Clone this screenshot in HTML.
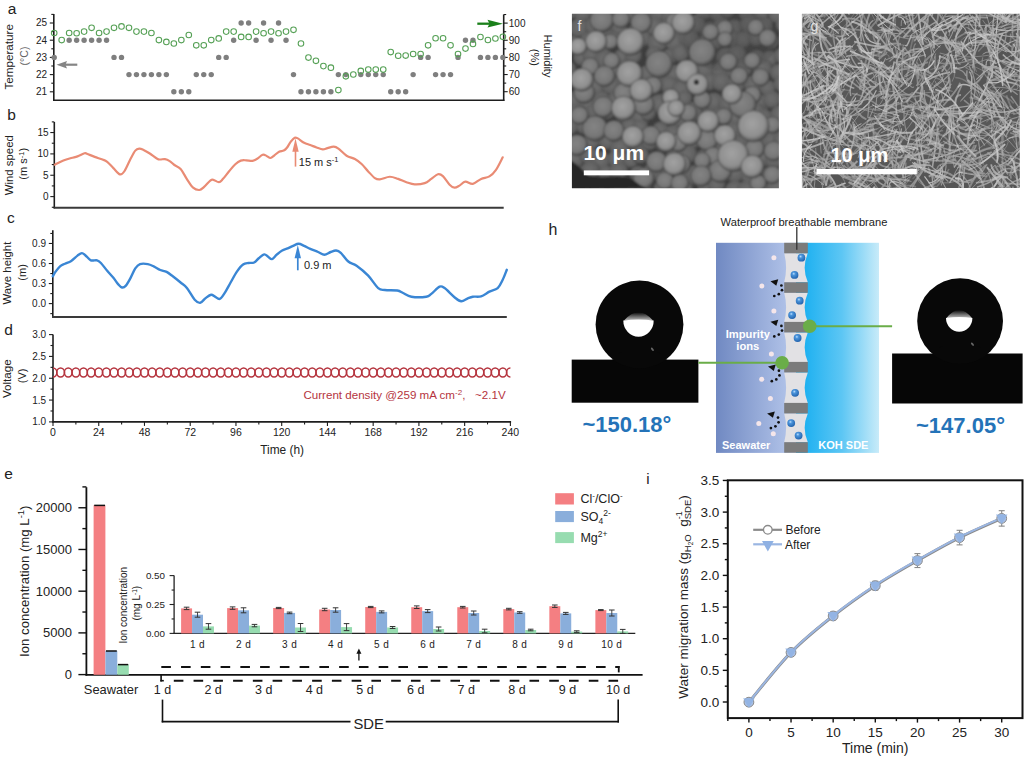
<!DOCTYPE html>
<html><head><meta charset="utf-8"><style>
html,body{margin:0;padding:0;background:#fff;}
svg{display:block;}
text{font-family:"Liberation Sans",sans-serif;}
</style></head><body>
<svg width="1024" height="757" viewBox="0 0 1024 757">
<rect width="1024" height="757" fill="#fff"/>
<text x="7.8" y="14" font-size="15.5" fill="#222" text-anchor="start" font-weight="normal" >a</text>
<line x1="53.8" y1="14" x2="53.8" y2="101" stroke="#1e1e1e" stroke-width="1.6" />
<line x1="53.1" y1="100.3" x2="504.4" y2="100.3" stroke="#1e1e1e" stroke-width="1.6" />
<line x1="503.7" y1="14.5" x2="503.7" y2="101" stroke="#1e1e1e" stroke-width="1.6" />
<line x1="51.3" y1="14.4" x2="53.8" y2="14.4" stroke="#1e1e1e" stroke-width="1.1" />
<line x1="49.8" y1="23" x2="53.8" y2="23" stroke="#1e1e1e" stroke-width="1.1" />
<text x="47.2" y="26.3" font-size="10" fill="#222" text-anchor="end" font-weight="normal" >25</text>
<line x1="51.3" y1="31.6" x2="53.8" y2="31.6" stroke="#1e1e1e" stroke-width="1.1" />
<line x1="49.8" y1="40.2" x2="53.8" y2="40.2" stroke="#1e1e1e" stroke-width="1.1" />
<text x="47.2" y="43.5" font-size="10" fill="#222" text-anchor="end" font-weight="normal" >24</text>
<line x1="51.3" y1="48.8" x2="53.8" y2="48.8" stroke="#1e1e1e" stroke-width="1.1" />
<line x1="49.8" y1="57.4" x2="53.8" y2="57.4" stroke="#1e1e1e" stroke-width="1.1" />
<text x="47.2" y="60.7" font-size="10" fill="#222" text-anchor="end" font-weight="normal" >23</text>
<line x1="51.3" y1="66" x2="53.8" y2="66" stroke="#1e1e1e" stroke-width="1.1" />
<line x1="49.8" y1="74.6" x2="53.8" y2="74.6" stroke="#1e1e1e" stroke-width="1.1" />
<text x="47.2" y="77.9" font-size="10" fill="#222" text-anchor="end" font-weight="normal" >22</text>
<line x1="51.3" y1="83.2" x2="53.8" y2="83.2" stroke="#1e1e1e" stroke-width="1.1" />
<line x1="49.8" y1="91.8" x2="53.8" y2="91.8" stroke="#1e1e1e" stroke-width="1.1" />
<text x="47.2" y="95.1" font-size="10" fill="#222" text-anchor="end" font-weight="normal" >21</text>
<line x1="503.7" y1="14.53" x2="506.2" y2="14.53" stroke="#1e1e1e" stroke-width="1.1" />
<line x1="503.7" y1="23.1" x2="507.7" y2="23.1" stroke="#1e1e1e" stroke-width="1.1" />
<text x="508.8" y="26.5" font-size="10" fill="#222" text-anchor="start" font-weight="normal" >100</text>
<line x1="503.7" y1="31.68" x2="506.2" y2="31.68" stroke="#1e1e1e" stroke-width="1.1" />
<line x1="503.7" y1="40.25" x2="507.7" y2="40.25" stroke="#1e1e1e" stroke-width="1.1" />
<text x="508.8" y="43.65" font-size="10" fill="#222" text-anchor="start" font-weight="normal" >90</text>
<line x1="503.7" y1="48.83" x2="506.2" y2="48.83" stroke="#1e1e1e" stroke-width="1.1" />
<line x1="503.7" y1="57.4" x2="507.7" y2="57.4" stroke="#1e1e1e" stroke-width="1.1" />
<text x="508.8" y="60.8" font-size="10" fill="#222" text-anchor="start" font-weight="normal" >80</text>
<line x1="503.7" y1="65.97" x2="506.2" y2="65.97" stroke="#1e1e1e" stroke-width="1.1" />
<line x1="503.7" y1="74.55" x2="507.7" y2="74.55" stroke="#1e1e1e" stroke-width="1.1" />
<text x="508.8" y="77.95" font-size="10" fill="#222" text-anchor="start" font-weight="normal" >70</text>
<line x1="503.7" y1="83.12" x2="506.2" y2="83.12" stroke="#1e1e1e" stroke-width="1.1" />
<line x1="503.7" y1="91.7" x2="507.7" y2="91.7" stroke="#1e1e1e" stroke-width="1.1" />
<text x="508.8" y="95.1" font-size="10" fill="#222" text-anchor="start" font-weight="normal" >60</text>
<text x="13.1" y="56.8" font-size="11.7" fill="#222" text-anchor="middle" font-weight="normal" transform="rotate(-90 13.1 56.8)" >Temperature</text>
<text x="28.3" y="56" font-size="10.5" fill="#606060" text-anchor="middle" font-weight="normal" transform="rotate(-90 28.3 56)" >(°C)</text>
<text x="544" y="56" font-size="11" fill="#222" text-anchor="middle" font-weight="normal" transform="rotate(90 544 56)" >Humidity</text>
<text x="531" y="57.3" font-size="11" fill="#222" text-anchor="middle" font-weight="normal" transform="rotate(90 531 57.3)" >(%)</text>
<circle cx="54.2" cy="57.4" r="2.7" fill="#7f7f7f"/>
<circle cx="69.16" cy="40.2" r="2.7" fill="#7f7f7f"/>
<circle cx="76.63" cy="40.2" r="2.7" fill="#7f7f7f"/>
<circle cx="84.11" cy="40.2" r="2.7" fill="#7f7f7f"/>
<circle cx="91.59" cy="40.2" r="2.7" fill="#7f7f7f"/>
<circle cx="99.07" cy="40.2" r="2.7" fill="#7f7f7f"/>
<circle cx="106.55" cy="40.2" r="2.7" fill="#7f7f7f"/>
<circle cx="114.02" cy="57.4" r="2.7" fill="#7f7f7f"/>
<circle cx="121.5" cy="57.4" r="2.7" fill="#7f7f7f"/>
<circle cx="128.98" cy="74.6" r="2.7" fill="#7f7f7f"/>
<circle cx="136.46" cy="74.6" r="2.7" fill="#7f7f7f"/>
<circle cx="143.94" cy="74.6" r="2.7" fill="#7f7f7f"/>
<circle cx="151.41" cy="74.6" r="2.7" fill="#7f7f7f"/>
<circle cx="158.89" cy="74.6" r="2.7" fill="#7f7f7f"/>
<circle cx="166.37" cy="74.6" r="2.7" fill="#7f7f7f"/>
<circle cx="173.85" cy="91.8" r="2.7" fill="#7f7f7f"/>
<circle cx="181.33" cy="91.8" r="2.7" fill="#7f7f7f"/>
<circle cx="188.8" cy="91.8" r="2.7" fill="#7f7f7f"/>
<circle cx="196.28" cy="74.6" r="2.7" fill="#7f7f7f"/>
<circle cx="203.76" cy="74.6" r="2.7" fill="#7f7f7f"/>
<circle cx="211.24" cy="74.6" r="2.7" fill="#7f7f7f"/>
<circle cx="218.72" cy="57.4" r="2.7" fill="#7f7f7f"/>
<circle cx="226.19" cy="57.4" r="2.7" fill="#7f7f7f"/>
<circle cx="233.67" cy="40.2" r="2.7" fill="#7f7f7f"/>
<circle cx="241.15" cy="23" r="2.7" fill="#7f7f7f"/>
<circle cx="248.63" cy="23" r="2.7" fill="#7f7f7f"/>
<circle cx="256.11" cy="40.2" r="2.7" fill="#7f7f7f"/>
<circle cx="263.58" cy="23" r="2.7" fill="#7f7f7f"/>
<circle cx="271.06" cy="40.2" r="2.7" fill="#7f7f7f"/>
<circle cx="278.54" cy="23" r="2.7" fill="#7f7f7f"/>
<circle cx="286.02" cy="40.2" r="2.7" fill="#7f7f7f"/>
<circle cx="293.5" cy="74.6" r="2.7" fill="#7f7f7f"/>
<circle cx="300.97" cy="91.8" r="2.7" fill="#7f7f7f"/>
<circle cx="308.45" cy="91.8" r="2.7" fill="#7f7f7f"/>
<circle cx="315.93" cy="91.8" r="2.7" fill="#7f7f7f"/>
<circle cx="323.41" cy="91.8" r="2.7" fill="#7f7f7f"/>
<circle cx="330.89" cy="91.8" r="2.7" fill="#7f7f7f"/>
<circle cx="338.36" cy="74.6" r="2.7" fill="#7f7f7f"/>
<circle cx="345.84" cy="74.6" r="2.7" fill="#7f7f7f"/>
<circle cx="360.8" cy="74.6" r="2.7" fill="#7f7f7f"/>
<circle cx="368.28" cy="74.6" r="2.7" fill="#7f7f7f"/>
<circle cx="375.75" cy="74.6" r="2.7" fill="#7f7f7f"/>
<circle cx="383.23" cy="74.6" r="2.7" fill="#7f7f7f"/>
<circle cx="390.71" cy="91.8" r="2.7" fill="#7f7f7f"/>
<circle cx="398.19" cy="91.8" r="2.7" fill="#7f7f7f"/>
<circle cx="405.67" cy="91.8" r="2.7" fill="#7f7f7f"/>
<circle cx="413.14" cy="74.6" r="2.7" fill="#7f7f7f"/>
<circle cx="420.62" cy="57.4" r="2.7" fill="#7f7f7f"/>
<circle cx="428.1" cy="57.4" r="2.7" fill="#7f7f7f"/>
<circle cx="435.58" cy="74.6" r="2.7" fill="#7f7f7f"/>
<circle cx="443.06" cy="74.6" r="2.7" fill="#7f7f7f"/>
<circle cx="450.53" cy="74.6" r="2.7" fill="#7f7f7f"/>
<circle cx="458.01" cy="57.4" r="2.7" fill="#7f7f7f"/>
<circle cx="465.49" cy="40.2" r="2.7" fill="#7f7f7f"/>
<circle cx="472.97" cy="40.2" r="2.7" fill="#7f7f7f"/>
<circle cx="480.45" cy="57.4" r="2.7" fill="#7f7f7f"/>
<circle cx="487.92" cy="57.4" r="2.7" fill="#7f7f7f"/>
<circle cx="495.4" cy="57.4" r="2.7" fill="#7f7f7f"/>
<circle cx="502.88" cy="57.4" r="2.7" fill="#7f7f7f"/>
<circle cx="54.2" cy="33" r="2.8" fill="none" stroke="#55a055" stroke-width="1.05"/>
<circle cx="61.68" cy="40.1" r="2.8" fill="none" stroke="#55a055" stroke-width="1.05"/>
<circle cx="69.16" cy="33" r="2.8" fill="none" stroke="#55a055" stroke-width="1.05"/>
<circle cx="76.63" cy="33.2" r="2.8" fill="none" stroke="#55a055" stroke-width="1.05"/>
<circle cx="84.11" cy="31.6" r="2.8" fill="none" stroke="#55a055" stroke-width="1.05"/>
<circle cx="91.59" cy="27.8" r="2.8" fill="none" stroke="#55a055" stroke-width="1.05"/>
<circle cx="99.07" cy="33" r="2.8" fill="none" stroke="#55a055" stroke-width="1.05"/>
<circle cx="106.55" cy="31.6" r="2.8" fill="none" stroke="#55a055" stroke-width="1.05"/>
<circle cx="114.02" cy="27.8" r="2.8" fill="none" stroke="#55a055" stroke-width="1.05"/>
<circle cx="121.5" cy="26.4" r="2.8" fill="none" stroke="#55a055" stroke-width="1.05"/>
<circle cx="128.98" cy="27.8" r="2.8" fill="none" stroke="#55a055" stroke-width="1.05"/>
<circle cx="136.46" cy="31.6" r="2.8" fill="none" stroke="#55a055" stroke-width="1.05"/>
<circle cx="143.94" cy="31.6" r="2.8" fill="none" stroke="#55a055" stroke-width="1.05"/>
<circle cx="151.41" cy="33" r="2.8" fill="none" stroke="#55a055" stroke-width="1.05"/>
<circle cx="158.89" cy="40.1" r="2.8" fill="none" stroke="#55a055" stroke-width="1.05"/>
<circle cx="166.37" cy="41.9" r="2.8" fill="none" stroke="#55a055" stroke-width="1.05"/>
<circle cx="173.85" cy="43.5" r="2.8" fill="none" stroke="#55a055" stroke-width="1.05"/>
<circle cx="181.33" cy="40.1" r="2.8" fill="none" stroke="#55a055" stroke-width="1.05"/>
<circle cx="188.8" cy="35" r="2.8" fill="none" stroke="#55a055" stroke-width="1.05"/>
<circle cx="196.28" cy="45.3" r="2.8" fill="none" stroke="#55a055" stroke-width="1.05"/>
<circle cx="203.76" cy="45.3" r="2.8" fill="none" stroke="#55a055" stroke-width="1.05"/>
<circle cx="211.24" cy="40.1" r="2.8" fill="none" stroke="#55a055" stroke-width="1.05"/>
<circle cx="218.72" cy="38.4" r="2.8" fill="none" stroke="#55a055" stroke-width="1.05"/>
<circle cx="226.19" cy="31.6" r="2.8" fill="none" stroke="#55a055" stroke-width="1.05"/>
<circle cx="233.67" cy="31.6" r="2.8" fill="none" stroke="#55a055" stroke-width="1.05"/>
<circle cx="241.15" cy="36.9" r="2.8" fill="none" stroke="#55a055" stroke-width="1.05"/>
<circle cx="248.63" cy="36.9" r="2.8" fill="none" stroke="#55a055" stroke-width="1.05"/>
<circle cx="256.11" cy="31.6" r="2.8" fill="none" stroke="#55a055" stroke-width="1.05"/>
<circle cx="263.58" cy="33.2" r="2.8" fill="none" stroke="#55a055" stroke-width="1.05"/>
<circle cx="271.06" cy="31.6" r="2.8" fill="none" stroke="#55a055" stroke-width="1.05"/>
<circle cx="278.54" cy="33.2" r="2.8" fill="none" stroke="#55a055" stroke-width="1.05"/>
<circle cx="286.02" cy="31.6" r="2.8" fill="none" stroke="#55a055" stroke-width="1.05"/>
<circle cx="293.5" cy="29.8" r="2.8" fill="none" stroke="#55a055" stroke-width="1.05"/>
<circle cx="300.97" cy="43.5" r="2.8" fill="none" stroke="#55a055" stroke-width="1.05"/>
<circle cx="308.45" cy="57.6" r="2.8" fill="none" stroke="#55a055" stroke-width="1.05"/>
<circle cx="315.93" cy="60.8" r="2.8" fill="none" stroke="#55a055" stroke-width="1.05"/>
<circle cx="323.41" cy="66.1" r="2.8" fill="none" stroke="#55a055" stroke-width="1.05"/>
<circle cx="330.89" cy="67.7" r="2.8" fill="none" stroke="#55a055" stroke-width="1.05"/>
<circle cx="338.36" cy="90.1" r="2.8" fill="none" stroke="#55a055" stroke-width="1.05"/>
<circle cx="345.84" cy="76.3" r="2.8" fill="none" stroke="#55a055" stroke-width="1.05"/>
<circle cx="353.32" cy="74.5" r="2.8" fill="none" stroke="#55a055" stroke-width="1.05"/>
<circle cx="360.8" cy="70.9" r="2.8" fill="none" stroke="#55a055" stroke-width="1.05"/>
<circle cx="368.28" cy="69.6" r="2.8" fill="none" stroke="#55a055" stroke-width="1.05"/>
<circle cx="375.75" cy="69.6" r="2.8" fill="none" stroke="#55a055" stroke-width="1.05"/>
<circle cx="383.23" cy="69.6" r="2.8" fill="none" stroke="#55a055" stroke-width="1.05"/>
<circle cx="390.71" cy="52.1" r="2.8" fill="none" stroke="#55a055" stroke-width="1.05"/>
<circle cx="398.19" cy="55.7" r="2.8" fill="none" stroke="#55a055" stroke-width="1.05"/>
<circle cx="405.67" cy="55.6" r="2.8" fill="none" stroke="#55a055" stroke-width="1.05"/>
<circle cx="413.14" cy="54" r="2.8" fill="none" stroke="#55a055" stroke-width="1.05"/>
<circle cx="420.62" cy="54.1" r="2.8" fill="none" stroke="#55a055" stroke-width="1.05"/>
<circle cx="428.1" cy="45.3" r="2.8" fill="none" stroke="#55a055" stroke-width="1.05"/>
<circle cx="435.58" cy="38.2" r="2.8" fill="none" stroke="#55a055" stroke-width="1.05"/>
<circle cx="443.06" cy="38.2" r="2.8" fill="none" stroke="#55a055" stroke-width="1.05"/>
<circle cx="450.53" cy="45.3" r="2.8" fill="none" stroke="#55a055" stroke-width="1.05"/>
<circle cx="458.01" cy="54" r="2.8" fill="none" stroke="#55a055" stroke-width="1.05"/>
<circle cx="465.49" cy="48.6" r="2.8" fill="none" stroke="#55a055" stroke-width="1.05"/>
<circle cx="472.97" cy="43.9" r="2.8" fill="none" stroke="#55a055" stroke-width="1.05"/>
<circle cx="480.45" cy="37" r="2.8" fill="none" stroke="#55a055" stroke-width="1.05"/>
<circle cx="487.92" cy="40" r="2.8" fill="none" stroke="#55a055" stroke-width="1.05"/>
<circle cx="495.4" cy="38.5" r="2.8" fill="none" stroke="#55a055" stroke-width="1.05"/>
<circle cx="502.88" cy="36.8" r="2.8" fill="none" stroke="#55a055" stroke-width="1.05"/>
<path d="M56.5,64.7 L67,61 L65.5,64.7 L67,68.4 Z" fill="#858585"/>
<line x1="64" y1="64.7" x2="77.3" y2="64.7" stroke="#858585" stroke-width="2.2" />
<path d="M503,23.7 L487.5,19.8 L489.5,23.7 L487.5,27.6 Z" fill="#1a801a"/>
<line x1="477.3" y1="23.7" x2="490" y2="23.7" stroke="#1a801a" stroke-width="2.3" />
<text x="7.2" y="119.9" font-size="15.5" fill="#222" text-anchor="start" font-weight="normal" >b</text>
<line x1="54.3" y1="122" x2="54.3" y2="208.4" stroke="#1e1e1e" stroke-width="1.6" />
<line x1="53.6" y1="207.7" x2="503.7" y2="207.7" stroke="#3a3a3a" stroke-width="1.9" />
<line x1="51.8" y1="121.88" x2="54.3" y2="121.88" stroke="#1e1e1e" stroke-width="1.1" />
<line x1="50.3" y1="132.55" x2="54.3" y2="132.55" stroke="#1e1e1e" stroke-width="1.1" />
<text x="48.6" y="136.05" font-size="10" fill="#222" text-anchor="end" font-weight="normal" >15</text>
<line x1="51.8" y1="143.22" x2="54.3" y2="143.22" stroke="#1e1e1e" stroke-width="1.1" />
<line x1="50.3" y1="153.9" x2="54.3" y2="153.9" stroke="#1e1e1e" stroke-width="1.1" />
<text x="48.6" y="157.4" font-size="10" fill="#222" text-anchor="end" font-weight="normal" >10</text>
<line x1="51.8" y1="164.57" x2="54.3" y2="164.57" stroke="#1e1e1e" stroke-width="1.1" />
<line x1="50.3" y1="175.25" x2="54.3" y2="175.25" stroke="#1e1e1e" stroke-width="1.1" />
<text x="48.6" y="178.75" font-size="10" fill="#222" text-anchor="end" font-weight="normal" >5</text>
<line x1="51.8" y1="185.92" x2="54.3" y2="185.92" stroke="#1e1e1e" stroke-width="1.1" />
<line x1="50.3" y1="196.6" x2="54.3" y2="196.6" stroke="#1e1e1e" stroke-width="1.1" />
<text x="48.6" y="200.1" font-size="10" fill="#222" text-anchor="end" font-weight="normal" >0</text>
<line x1="51.8" y1="207.28" x2="54.3" y2="207.28" stroke="#1e1e1e" stroke-width="1.1" />
<text x="12.7" y="165.2" font-size="11.4" fill="#222" text-anchor="middle" font-weight="normal" transform="rotate(-90 12.7 165.2)" >Wind speed</text>
<text x="27.3" y="163.8" font-size="11" fill="#222" text-anchor="middle" font-weight="normal" transform="rotate(-90 27.3 163.8)" >(m s<tspan dy="-3.5" font-size="7.5">-1</tspan><tspan dy="3.5">)</tspan></text>
<path d="M54.8,164.7 C56.23,164.02 60.65,161.72 63.4,160.6 C66.15,159.48 68.95,158.7 71.3,158 C73.65,157.3 75.3,157.18 77.5,156.4 C79.7,155.62 82.93,153.74 84.5,153.3 C86.07,152.86 85.2,153.15 86.9,153.75 C88.6,154.35 92.1,155.94 94.7,156.9 C97.3,157.86 100.42,158.67 102.5,159.5 C104.58,160.33 105.38,160.47 107.2,161.9 C109.02,163.33 111.27,166.02 113.4,168.1 C115.53,170.18 118.17,173.88 120,174.4 C121.83,174.93 122.63,173.86 124.4,171.25 C126.17,168.64 128.78,162.19 130.6,158.75 C132.42,155.31 133.87,152.29 135.3,150.6 C136.73,148.91 137.9,148.75 139.2,148.6 C140.5,148.45 141.4,148.92 143.1,149.7 C144.8,150.48 147.05,151.79 149.4,153.3 C151.75,154.81 155.38,157.72 157.2,158.75 C159.02,159.78 159,159.44 160.3,159.5 C161.6,159.56 163.43,158.83 165,159.1 C166.57,159.37 168.13,160.12 169.7,161.1 C171.27,162.08 172.58,163.7 174.4,165 C176.22,166.3 178.52,166.55 180.6,168.9 C182.68,171.25 184.82,175.97 186.9,179.1 C188.98,182.23 191.02,185.88 193.1,187.7 C195.18,189.52 197.57,190.13 199.4,190 C201.23,189.87 202.28,188.47 204.1,186.9 C205.92,185.33 208.75,181.78 210.3,180.6 C211.85,179.42 211.97,179.53 213.4,179.8 C214.83,180.07 217.33,182.32 218.9,182.2 C220.47,182.08 221.1,180.92 222.8,179.1 C224.5,177.28 227.02,173.73 229.1,171.25 C231.18,168.77 233.35,165.97 235.3,164.2 C237.25,162.42 238.98,161.25 240.8,160.6 C242.62,159.95 244.3,160.27 246.25,160.3 C248.2,160.33 250.68,161.06 252.5,160.8 C254.32,160.54 255.5,159.75 257.2,158.75 C258.9,157.75 261.13,155.28 262.7,154.8 C264.27,154.33 265.3,155.37 266.6,155.9 C267.9,156.43 269.2,158.1 270.5,158 C271.8,157.9 272.97,156.35 274.4,155.3 C275.83,154.25 277.54,152.48 279.1,151.7 C280.66,150.92 282.45,151.25 283.75,150.6 C285.05,149.95 285.72,149.3 286.9,147.8 C288.07,146.3 289.5,143.28 290.8,141.6 C292.1,139.92 293.53,138.23 294.7,137.7 C295.87,137.17 296.23,137.55 297.8,138.4 C299.37,139.25 302.02,141.7 304.1,142.8 C306.18,143.9 308.22,144.22 310.3,145 C312.38,145.78 314.52,146.77 316.6,147.5 C318.68,148.23 320.98,149.3 322.8,149.4 C324.62,149.5 325.68,148.55 327.5,148.1 C329.32,147.65 331.93,146.62 333.75,146.7 C335.57,146.78 336.26,147.1 338.4,148.6 C340.54,150.1 343.85,153.97 346.6,155.7 C349.35,157.43 352.4,157.62 354.9,159 C357.4,160.38 359.38,161.93 361.6,164 C363.82,166.07 365.98,169.05 368.2,171.4 C370.42,173.75 372.97,176.77 374.9,178.1 C376.83,179.43 377.32,179.62 379.8,179.4 C382.28,179.18 386.75,176.83 389.8,176.75 C392.85,176.67 395.33,177.99 398.1,178.9 C400.87,179.81 403.63,181.28 406.4,182.2 C409.17,183.12 411.65,184.25 414.7,184.4 C417.75,184.55 421.93,184.02 424.7,183.1 C427.47,182.18 429.1,180.37 431.3,178.9 C433.5,177.43 435.97,174.77 437.9,174.3 C439.83,173.83 440.95,174.37 442.9,176.1 C444.85,177.83 447.67,182.77 449.6,184.7 C451.53,186.63 452.85,187.55 454.5,187.7 C456.15,187.85 457.7,186.6 459.5,185.6 C461.3,184.6 463.08,181.98 465.3,181.7 C467.52,181.42 470.17,184.37 472.8,183.9 C475.43,183.43 478.33,180.15 481.1,178.9 C483.87,177.65 486.92,177.92 489.4,176.4 C491.88,174.88 493.78,172.98 496,169.8 C498.22,166.62 501.58,159.38 502.7,157.3" fill="none" stroke="#e98b74" stroke-width="2.2" stroke-linejoin="round" stroke-linecap="round"/>
<line x1="295.5" y1="166.6" x2="295.5" y2="148" stroke="#e98b74" stroke-width="1.6" />
<path d="M295.5,138.4 L292.3,151.7 L298.7,151.7 Z" fill="#e98b74"/>
<text x="298.8" y="166.3" font-size="11" fill="#222" text-anchor="start" font-weight="normal" >15 m s<tspan dy="-4" font-size="7.5">-1</tspan></text>
<text x="7.1" y="223.3" font-size="15.5" fill="#222" text-anchor="start" font-weight="normal" >c</text>
<line x1="52.8" y1="230.2" x2="52.8" y2="317.7" stroke="#1e1e1e" stroke-width="1.6" />
<line x1="52.1" y1="317" x2="506.8" y2="317" stroke="#3a3a3a" stroke-width="1.9" />
<line x1="50.3" y1="233.46" x2="52.8" y2="233.46" stroke="#1e1e1e" stroke-width="1.1" />
<line x1="48.8" y1="243.48" x2="52.8" y2="243.48" stroke="#1e1e1e" stroke-width="1.1" />
<text x="46" y="246.98" font-size="10" fill="#222" text-anchor="end" font-weight="normal" >0.9</text>
<line x1="50.3" y1="253.5" x2="52.8" y2="253.5" stroke="#1e1e1e" stroke-width="1.1" />
<line x1="48.8" y1="263.52" x2="52.8" y2="263.52" stroke="#1e1e1e" stroke-width="1.1" />
<text x="46" y="267.02" font-size="10" fill="#222" text-anchor="end" font-weight="normal" >0.6</text>
<line x1="50.3" y1="273.54" x2="52.8" y2="273.54" stroke="#1e1e1e" stroke-width="1.1" />
<line x1="48.8" y1="283.56" x2="52.8" y2="283.56" stroke="#1e1e1e" stroke-width="1.1" />
<text x="46" y="287.06" font-size="10" fill="#222" text-anchor="end" font-weight="normal" >0.3</text>
<line x1="50.3" y1="293.58" x2="52.8" y2="293.58" stroke="#1e1e1e" stroke-width="1.1" />
<line x1="48.8" y1="303.6" x2="52.8" y2="303.6" stroke="#1e1e1e" stroke-width="1.1" />
<text x="46" y="307.1" font-size="10" fill="#222" text-anchor="end" font-weight="normal" >0.0</text>
<line x1="50.3" y1="313.62" x2="52.8" y2="313.62" stroke="#1e1e1e" stroke-width="1.1" />
<text x="10.6" y="273.1" font-size="11.4" fill="#222" text-anchor="middle" font-weight="normal" transform="rotate(-90 10.6 273.1)" >Wave height</text>
<text x="26.2" y="272.4" font-size="11" fill="#222" text-anchor="middle" font-weight="normal" transform="rotate(-90 26.2 272.4)" >(m)</text>
<path d="M52.8,276.25 C53.27,275.48 54.35,273.29 55.6,271.6 C56.85,269.91 58.73,267.41 60.3,266.1 C61.87,264.79 63.17,264.62 65,263.75 C66.83,262.88 69.17,262.26 71.25,260.9 C73.33,259.54 75.72,256.9 77.5,255.6 C79.28,254.3 80.6,253.17 81.9,253.1 C83.2,253.03 83.82,254 85.3,255.2 C86.78,256.4 88.85,259.45 90.8,260.3 C92.75,261.15 95.32,259.85 97,260.3 C98.68,260.75 99.2,261.25 100.9,263 C102.6,264.75 105.12,268.33 107.2,270.8 C109.28,273.27 111.58,275.58 113.4,277.8 C115.22,280.02 116.67,282.48 118.1,284.1 C119.53,285.72 120.7,287.25 122,287.5 C123.3,287.75 124.47,287.22 125.9,285.6 C127.33,283.98 129.03,280.67 130.6,277.8 C132.17,274.93 133.73,270.68 135.3,268.4 C136.87,266.12 137.92,264.82 140,264.1 C142.08,263.38 145.45,263.68 147.8,264.1 C150.15,264.52 152.02,265.62 154.1,266.6 C156.18,267.58 158.22,269.12 160.3,270 C162.38,270.88 164.52,270.86 166.6,271.9 C168.68,272.94 170.47,274.48 172.8,276.25 C175.13,278.02 178.25,280.54 180.6,282.5 C182.95,284.46 184.55,285.13 186.9,288 C189.25,290.87 192.48,297.23 194.7,299.7 C196.92,302.17 198.38,303.07 200.2,302.8 C202.02,302.53 203.78,299.45 205.6,298.1 C207.42,296.75 209.53,294.95 211.1,294.7 C212.67,294.45 213.57,295.9 215,296.6 C216.43,297.3 218.13,299.43 219.7,298.9 C221.27,298.37 222.58,296.13 224.4,293.4 C226.22,290.67 228.52,286.13 230.6,282.5 C232.68,278.87 234.82,274.6 236.9,271.6 C238.98,268.6 241.15,265.93 243.1,264.5 C245.05,263.07 246.77,263.33 248.6,263 C250.43,262.67 252.41,263.28 254.1,262.5 C255.79,261.72 257.07,259.65 258.75,258.3 C260.43,256.95 262.64,254.67 264.2,254.4 C265.76,254.13 266.8,255.92 268.1,256.7 C269.4,257.48 270.57,259.43 272,259.1 C273.43,258.77 275,256.13 276.7,254.7 C278.4,253.27 280.37,251.55 282.2,250.5 C284.03,249.45 285.88,249.18 287.7,248.4 C289.52,247.62 291.28,246.58 293.1,245.8 C294.92,245.03 296.77,243.75 298.6,243.75 C300.43,243.75 302.15,244.94 304.1,245.8 C306.05,246.66 307.97,247.87 310.3,248.9 C312.63,249.93 315.75,251.03 318.1,252 C320.45,252.97 322.32,254.7 324.4,254.7 C326.48,254.7 328.65,252.7 330.6,252 C332.55,251.3 334.4,250.37 336.1,250.5 C337.8,250.63 338.77,250.97 340.8,252.8 C342.83,254.63 345.67,259.36 348.3,261.5 C350.93,263.64 353.28,263.3 356.6,265.65 C359.92,268 364.6,271.86 368.2,275.6 C371.8,279.34 375.43,285.7 378.2,288.1 C380.97,290.5 381.62,289.59 384.8,290 C387.98,290.41 394.25,290.05 397.3,290.55 C400.35,291.05 400.75,291.98 403.1,293 C405.45,294.02 407.53,296.08 411.4,296.7 C415.27,297.32 422.98,297.17 426.3,296.7 C429.62,296.23 429.08,295.57 431.3,293.9 C433.52,292.23 437.38,287.67 439.6,286.7 C441.82,285.73 442.12,286.35 444.6,288.1 C447.08,289.85 451.73,295 454.5,297.2 C457.27,299.4 458.98,301.11 461.2,301.3 C463.42,301.49 465.87,299.12 467.8,298.35 C469.73,297.58 470.58,297.03 472.8,296.7 C475.02,296.37 478.33,297.18 481.1,296.35 C483.87,295.52 486.63,293.07 489.4,291.7 C492.17,290.32 495.48,290.08 497.7,288.1 C499.92,286.12 501.18,282.85 502.7,279.8 C504.22,276.75 506.12,271.47 506.8,269.8" fill="none" stroke="#3a86d4" stroke-width="2.4" stroke-linejoin="round" stroke-linecap="round"/>
<line x1="297.8" y1="270.3" x2="297.8" y2="255" stroke="#3a86d4" stroke-width="1.7" />
<path d="M297.8,245 L294.6,258.3 L301,258.3 Z" fill="#3a86d4"/>
<text x="304" y="268.8" font-size="11" fill="#222" text-anchor="start" font-weight="normal" >0.9 m</text>
<text x="4.2" y="334.9" font-size="15.5" fill="#222" text-anchor="start" font-weight="normal" >d</text>
<line x1="53" y1="334.6" x2="53" y2="422.6" stroke="#1e1e1e" stroke-width="1.6" />
<line x1="52.3" y1="421.9" x2="511.1" y2="421.9" stroke="#1e1e1e" stroke-width="1.6" />
<line x1="49" y1="334.6" x2="53" y2="334.6" stroke="#1e1e1e" stroke-width="1.1" />
<text x="46.2" y="338.1" font-size="10" fill="#222" text-anchor="end" font-weight="normal" >3.0</text>
<line x1="50.5" y1="345.51" x2="53" y2="345.51" stroke="#1e1e1e" stroke-width="1.1" />
<line x1="49" y1="356.42" x2="53" y2="356.42" stroke="#1e1e1e" stroke-width="1.1" />
<text x="46.2" y="359.92" font-size="10" fill="#222" text-anchor="end" font-weight="normal" >2.5</text>
<line x1="50.5" y1="367.34" x2="53" y2="367.34" stroke="#1e1e1e" stroke-width="1.1" />
<line x1="49" y1="378.25" x2="53" y2="378.25" stroke="#1e1e1e" stroke-width="1.1" />
<text x="46.2" y="381.75" font-size="10" fill="#222" text-anchor="end" font-weight="normal" >2.0</text>
<line x1="50.5" y1="389.16" x2="53" y2="389.16" stroke="#1e1e1e" stroke-width="1.1" />
<line x1="49" y1="400.07" x2="53" y2="400.07" stroke="#1e1e1e" stroke-width="1.1" />
<text x="46.2" y="403.57" font-size="10" fill="#222" text-anchor="end" font-weight="normal" >1.5</text>
<line x1="50.5" y1="410.99" x2="53" y2="410.99" stroke="#1e1e1e" stroke-width="1.1" />
<line x1="49" y1="421.9" x2="53" y2="421.9" stroke="#1e1e1e" stroke-width="1.1" />
<text x="46.2" y="425.4" font-size="10" fill="#222" text-anchor="end" font-weight="normal" >1.0</text>
<line x1="53" y1="421.9" x2="53" y2="425.9" stroke="#1e1e1e" stroke-width="1.1" />
<text x="53" y="436.2" font-size="10.5" fill="#222" text-anchor="middle" font-weight="normal" >0</text>
<line x1="75.87" y1="421.9" x2="75.87" y2="424.4" stroke="#1e1e1e" stroke-width="1.1" />
<line x1="98.74" y1="421.9" x2="98.74" y2="425.9" stroke="#1e1e1e" stroke-width="1.1" />
<text x="98.74" y="436.2" font-size="10.5" fill="#222" text-anchor="middle" font-weight="normal" >24</text>
<line x1="121.61" y1="421.9" x2="121.61" y2="424.4" stroke="#1e1e1e" stroke-width="1.1" />
<line x1="144.48" y1="421.9" x2="144.48" y2="425.9" stroke="#1e1e1e" stroke-width="1.1" />
<text x="144.48" y="436.2" font-size="10.5" fill="#222" text-anchor="middle" font-weight="normal" >48</text>
<line x1="167.35" y1="421.9" x2="167.35" y2="424.4" stroke="#1e1e1e" stroke-width="1.1" />
<line x1="190.22" y1="421.9" x2="190.22" y2="425.9" stroke="#1e1e1e" stroke-width="1.1" />
<text x="190.22" y="436.2" font-size="10.5" fill="#222" text-anchor="middle" font-weight="normal" >72</text>
<line x1="213.09" y1="421.9" x2="213.09" y2="424.4" stroke="#1e1e1e" stroke-width="1.1" />
<line x1="235.96" y1="421.9" x2="235.96" y2="425.9" stroke="#1e1e1e" stroke-width="1.1" />
<text x="235.96" y="436.2" font-size="10.5" fill="#222" text-anchor="middle" font-weight="normal" >96</text>
<line x1="258.83" y1="421.9" x2="258.83" y2="424.4" stroke="#1e1e1e" stroke-width="1.1" />
<line x1="281.7" y1="421.9" x2="281.7" y2="425.9" stroke="#1e1e1e" stroke-width="1.1" />
<text x="281.7" y="436.2" font-size="10.5" fill="#222" text-anchor="middle" font-weight="normal" >120</text>
<line x1="304.57" y1="421.9" x2="304.57" y2="424.4" stroke="#1e1e1e" stroke-width="1.1" />
<line x1="327.44" y1="421.9" x2="327.44" y2="425.9" stroke="#1e1e1e" stroke-width="1.1" />
<text x="327.44" y="436.2" font-size="10.5" fill="#222" text-anchor="middle" font-weight="normal" >144</text>
<line x1="350.3" y1="421.9" x2="350.3" y2="424.4" stroke="#1e1e1e" stroke-width="1.1" />
<line x1="373.17" y1="421.9" x2="373.17" y2="425.9" stroke="#1e1e1e" stroke-width="1.1" />
<text x="373.17" y="436.2" font-size="10.5" fill="#222" text-anchor="middle" font-weight="normal" >168</text>
<line x1="396.04" y1="421.9" x2="396.04" y2="424.4" stroke="#1e1e1e" stroke-width="1.1" />
<line x1="418.91" y1="421.9" x2="418.91" y2="425.9" stroke="#1e1e1e" stroke-width="1.1" />
<text x="418.91" y="436.2" font-size="10.5" fill="#222" text-anchor="middle" font-weight="normal" >192</text>
<line x1="441.78" y1="421.9" x2="441.78" y2="424.4" stroke="#1e1e1e" stroke-width="1.1" />
<line x1="464.65" y1="421.9" x2="464.65" y2="425.9" stroke="#1e1e1e" stroke-width="1.1" />
<text x="464.65" y="436.2" font-size="10.5" fill="#222" text-anchor="middle" font-weight="normal" >216</text>
<line x1="487.52" y1="421.9" x2="487.52" y2="424.4" stroke="#1e1e1e" stroke-width="1.1" />
<line x1="510.39" y1="421.9" x2="510.39" y2="425.9" stroke="#1e1e1e" stroke-width="1.1" />
<text x="510.39" y="436.2" font-size="10.5" fill="#222" text-anchor="middle" font-weight="normal" >240</text>
<text x="260.2" y="453.6" font-size="11.9" fill="#222" text-anchor="start" font-weight="normal" >Time (h)</text>
<text x="10.6" y="378.7" font-size="11.6" fill="#222" text-anchor="middle" font-weight="normal" transform="rotate(-90 10.6 378.7)" >Voltage</text>
<text x="26.2" y="375.8" font-size="11" fill="#222" text-anchor="middle" font-weight="normal" transform="rotate(-90 26.2 375.8)" >(V)</text>
<clipPath id="cd"><rect x="53" y="330" width="457.4" height="90"/></clipPath>
<g clip-path="url(#cd)">
<ellipse cx="53" cy="372.5" rx="3.85" ry="4.45" fill="none" stroke="#b5343e" stroke-width="1.5"/>
<ellipse cx="60.62" cy="372.5" rx="3.85" ry="4.45" fill="none" stroke="#b5343e" stroke-width="1.5"/>
<ellipse cx="68.25" cy="372.5" rx="3.85" ry="4.45" fill="none" stroke="#b5343e" stroke-width="1.5"/>
<ellipse cx="75.87" cy="372.5" rx="3.85" ry="4.45" fill="none" stroke="#b5343e" stroke-width="1.5"/>
<ellipse cx="83.5" cy="372.5" rx="3.85" ry="4.45" fill="none" stroke="#b5343e" stroke-width="1.5"/>
<ellipse cx="91.12" cy="372.5" rx="3.85" ry="4.45" fill="none" stroke="#b5343e" stroke-width="1.5"/>
<ellipse cx="98.74" cy="372.5" rx="3.85" ry="4.45" fill="none" stroke="#b5343e" stroke-width="1.5"/>
<ellipse cx="106.37" cy="372.5" rx="3.85" ry="4.45" fill="none" stroke="#b5343e" stroke-width="1.5"/>
<ellipse cx="113.99" cy="372.5" rx="3.85" ry="4.45" fill="none" stroke="#b5343e" stroke-width="1.5"/>
<ellipse cx="121.62" cy="372.5" rx="3.85" ry="4.45" fill="none" stroke="#b5343e" stroke-width="1.5"/>
<ellipse cx="129.24" cy="372.5" rx="3.85" ry="4.45" fill="none" stroke="#b5343e" stroke-width="1.5"/>
<ellipse cx="136.86" cy="372.5" rx="3.85" ry="4.45" fill="none" stroke="#b5343e" stroke-width="1.5"/>
<ellipse cx="144.49" cy="372.5" rx="3.85" ry="4.45" fill="none" stroke="#b5343e" stroke-width="1.5"/>
<ellipse cx="152.11" cy="372.5" rx="3.85" ry="4.45" fill="none" stroke="#b5343e" stroke-width="1.5"/>
<ellipse cx="159.74" cy="372.5" rx="3.85" ry="4.45" fill="none" stroke="#b5343e" stroke-width="1.5"/>
<ellipse cx="167.36" cy="372.5" rx="3.85" ry="4.45" fill="none" stroke="#b5343e" stroke-width="1.5"/>
<ellipse cx="174.98" cy="372.5" rx="3.85" ry="4.45" fill="none" stroke="#b5343e" stroke-width="1.5"/>
<ellipse cx="182.61" cy="372.5" rx="3.85" ry="4.45" fill="none" stroke="#b5343e" stroke-width="1.5"/>
<ellipse cx="190.23" cy="372.5" rx="3.85" ry="4.45" fill="none" stroke="#b5343e" stroke-width="1.5"/>
<ellipse cx="197.86" cy="372.5" rx="3.85" ry="4.45" fill="none" stroke="#b5343e" stroke-width="1.5"/>
<ellipse cx="205.48" cy="372.5" rx="3.85" ry="4.45" fill="none" stroke="#b5343e" stroke-width="1.5"/>
<ellipse cx="213.1" cy="372.5" rx="3.85" ry="4.45" fill="none" stroke="#b5343e" stroke-width="1.5"/>
<ellipse cx="220.73" cy="372.5" rx="3.85" ry="4.45" fill="none" stroke="#b5343e" stroke-width="1.5"/>
<ellipse cx="228.35" cy="372.5" rx="3.85" ry="4.45" fill="none" stroke="#b5343e" stroke-width="1.5"/>
<ellipse cx="235.98" cy="372.5" rx="3.85" ry="4.45" fill="none" stroke="#b5343e" stroke-width="1.5"/>
<ellipse cx="243.6" cy="372.5" rx="3.85" ry="4.45" fill="none" stroke="#b5343e" stroke-width="1.5"/>
<ellipse cx="251.22" cy="372.5" rx="3.85" ry="4.45" fill="none" stroke="#b5343e" stroke-width="1.5"/>
<ellipse cx="258.85" cy="372.5" rx="3.85" ry="4.45" fill="none" stroke="#b5343e" stroke-width="1.5"/>
<ellipse cx="266.47" cy="372.5" rx="3.85" ry="4.45" fill="none" stroke="#b5343e" stroke-width="1.5"/>
<ellipse cx="274.1" cy="372.5" rx="3.85" ry="4.45" fill="none" stroke="#b5343e" stroke-width="1.5"/>
<ellipse cx="281.72" cy="372.5" rx="3.85" ry="4.45" fill="none" stroke="#b5343e" stroke-width="1.5"/>
<ellipse cx="289.34" cy="372.5" rx="3.85" ry="4.45" fill="none" stroke="#b5343e" stroke-width="1.5"/>
<ellipse cx="296.97" cy="372.5" rx="3.85" ry="4.45" fill="none" stroke="#b5343e" stroke-width="1.5"/>
<ellipse cx="304.59" cy="372.5" rx="3.85" ry="4.45" fill="none" stroke="#b5343e" stroke-width="1.5"/>
<ellipse cx="312.22" cy="372.5" rx="3.85" ry="4.45" fill="none" stroke="#b5343e" stroke-width="1.5"/>
<ellipse cx="319.84" cy="372.5" rx="3.85" ry="4.45" fill="none" stroke="#b5343e" stroke-width="1.5"/>
<ellipse cx="327.46" cy="372.5" rx="3.85" ry="4.45" fill="none" stroke="#b5343e" stroke-width="1.5"/>
<ellipse cx="335.09" cy="372.5" rx="3.85" ry="4.45" fill="none" stroke="#b5343e" stroke-width="1.5"/>
<ellipse cx="342.71" cy="372.5" rx="3.85" ry="4.45" fill="none" stroke="#b5343e" stroke-width="1.5"/>
<ellipse cx="350.34" cy="372.5" rx="3.85" ry="4.45" fill="none" stroke="#b5343e" stroke-width="1.5"/>
<ellipse cx="357.96" cy="372.5" rx="3.85" ry="4.45" fill="none" stroke="#b5343e" stroke-width="1.5"/>
<ellipse cx="365.58" cy="372.5" rx="3.85" ry="4.45" fill="none" stroke="#b5343e" stroke-width="1.5"/>
<ellipse cx="373.21" cy="372.5" rx="3.85" ry="4.45" fill="none" stroke="#b5343e" stroke-width="1.5"/>
<ellipse cx="380.83" cy="372.5" rx="3.85" ry="4.45" fill="none" stroke="#b5343e" stroke-width="1.5"/>
<ellipse cx="388.46" cy="372.5" rx="3.85" ry="4.45" fill="none" stroke="#b5343e" stroke-width="1.5"/>
<ellipse cx="396.08" cy="372.5" rx="3.85" ry="4.45" fill="none" stroke="#b5343e" stroke-width="1.5"/>
<ellipse cx="403.7" cy="372.5" rx="3.85" ry="4.45" fill="none" stroke="#b5343e" stroke-width="1.5"/>
<ellipse cx="411.33" cy="372.5" rx="3.85" ry="4.45" fill="none" stroke="#b5343e" stroke-width="1.5"/>
<ellipse cx="418.95" cy="372.5" rx="3.85" ry="4.45" fill="none" stroke="#b5343e" stroke-width="1.5"/>
<ellipse cx="426.58" cy="372.5" rx="3.85" ry="4.45" fill="none" stroke="#b5343e" stroke-width="1.5"/>
<ellipse cx="434.2" cy="372.5" rx="3.85" ry="4.45" fill="none" stroke="#b5343e" stroke-width="1.5"/>
<ellipse cx="441.82" cy="372.5" rx="3.85" ry="4.45" fill="none" stroke="#b5343e" stroke-width="1.5"/>
<ellipse cx="449.45" cy="372.5" rx="3.85" ry="4.45" fill="none" stroke="#b5343e" stroke-width="1.5"/>
<ellipse cx="457.07" cy="372.5" rx="3.85" ry="4.45" fill="none" stroke="#b5343e" stroke-width="1.5"/>
<ellipse cx="464.7" cy="372.5" rx="3.85" ry="4.45" fill="none" stroke="#b5343e" stroke-width="1.5"/>
<ellipse cx="472.32" cy="372.5" rx="3.85" ry="4.45" fill="none" stroke="#b5343e" stroke-width="1.5"/>
<ellipse cx="479.94" cy="372.5" rx="3.85" ry="4.45" fill="none" stroke="#b5343e" stroke-width="1.5"/>
<ellipse cx="487.57" cy="372.5" rx="3.85" ry="4.45" fill="none" stroke="#b5343e" stroke-width="1.5"/>
<ellipse cx="495.19" cy="372.5" rx="3.85" ry="4.45" fill="none" stroke="#b5343e" stroke-width="1.5"/>
<ellipse cx="502.82" cy="372.5" rx="3.85" ry="4.45" fill="none" stroke="#b5343e" stroke-width="1.5"/>
<ellipse cx="510.44" cy="372.5" rx="3.85" ry="4.45" fill="none" stroke="#b5343e" stroke-width="1.5"/>
</g>
<text x="303.4" y="399.2" font-size="11.6" fill="#b5343e" text-anchor="start" font-weight="normal" xml:space="preserve">Current density @259 mA cm<tspan dy="-4.3" font-size="8">-2</tspan><tspan dy="4.3">,   ~2.1V</tspan></text>
<text x="4.2" y="478.6" font-size="15.5" fill="#222" text-anchor="start" font-weight="normal" >e</text>
<line x1="86.4" y1="487.2" x2="86.4" y2="675.7" stroke="#111" stroke-width="1.8" />
<line x1="85.5" y1="674.8" x2="642.6" y2="674.8" stroke="#111" stroke-width="1.8" />
<line x1="82.4" y1="486.9" x2="86.4" y2="486.9" stroke="#111" stroke-width="1.4" />
<line x1="78.4" y1="507.76" x2="86.4" y2="507.76" stroke="#111" stroke-width="1.4" />
<text x="72" y="512.36" font-size="13" fill="#222" text-anchor="end" font-weight="normal" >20000</text>
<line x1="82.4" y1="528.62" x2="86.4" y2="528.62" stroke="#111" stroke-width="1.4" />
<line x1="78.4" y1="549.47" x2="86.4" y2="549.47" stroke="#111" stroke-width="1.4" />
<text x="72" y="554.07" font-size="13" fill="#222" text-anchor="end" font-weight="normal" >15000</text>
<line x1="82.4" y1="570.33" x2="86.4" y2="570.33" stroke="#111" stroke-width="1.4" />
<line x1="78.4" y1="591.18" x2="86.4" y2="591.18" stroke="#111" stroke-width="1.4" />
<text x="72" y="595.78" font-size="13" fill="#222" text-anchor="end" font-weight="normal" >10000</text>
<line x1="82.4" y1="612.03" x2="86.4" y2="612.03" stroke="#111" stroke-width="1.4" />
<line x1="78.4" y1="632.89" x2="86.4" y2="632.89" stroke="#111" stroke-width="1.4" />
<text x="72" y="637.49" font-size="13" fill="#222" text-anchor="end" font-weight="normal" >5000</text>
<line x1="82.4" y1="653.75" x2="86.4" y2="653.75" stroke="#111" stroke-width="1.4" />
<line x1="78.4" y1="674.6" x2="86.4" y2="674.6" stroke="#111" stroke-width="1.4" />
<text x="72" y="679.2" font-size="13" fill="#222" text-anchor="end" font-weight="normal" >0</text>
<rect x="93.6" y="505.2" width="11.8" height="169.6" fill="#f47f82"/>
<rect x="105.4" y="650.9" width="11.9" height="23.9" fill="#8aaedb"/>
<rect x="117.3" y="664.5" width="11.5" height="10.3" fill="#97dcb0"/>
<line x1="94.2" y1="505.4" x2="105" y2="505.4" stroke="#111" stroke-width="1.5" />
<line x1="106" y1="651" x2="116.8" y2="651" stroke="#111" stroke-width="1.5" />
<line x1="118" y1="664.6" x2="128.2" y2="664.6" stroke="#111" stroke-width="1.5" />
<text x="83.8" y="693.8" font-size="12.9" fill="#222" text-anchor="start" font-weight="normal" >Seawater</text>
<text x="29.1" y="581.2" font-size="13.2" fill="#222" text-anchor="middle" font-weight="normal" transform="rotate(-90 29.1 581.2)" >Ion concentration (mg L<tspan dy="-4.8" font-size="9.5">-1</tspan><tspan dy="4.8">)</tspan></text>
<line x1="174.1" y1="575.6" x2="174.1" y2="634" stroke="#222" stroke-width="1.3" />
<line x1="173.5" y1="633.4" x2="635.3" y2="633.4" stroke="#222" stroke-width="1.4" />
<line x1="169.6" y1="575.6" x2="174.1" y2="575.6" stroke="#222" stroke-width="1.1" />
<text x="165" y="579" font-size="9.8" fill="#222" text-anchor="end" font-weight="normal" >0.50</text>
<line x1="171.6" y1="590.05" x2="174.1" y2="590.05" stroke="#222" stroke-width="1.1" />
<line x1="169.6" y1="604.5" x2="174.1" y2="604.5" stroke="#222" stroke-width="1.1" />
<text x="165" y="607.9" font-size="9.8" fill="#222" text-anchor="end" font-weight="normal" >0.25</text>
<line x1="171.6" y1="618.95" x2="174.1" y2="618.95" stroke="#222" stroke-width="1.1" />
<line x1="169.6" y1="633.4" x2="174.1" y2="633.4" stroke="#222" stroke-width="1.1" />
<text x="165" y="636.8" font-size="9.8" fill="#222" text-anchor="end" font-weight="normal" >0.00</text>
<text x="127.4" y="605.2" font-size="10" fill="#222" text-anchor="middle" font-weight="normal" transform="rotate(-90 127.4 605.2)" >Ion concentration</text>
<text x="140.3" y="603.2" font-size="10" fill="#222" text-anchor="middle" font-weight="normal" transform="rotate(-90 140.3 603.2)" >(mg L<tspan dy="-3.5" font-size="6.5">-1</tspan><tspan dy="3.5">)</tspan></text>
<rect x="181.1" y="608.4" width="10.95" height="25" fill="#f47f82"/>
<line x1="186.57" y1="607.2" x2="186.57" y2="609.6" stroke="#333" stroke-width="0.9" />
<line x1="183.77" y1="607.2" x2="189.38" y2="607.2" stroke="#333" stroke-width="1.0" />
<line x1="183.77" y1="609.6" x2="189.38" y2="609.6" stroke="#333" stroke-width="1.0" />
<rect x="192.05" y="614.7" width="10.95" height="18.7" fill="#8aaedb"/>
<line x1="197.52" y1="612.2" x2="197.52" y2="617.2" stroke="#333" stroke-width="0.9" />
<line x1="194.72" y1="612.2" x2="200.32" y2="612.2" stroke="#333" stroke-width="1.0" />
<line x1="194.72" y1="617.2" x2="200.32" y2="617.2" stroke="#333" stroke-width="1.0" />
<rect x="203" y="626.4" width="10.95" height="7" fill="#97dcb0"/>
<line x1="208.47" y1="623.6" x2="208.47" y2="629.2" stroke="#333" stroke-width="0.9" />
<line x1="205.67" y1="623.6" x2="211.28" y2="623.6" stroke="#333" stroke-width="1.0" />
<line x1="205.67" y1="629.2" x2="211.28" y2="629.2" stroke="#333" stroke-width="1.0" />
<text x="197.52" y="648.4" font-size="10" fill="#222" text-anchor="middle" font-weight="normal" letter-spacing="0.4">1 d</text>
<rect x="227.13" y="608.1" width="10.95" height="25.3" fill="#f47f82"/>
<line x1="232.6" y1="606.9" x2="232.6" y2="609.3" stroke="#333" stroke-width="0.9" />
<line x1="229.8" y1="606.9" x2="235.41" y2="606.9" stroke="#333" stroke-width="1.0" />
<line x1="229.8" y1="609.3" x2="235.41" y2="609.3" stroke="#333" stroke-width="1.0" />
<rect x="238.08" y="610.3" width="10.95" height="23.1" fill="#8aaedb"/>
<line x1="243.55" y1="607.8" x2="243.55" y2="612.8" stroke="#333" stroke-width="0.9" />
<line x1="240.75" y1="607.8" x2="246.35" y2="607.8" stroke="#333" stroke-width="1.0" />
<line x1="240.75" y1="612.8" x2="246.35" y2="612.8" stroke="#333" stroke-width="1.0" />
<rect x="249.03" y="625.6" width="10.95" height="7.8" fill="#97dcb0"/>
<line x1="254.5" y1="624.4" x2="254.5" y2="626.8" stroke="#333" stroke-width="0.9" />
<line x1="251.7" y1="624.4" x2="257.31" y2="624.4" stroke="#333" stroke-width="1.0" />
<line x1="251.7" y1="626.8" x2="257.31" y2="626.8" stroke="#333" stroke-width="1.0" />
<text x="243.56" y="648.4" font-size="10" fill="#222" text-anchor="middle" font-weight="normal" letter-spacing="0.4">2 d</text>
<rect x="273.16" y="608" width="10.95" height="25.4" fill="#f47f82"/>
<line x1="278.63" y1="607.4" x2="278.63" y2="608.6" stroke="#333" stroke-width="0.9" />
<line x1="275.83" y1="607.4" x2="281.44" y2="607.4" stroke="#333" stroke-width="1.0" />
<line x1="275.83" y1="608.6" x2="281.44" y2="608.6" stroke="#333" stroke-width="1.0" />
<rect x="284.11" y="612.9" width="10.95" height="20.5" fill="#8aaedb"/>
<line x1="289.58" y1="612.1" x2="289.58" y2="613.7" stroke="#333" stroke-width="0.9" />
<line x1="286.78" y1="612.1" x2="292.38" y2="612.1" stroke="#333" stroke-width="1.0" />
<line x1="286.78" y1="613.7" x2="292.38" y2="613.7" stroke="#333" stroke-width="1.0" />
<rect x="295.06" y="627.5" width="10.95" height="5.9" fill="#97dcb0"/>
<line x1="300.53" y1="623.5" x2="300.53" y2="631.5" stroke="#333" stroke-width="0.9" />
<line x1="297.73" y1="623.5" x2="303.33" y2="623.5" stroke="#333" stroke-width="1.0" />
<line x1="297.73" y1="631.5" x2="303.33" y2="631.5" stroke="#333" stroke-width="1.0" />
<text x="289.58" y="648.4" font-size="10" fill="#222" text-anchor="middle" font-weight="normal" letter-spacing="0.4">3 d</text>
<rect x="319.19" y="609.5" width="10.95" height="23.9" fill="#f47f82"/>
<line x1="324.67" y1="608.3" x2="324.67" y2="610.7" stroke="#333" stroke-width="0.9" />
<line x1="321.87" y1="608.3" x2="327.47" y2="608.3" stroke="#333" stroke-width="1.0" />
<line x1="321.87" y1="610.7" x2="327.47" y2="610.7" stroke="#333" stroke-width="1.0" />
<rect x="330.14" y="610" width="10.95" height="23.4" fill="#8aaedb"/>
<line x1="335.62" y1="607.8" x2="335.62" y2="612.2" stroke="#333" stroke-width="0.9" />
<line x1="332.81" y1="607.8" x2="338.42" y2="607.8" stroke="#333" stroke-width="1.0" />
<line x1="332.81" y1="612.2" x2="338.42" y2="612.2" stroke="#333" stroke-width="1.0" />
<rect x="341.09" y="627.1" width="10.95" height="6.3" fill="#97dcb0"/>
<line x1="346.56" y1="623.6" x2="346.56" y2="630.6" stroke="#333" stroke-width="0.9" />
<line x1="343.76" y1="623.6" x2="349.37" y2="623.6" stroke="#333" stroke-width="1.0" />
<line x1="343.76" y1="630.6" x2="349.37" y2="630.6" stroke="#333" stroke-width="1.0" />
<text x="335.62" y="648.4" font-size="10" fill="#222" text-anchor="middle" font-weight="normal" letter-spacing="0.4">4 d</text>
<rect x="365.22" y="607" width="10.95" height="26.4" fill="#f47f82"/>
<line x1="370.7" y1="606.4" x2="370.7" y2="607.6" stroke="#333" stroke-width="0.9" />
<line x1="367.9" y1="606.4" x2="373.5" y2="606.4" stroke="#333" stroke-width="1.0" />
<line x1="367.9" y1="607.6" x2="373.5" y2="607.6" stroke="#333" stroke-width="1.0" />
<rect x="376.17" y="611.9" width="10.95" height="21.5" fill="#8aaedb"/>
<line x1="381.65" y1="610.9" x2="381.65" y2="612.9" stroke="#333" stroke-width="0.9" />
<line x1="378.85" y1="610.9" x2="384.45" y2="610.9" stroke="#333" stroke-width="1.0" />
<line x1="378.85" y1="612.9" x2="384.45" y2="612.9" stroke="#333" stroke-width="1.0" />
<rect x="387.12" y="627.5" width="10.95" height="5.9" fill="#97dcb0"/>
<line x1="392.6" y1="626.5" x2="392.6" y2="628.5" stroke="#333" stroke-width="0.9" />
<line x1="389.8" y1="626.5" x2="395.4" y2="626.5" stroke="#333" stroke-width="1.0" />
<line x1="389.8" y1="628.5" x2="395.4" y2="628.5" stroke="#333" stroke-width="1.0" />
<text x="381.65" y="648.4" font-size="10" fill="#222" text-anchor="middle" font-weight="normal" letter-spacing="0.4">5 d</text>
<rect x="411.25" y="607.2" width="10.95" height="26.2" fill="#f47f82"/>
<line x1="416.73" y1="605.9" x2="416.73" y2="608.5" stroke="#333" stroke-width="0.9" />
<line x1="413.93" y1="605.9" x2="419.53" y2="605.9" stroke="#333" stroke-width="1.0" />
<line x1="413.93" y1="608.5" x2="419.53" y2="608.5" stroke="#333" stroke-width="1.0" />
<rect x="422.2" y="611.1" width="10.95" height="22.3" fill="#8aaedb"/>
<line x1="427.68" y1="609.6" x2="427.68" y2="612.6" stroke="#333" stroke-width="0.9" />
<line x1="424.88" y1="609.6" x2="430.48" y2="609.6" stroke="#333" stroke-width="1.0" />
<line x1="424.88" y1="612.6" x2="430.48" y2="612.6" stroke="#333" stroke-width="1.0" />
<rect x="433.15" y="629" width="10.95" height="4.4" fill="#97dcb0"/>
<line x1="438.62" y1="627" x2="438.62" y2="631" stroke="#333" stroke-width="0.9" />
<line x1="435.82" y1="627" x2="441.43" y2="627" stroke="#333" stroke-width="1.0" />
<line x1="435.82" y1="631" x2="441.43" y2="631" stroke="#333" stroke-width="1.0" />
<text x="427.68" y="648.4" font-size="10" fill="#222" text-anchor="middle" font-weight="normal" letter-spacing="0.4">6 d</text>
<rect x="457.28" y="607.2" width="10.95" height="26.2" fill="#f47f82"/>
<line x1="462.75" y1="606.4" x2="462.75" y2="608" stroke="#333" stroke-width="0.9" />
<line x1="459.95" y1="606.4" x2="465.56" y2="606.4" stroke="#333" stroke-width="1.0" />
<line x1="459.95" y1="608" x2="465.56" y2="608" stroke="#333" stroke-width="1.0" />
<rect x="468.23" y="613" width="10.95" height="20.4" fill="#8aaedb"/>
<line x1="473.7" y1="611" x2="473.7" y2="615" stroke="#333" stroke-width="0.9" />
<line x1="470.9" y1="611" x2="476.5" y2="611" stroke="#333" stroke-width="1.0" />
<line x1="470.9" y1="615" x2="476.5" y2="615" stroke="#333" stroke-width="1.0" />
<rect x="479.18" y="631" width="10.95" height="2.4" fill="#97dcb0"/>
<line x1="484.65" y1="629.2" x2="484.65" y2="632.8" stroke="#333" stroke-width="0.9" />
<line x1="481.85" y1="629.2" x2="487.45" y2="629.2" stroke="#333" stroke-width="1.0" />
<line x1="481.85" y1="632.8" x2="487.45" y2="632.8" stroke="#333" stroke-width="1.0" />
<text x="473.7" y="648.4" font-size="10" fill="#222" text-anchor="middle" font-weight="normal" letter-spacing="0.4">7 d</text>
<rect x="503.31" y="609.1" width="10.95" height="24.3" fill="#f47f82"/>
<line x1="508.79" y1="608.3" x2="508.79" y2="609.9" stroke="#333" stroke-width="0.9" />
<line x1="505.99" y1="608.3" x2="511.59" y2="608.3" stroke="#333" stroke-width="1.0" />
<line x1="505.99" y1="609.9" x2="511.59" y2="609.9" stroke="#333" stroke-width="1.0" />
<rect x="514.26" y="612.5" width="10.95" height="20.9" fill="#8aaedb"/>
<line x1="519.74" y1="611.7" x2="519.74" y2="613.3" stroke="#333" stroke-width="0.9" />
<line x1="516.94" y1="611.7" x2="522.54" y2="611.7" stroke="#333" stroke-width="1.0" />
<line x1="516.94" y1="613.3" x2="522.54" y2="613.3" stroke="#333" stroke-width="1.0" />
<rect x="525.21" y="630" width="10.95" height="3.4" fill="#97dcb0"/>
<line x1="530.69" y1="629.2" x2="530.69" y2="630.8" stroke="#333" stroke-width="0.9" />
<line x1="527.89" y1="629.2" x2="533.49" y2="629.2" stroke="#333" stroke-width="1.0" />
<line x1="527.89" y1="630.8" x2="533.49" y2="630.8" stroke="#333" stroke-width="1.0" />
<text x="519.74" y="648.4" font-size="10" fill="#222" text-anchor="middle" font-weight="normal" letter-spacing="0.4">8 d</text>
<rect x="549.34" y="606.2" width="10.95" height="27.2" fill="#f47f82"/>
<line x1="554.82" y1="605" x2="554.82" y2="607.4" stroke="#333" stroke-width="0.9" />
<line x1="552.02" y1="605" x2="557.62" y2="605" stroke="#333" stroke-width="1.0" />
<line x1="552.02" y1="607.4" x2="557.62" y2="607.4" stroke="#333" stroke-width="1.0" />
<rect x="560.29" y="613.4" width="10.95" height="20" fill="#8aaedb"/>
<line x1="565.77" y1="612.4" x2="565.77" y2="614.4" stroke="#333" stroke-width="0.9" />
<line x1="562.97" y1="612.4" x2="568.57" y2="612.4" stroke="#333" stroke-width="1.0" />
<line x1="562.97" y1="614.4" x2="568.57" y2="614.4" stroke="#333" stroke-width="1.0" />
<rect x="571.24" y="631.6" width="10.95" height="1.8" fill="#97dcb0"/>
<line x1="576.72" y1="630.8" x2="576.72" y2="632.4" stroke="#333" stroke-width="0.9" />
<line x1="573.92" y1="630.8" x2="579.51" y2="630.8" stroke="#333" stroke-width="1.0" />
<line x1="573.92" y1="632.4" x2="579.51" y2="632.4" stroke="#333" stroke-width="1.0" />
<text x="565.76" y="648.4" font-size="10" fill="#222" text-anchor="middle" font-weight="normal" letter-spacing="0.4">9 d</text>
<rect x="595.37" y="610.1" width="10.95" height="23.3" fill="#f47f82"/>
<line x1="600.85" y1="609.6" x2="600.85" y2="610.6" stroke="#333" stroke-width="0.9" />
<line x1="598.05" y1="609.6" x2="603.64" y2="609.6" stroke="#333" stroke-width="1.0" />
<line x1="598.05" y1="610.6" x2="603.64" y2="610.6" stroke="#333" stroke-width="1.0" />
<rect x="606.32" y="613" width="10.95" height="20.4" fill="#8aaedb"/>
<line x1="611.8" y1="610" x2="611.8" y2="616" stroke="#333" stroke-width="0.9" />
<line x1="609" y1="610" x2="614.6" y2="610" stroke="#333" stroke-width="1.0" />
<line x1="609" y1="616" x2="614.6" y2="616" stroke="#333" stroke-width="1.0" />
<rect x="617.27" y="631.4" width="10.95" height="2" fill="#97dcb0"/>
<line x1="622.75" y1="629.4" x2="622.75" y2="633.4" stroke="#333" stroke-width="0.9" />
<line x1="619.95" y1="629.4" x2="625.54" y2="629.4" stroke="#333" stroke-width="1.0" />
<line x1="619.95" y1="633.4" x2="625.54" y2="633.4" stroke="#333" stroke-width="1.0" />
<text x="611.79" y="648.4" font-size="10" fill="#222" text-anchor="middle" font-weight="normal" letter-spacing="0.4">10 d</text>
<line x1="358.9" y1="660.5" x2="358.9" y2="652" stroke="#111" stroke-width="1.3" />
<path d="M358.9,648.6 L356.4,653.8 L361.4,653.8 Z" fill="#111"/>
<rect x="555.2" y="493.2" width="18.7" height="11.3" fill="#f47f82"/>
<rect x="555.2" y="511" width="18.7" height="11.1" fill="#8aaedb"/>
<rect x="555.2" y="532.1" width="18.7" height="11" fill="#97dcb0"/>
<text x="580.4" y="503.3" font-size="12.5" fill="#222" text-anchor="start" font-weight="normal" >Cl<tspan dy="-5" font-size="8">-</tspan><tspan dy="5">/ClO</tspan><tspan dy="-5" font-size="8">-</tspan></text>
<text x="580.4" y="521.1" font-size="12.5" fill="#222" text-anchor="start" font-weight="normal" >SO<tspan dy="3" font-size="8.5">4</tspan><tspan dy="-8.5" font-size="8.5">2-</tspan></text>
<text x="580.4" y="541.9" font-size="12.5" fill="#222" text-anchor="start" font-weight="normal" >Mg<tspan dy="-5" font-size="8.5">2+</tspan></text>
<line x1="161.3" y1="667" x2="606" y2="667" stroke="#111" stroke-width="2" stroke-dasharray="9.6 10.16"/>
<line x1="618.75" y1="666" x2="618.75" y2="672.4" stroke="#111" stroke-width="1.8" />
<line x1="615.2" y1="667" x2="619.6" y2="667" stroke="#111" stroke-width="2" />
<line x1="173.8" y1="680.7" x2="618.3" y2="680.7" stroke="#111" stroke-width="2" stroke-dasharray="9.6 10.16"/>
<line x1="161.1" y1="674" x2="161.1" y2="681.4" stroke="#111" stroke-width="1.6" />
<line x1="160.3" y1="680.7" x2="163.8" y2="680.7" stroke="#111" stroke-width="1.6" />
<text x="162.5" y="693.8" font-size="12.5" fill="#222" text-anchor="middle" font-weight="normal" >1 d</text>
<text x="213.13" y="693.8" font-size="12.5" fill="#222" text-anchor="middle" font-weight="normal" >2 d</text>
<text x="263.76" y="693.8" font-size="12.5" fill="#222" text-anchor="middle" font-weight="normal" >3 d</text>
<text x="314.39" y="693.8" font-size="12.5" fill="#222" text-anchor="middle" font-weight="normal" >4 d</text>
<text x="365.02" y="693.8" font-size="12.5" fill="#222" text-anchor="middle" font-weight="normal" >5 d</text>
<text x="415.65" y="693.8" font-size="12.5" fill="#222" text-anchor="middle" font-weight="normal" >6 d</text>
<text x="466.28" y="693.8" font-size="12.5" fill="#222" text-anchor="middle" font-weight="normal" >7 d</text>
<text x="516.91" y="693.8" font-size="12.5" fill="#222" text-anchor="middle" font-weight="normal" >8 d</text>
<text x="567.54" y="693.8" font-size="12.5" fill="#222" text-anchor="middle" font-weight="normal" >9 d</text>
<text x="618.17" y="693.8" font-size="12.5" fill="#222" text-anchor="middle" font-weight="normal" >10 d</text>
<line x1="162.5" y1="699.6" x2="162.5" y2="722.4" stroke="#111" stroke-width="1.6" />
<line x1="618.2" y1="699.6" x2="618.2" y2="722.4" stroke="#111" stroke-width="1.6" />
<line x1="161.7" y1="721.6" x2="350.5" y2="721.6" stroke="#111" stroke-width="1.6" />
<line x1="385.7" y1="721.6" x2="619" y2="721.6" stroke="#111" stroke-width="1.6" />
<text x="353.4" y="729.2" font-size="14.8" fill="#222" text-anchor="start" font-weight="normal" >SDE</text>
<text x="646.2" y="484.4" font-size="15" fill="#222" text-anchor="start" font-weight="normal" >i</text>
<rect x="727.8" y="480.3" width="294.7" height="237.8" fill="none" stroke="#111" stroke-width="2"/>
<line x1="722.8" y1="480.45" x2="727.8" y2="480.45" stroke="#111" stroke-width="1.4" />
<text x="719.4" y="485.15" font-size="13.5" fill="#222" text-anchor="end" font-weight="normal" >3.5</text>
<line x1="724.8" y1="496.27" x2="727.8" y2="496.27" stroke="#111" stroke-width="1.4" />
<line x1="722.8" y1="512.1" x2="727.8" y2="512.1" stroke="#111" stroke-width="1.4" />
<text x="719.4" y="516.8" font-size="13.5" fill="#222" text-anchor="end" font-weight="normal" >3.0</text>
<line x1="724.8" y1="527.92" x2="727.8" y2="527.92" stroke="#111" stroke-width="1.4" />
<line x1="722.8" y1="543.75" x2="727.8" y2="543.75" stroke="#111" stroke-width="1.4" />
<text x="719.4" y="548.45" font-size="13.5" fill="#222" text-anchor="end" font-weight="normal" >2.5</text>
<line x1="724.8" y1="559.58" x2="727.8" y2="559.58" stroke="#111" stroke-width="1.4" />
<line x1="722.8" y1="575.4" x2="727.8" y2="575.4" stroke="#111" stroke-width="1.4" />
<text x="719.4" y="580.1" font-size="13.5" fill="#222" text-anchor="end" font-weight="normal" >2.0</text>
<line x1="724.8" y1="591.23" x2="727.8" y2="591.23" stroke="#111" stroke-width="1.4" />
<line x1="722.8" y1="607.05" x2="727.8" y2="607.05" stroke="#111" stroke-width="1.4" />
<text x="719.4" y="611.75" font-size="13.5" fill="#222" text-anchor="end" font-weight="normal" >1.5</text>
<line x1="724.8" y1="622.88" x2="727.8" y2="622.88" stroke="#111" stroke-width="1.4" />
<line x1="722.8" y1="638.7" x2="727.8" y2="638.7" stroke="#111" stroke-width="1.4" />
<text x="719.4" y="643.4" font-size="13.5" fill="#222" text-anchor="end" font-weight="normal" >1.0</text>
<line x1="724.8" y1="654.52" x2="727.8" y2="654.52" stroke="#111" stroke-width="1.4" />
<line x1="722.8" y1="670.35" x2="727.8" y2="670.35" stroke="#111" stroke-width="1.4" />
<text x="719.4" y="675.05" font-size="13.5" fill="#222" text-anchor="end" font-weight="normal" >0.5</text>
<line x1="724.8" y1="686.17" x2="727.8" y2="686.17" stroke="#111" stroke-width="1.4" />
<line x1="722.8" y1="702" x2="727.8" y2="702" stroke="#111" stroke-width="1.4" />
<text x="719.4" y="706.7" font-size="13.5" fill="#222" text-anchor="end" font-weight="normal" >0.0</text>
<line x1="727.83" y1="718.1" x2="727.83" y2="721.1" stroke="#111" stroke-width="1.4" />
<line x1="748.9" y1="718.1" x2="748.9" y2="722.6" stroke="#111" stroke-width="1.4" />
<text x="748.9" y="736.6" font-size="13.5" fill="#222" text-anchor="middle" font-weight="normal" >0</text>
<line x1="769.97" y1="718.1" x2="769.97" y2="721.1" stroke="#111" stroke-width="1.4" />
<line x1="791.03" y1="718.1" x2="791.03" y2="722.6" stroke="#111" stroke-width="1.4" />
<text x="791.03" y="736.6" font-size="13.5" fill="#222" text-anchor="middle" font-weight="normal" >5</text>
<line x1="812.1" y1="718.1" x2="812.1" y2="721.1" stroke="#111" stroke-width="1.4" />
<line x1="833.17" y1="718.1" x2="833.17" y2="722.6" stroke="#111" stroke-width="1.4" />
<text x="833.17" y="736.6" font-size="13.5" fill="#222" text-anchor="middle" font-weight="normal" >10</text>
<line x1="854.24" y1="718.1" x2="854.24" y2="721.1" stroke="#111" stroke-width="1.4" />
<line x1="875.3" y1="718.1" x2="875.3" y2="722.6" stroke="#111" stroke-width="1.4" />
<text x="875.3" y="736.6" font-size="13.5" fill="#222" text-anchor="middle" font-weight="normal" >15</text>
<line x1="896.37" y1="718.1" x2="896.37" y2="721.1" stroke="#111" stroke-width="1.4" />
<line x1="917.44" y1="718.1" x2="917.44" y2="722.6" stroke="#111" stroke-width="1.4" />
<text x="917.44" y="736.6" font-size="13.5" fill="#222" text-anchor="middle" font-weight="normal" >20</text>
<line x1="938.51" y1="718.1" x2="938.51" y2="721.1" stroke="#111" stroke-width="1.4" />
<line x1="959.57" y1="718.1" x2="959.57" y2="722.6" stroke="#111" stroke-width="1.4" />
<text x="959.57" y="736.6" font-size="13.5" fill="#222" text-anchor="middle" font-weight="normal" >25</text>
<line x1="980.64" y1="718.1" x2="980.64" y2="721.1" stroke="#111" stroke-width="1.4" />
<line x1="1001.71" y1="718.1" x2="1001.71" y2="722.6" stroke="#111" stroke-width="1.4" />
<text x="1001.71" y="736.6" font-size="13.5" fill="#222" text-anchor="middle" font-weight="normal" >30</text>
<text x="842" y="752.8" font-size="14" fill="#222" text-anchor="start" font-weight="normal" >Time (min)</text>
<text x="688" y="597" font-size="13.5" fill="#222" text-anchor="middle" font-weight="normal" transform="rotate(-90 688 597)" xml:space="preserve">Water migration mass (g<tspan dy="3.4" font-size="9.5">H</tspan><tspan dy="2" font-size="6.5">2</tspan><tspan dy="-2" font-size="9.5">O</tspan><tspan dy="-3.4">  g</tspan><tspan dy="-6.2" font-size="9">-1</tspan><tspan dy="9.6" dx="-8" font-size="9.5">SDE</tspan><tspan dy="-3.4">)</tspan></text>
<path d="M748.9,702.17 C755.92,693.87 776.99,666.78 791.03,652.41 C805.08,638.04 819.12,627.07 833.17,615.95 C847.21,604.83 861.26,594.93 875.3,585.69 C889.35,576.46 903.39,568.58 917.44,560.56 C931.48,552.55 945.53,544.61 959.57,537.59 C973.62,530.56 994.69,521.6 1001.71,518.41" fill="none" stroke="#8a8a8a" stroke-width="3" />
<path d="M749.4,701.37 C756.42,693.07 777.49,665.98 791.53,651.61 C805.58,637.24 819.62,626.27 833.67,615.15 C847.71,604.03 861.76,594.13 875.8,584.89 C889.85,575.66 903.89,567.78 917.94,559.76 C931.98,551.75 946.03,543.81 960.07,536.79 C974.12,529.76 995.19,520.8 1002.21,517.61" fill="none" stroke="#9bb6e2" stroke-width="2" />
<line x1="748.9" y1="700.27" x2="748.9" y2="704.07" stroke="#8a8a8a" stroke-width="1.1" />
<line x1="745.9" y1="700.27" x2="751.9" y2="700.27" stroke="#8a8a8a" stroke-width="1.1" />
<line x1="745.9" y1="704.07" x2="751.9" y2="704.07" stroke="#8a8a8a" stroke-width="1.1" />
<circle cx="748.9" cy="702.17" r="4.9" fill="#a9c0e6" stroke="#8a8a8a" stroke-width="1"/>
<path d="M743.1,698.17 L754.7,698.17 L748.9,707.97 Z" fill="#8fb1e3" opacity="0.85"/>
<line x1="791.03" y1="649.25" x2="791.03" y2="655.58" stroke="#8a8a8a" stroke-width="1.1" />
<line x1="788.03" y1="649.25" x2="794.03" y2="649.25" stroke="#8a8a8a" stroke-width="1.1" />
<line x1="788.03" y1="655.58" x2="794.03" y2="655.58" stroke="#8a8a8a" stroke-width="1.1" />
<circle cx="791.03" cy="652.41" r="4.9" fill="#a9c0e6" stroke="#8a8a8a" stroke-width="1"/>
<path d="M785.24,648.41 L796.83,648.41 L791.03,658.21 Z" fill="#8fb1e3" opacity="0.85"/>
<line x1="833.17" y1="612.15" x2="833.17" y2="619.75" stroke="#8a8a8a" stroke-width="1.1" />
<line x1="830.17" y1="612.15" x2="836.17" y2="612.15" stroke="#8a8a8a" stroke-width="1.1" />
<line x1="830.17" y1="619.75" x2="836.17" y2="619.75" stroke="#8a8a8a" stroke-width="1.1" />
<circle cx="833.17" cy="615.95" r="4.9" fill="#a9c0e6" stroke="#8a8a8a" stroke-width="1"/>
<path d="M827.37,611.95 L838.97,611.95 L833.17,621.75 Z" fill="#8fb1e3" opacity="0.85"/>
<line x1="875.3" y1="581.26" x2="875.3" y2="590.13" stroke="#8a8a8a" stroke-width="1.1" />
<line x1="872.3" y1="581.26" x2="878.3" y2="581.26" stroke="#8a8a8a" stroke-width="1.1" />
<line x1="872.3" y1="590.13" x2="878.3" y2="590.13" stroke="#8a8a8a" stroke-width="1.1" />
<circle cx="875.3" cy="585.69" r="4.9" fill="#a9c0e6" stroke="#8a8a8a" stroke-width="1"/>
<path d="M869.5,581.69 L881.1,581.69 L875.3,591.49 Z" fill="#8fb1e3" opacity="0.85"/>
<line x1="917.44" y1="553.6" x2="917.44" y2="567.53" stroke="#8a8a8a" stroke-width="1.1" />
<line x1="914.44" y1="553.6" x2="920.44" y2="553.6" stroke="#8a8a8a" stroke-width="1.1" />
<line x1="914.44" y1="567.53" x2="920.44" y2="567.53" stroke="#8a8a8a" stroke-width="1.1" />
<circle cx="917.44" cy="560.56" r="4.9" fill="#a9c0e6" stroke="#8a8a8a" stroke-width="1"/>
<path d="M911.64,556.56 L923.24,556.56 L917.44,566.36 Z" fill="#8fb1e3" opacity="0.85"/>
<line x1="959.57" y1="530.31" x2="959.57" y2="544.87" stroke="#8a8a8a" stroke-width="1.1" />
<line x1="956.57" y1="530.31" x2="962.57" y2="530.31" stroke="#8a8a8a" stroke-width="1.1" />
<line x1="956.57" y1="544.87" x2="962.57" y2="544.87" stroke="#8a8a8a" stroke-width="1.1" />
<circle cx="959.57" cy="537.59" r="4.9" fill="#a9c0e6" stroke="#8a8a8a" stroke-width="1"/>
<path d="M953.77,533.59 L965.37,533.59 L959.57,543.39 Z" fill="#8fb1e3" opacity="0.85"/>
<line x1="1001.71" y1="510.68" x2="1001.71" y2="526.13" stroke="#8a8a8a" stroke-width="1.1" />
<line x1="998.71" y1="510.68" x2="1004.71" y2="510.68" stroke="#8a8a8a" stroke-width="1.1" />
<line x1="998.71" y1="526.13" x2="1004.71" y2="526.13" stroke="#8a8a8a" stroke-width="1.1" />
<circle cx="1001.71" cy="518.41" r="4.9" fill="#a9c0e6" stroke="#8a8a8a" stroke-width="1"/>
<path d="M995.91,514.41 L1007.51,514.41 L1001.71,524.21 Z" fill="#8fb1e3" opacity="0.85"/>
<line x1="753.2" y1="529.8" x2="782" y2="529.8" stroke="#8a8a8a" stroke-width="2.2" />
<circle cx="767.8" cy="529.8" r="4.3" fill="#fff" stroke="#8a8a8a" stroke-width="1.3"/>
<line x1="753.2" y1="544.3" x2="782" y2="544.3" stroke="#9bb6e2" stroke-width="2.2" />
<path d="M762,540.9 L773.7,540.9 L767.85,551.6 Z" fill="#8fb1e3"/>
<text x="785.4" y="533.7" font-size="12" fill="#222" text-anchor="start" font-weight="normal" >Before</text>
<text x="785" y="548.8" font-size="12" fill="#222" text-anchor="start" font-weight="normal" >After</text>
<defs><radialGradient id="sph" cx="0.45" cy="0.42" r="0.58"><stop offset="0" stop-color="#a2a2a2"/><stop offset="0.72" stop-color="#8e8e8e"/><stop offset="0.92" stop-color="#626262"/><stop offset="1" stop-color="#404040"/></radialGradient><radialGradient id="sph2" cx="0.45" cy="0.42" r="0.58"><stop offset="0" stop-color="#848484"/><stop offset="0.72" stop-color="#767676"/><stop offset="0.92" stop-color="#545454"/><stop offset="1" stop-color="#3c3c3c"/></radialGradient><radialGradient id="sph3" cx="0.45" cy="0.42" r="0.58"><stop offset="0" stop-color="#6e6e6e"/><stop offset="0.7" stop-color="#606060"/><stop offset="0.95" stop-color="#404040"/><stop offset="1" stop-color="#383838"/></radialGradient><clipPath id="cf"><rect x="571.9" y="13.7" width="207" height="174.5"/></clipPath><clipPath id="cg"><rect x="801.9" y="13.7" width="217.9" height="174.3"/></clipPath><filter id="bl1" x="-5%" y="-5%" width="110%" height="110%"><feGaussianBlur stdDeviation="0.9"/></filter><filter id="bl2" x="-5%" y="-5%" width="110%" height="110%"><feGaussianBlur stdDeviation="0.6"/></filter><linearGradient id="sea" x1="0" x2="1" y1="0" y2="0"><stop offset="0" stop-color="#7089c2"/><stop offset="1" stop-color="#b7c8ec"/></linearGradient><linearGradient id="koh" x1="0" x2="1" y1="0" y2="0"><stop offset="0" stop-color="#10acf0"/><stop offset="0.55" stop-color="#5cc6f4"/><stop offset="1" stop-color="#c8ebf9"/></linearGradient><radialGradient id="ball" cx="0.4" cy="0.35" r="0.65"><stop offset="0" stop-color="#bfe0ff"/><stop offset="0.3" stop-color="#4b95dc"/><stop offset="1" stop-color="#2464ae"/></radialGradient><linearGradient id="hl" x1="0" x2="0" y1="0" y2="1"><stop offset="0" stop-color="#fff" stop-opacity="0.15"/><stop offset="0.4" stop-color="#fff"/><stop offset="1" stop-color="#fff"/></linearGradient></defs>
<g clip-path="url(#cf)">
<g filter="url(#bl1)">
<rect x="565" y="8" width="220" height="186" fill="#3e3e3e"/>
<circle cx="570.49" cy="10.91" r="9.63" fill="url(#sph3)"/>
<circle cx="582.98" cy="13.99" r="8.91" fill="url(#sph3)"/>
<circle cx="597.36" cy="13.76" r="8.09" fill="url(#sph3)"/>
<circle cx="614.87" cy="10.26" r="8.23" fill="url(#sph3)"/>
<circle cx="629.3" cy="16.31" r="8.31" fill="url(#sph3)"/>
<circle cx="642.19" cy="14.72" r="10.37" fill="url(#sph3)"/>
<circle cx="659.52" cy="12.87" r="10.44" fill="url(#sph3)"/>
<circle cx="669.77" cy="16.57" r="8.72" fill="url(#sph3)"/>
<circle cx="685.05" cy="10.64" r="8.77" fill="url(#sph3)"/>
<circle cx="704.93" cy="11.15" r="9.45" fill="url(#sph3)"/>
<circle cx="718.01" cy="12.68" r="9.37" fill="url(#sph3)"/>
<circle cx="727.9" cy="10.18" r="8.51" fill="url(#sph3)"/>
<circle cx="747.34" cy="13.12" r="8.79" fill="url(#sph3)"/>
<circle cx="761.08" cy="13.33" r="8.75" fill="url(#sph3)"/>
<circle cx="777.26" cy="15.29" r="8.61" fill="url(#sph3)"/>
<circle cx="579.5" cy="28.4" r="10.19" fill="url(#sph3)"/>
<circle cx="595.24" cy="26.5" r="10.45" fill="url(#sph3)"/>
<circle cx="604.84" cy="27.54" r="9.89" fill="url(#sph3)"/>
<circle cx="619.62" cy="28.11" r="8.1" fill="url(#sph3)"/>
<circle cx="638.25" cy="30.32" r="9.43" fill="url(#sph3)"/>
<circle cx="654.4" cy="26.71" r="9.74" fill="url(#sph3)"/>
<circle cx="666.65" cy="28.84" r="9.14" fill="url(#sph3)"/>
<circle cx="683.12" cy="31.76" r="9.19" fill="url(#sph3)"/>
<circle cx="696.21" cy="24.69" r="9.75" fill="url(#sph3)"/>
<circle cx="710.58" cy="32.14" r="10.05" fill="url(#sph3)"/>
<circle cx="722.18" cy="27.29" r="9.67" fill="url(#sph3)"/>
<circle cx="734.58" cy="27.89" r="8.42" fill="url(#sph3)"/>
<circle cx="749.84" cy="24.67" r="9.92" fill="url(#sph3)"/>
<circle cx="764.43" cy="26.18" r="8.98" fill="url(#sph3)"/>
<circle cx="784.87" cy="24.84" r="9.12" fill="url(#sph3)"/>
<circle cx="572.3" cy="45.77" r="10.05" fill="url(#sph3)"/>
<circle cx="589.31" cy="40.93" r="9.04" fill="url(#sph3)"/>
<circle cx="599.77" cy="45.77" r="10.39" fill="url(#sph3)"/>
<circle cx="612.61" cy="40.11" r="8.58" fill="url(#sph3)"/>
<circle cx="627.77" cy="42.58" r="9.47" fill="url(#sph3)"/>
<circle cx="642.5" cy="38.73" r="9.05" fill="url(#sph3)"/>
<circle cx="657.85" cy="43.23" r="10.38" fill="url(#sph3)"/>
<circle cx="674.92" cy="42.82" r="9.54" fill="url(#sph3)"/>
<circle cx="689.31" cy="39.13" r="10.25" fill="url(#sph3)"/>
<circle cx="704.64" cy="45.7" r="9.99" fill="url(#sph3)"/>
<circle cx="716.04" cy="41.89" r="8.26" fill="url(#sph3)"/>
<circle cx="732.47" cy="39.2" r="8.17" fill="url(#sph3)"/>
<circle cx="743.57" cy="40" r="8.85" fill="url(#sph3)"/>
<circle cx="756.82" cy="38.7" r="8.38" fill="url(#sph3)"/>
<circle cx="771.71" cy="41.61" r="8.06" fill="url(#sph3)"/>
<circle cx="581.89" cy="58.11" r="8.37" fill="url(#sph3)"/>
<circle cx="591.42" cy="55.98" r="8.91" fill="url(#sph3)"/>
<circle cx="604.88" cy="59.99" r="10.48" fill="url(#sph3)"/>
<circle cx="622.13" cy="57.07" r="8.21" fill="url(#sph3)"/>
<circle cx="633.72" cy="55.94" r="8.66" fill="url(#sph3)"/>
<circle cx="654.03" cy="54.49" r="8.06" fill="url(#sph3)"/>
<circle cx="669.51" cy="57.43" r="8.37" fill="url(#sph3)"/>
<circle cx="680.75" cy="53.42" r="9.32" fill="url(#sph3)"/>
<circle cx="698.73" cy="60.11" r="9.74" fill="url(#sph3)"/>
<circle cx="707.49" cy="56.13" r="8.42" fill="url(#sph3)"/>
<circle cx="726.08" cy="57.46" r="9.95" fill="url(#sph3)"/>
<circle cx="737.04" cy="54.98" r="10.03" fill="url(#sph3)"/>
<circle cx="756.78" cy="60.02" r="10.02" fill="url(#sph3)"/>
<circle cx="769.95" cy="59.12" r="8.57" fill="url(#sph3)"/>
<circle cx="782.04" cy="56.04" r="8.07" fill="url(#sph3)"/>
<circle cx="568.12" cy="69.94" r="8.65" fill="url(#sph3)"/>
<circle cx="587.94" cy="75.35" r="9.12" fill="url(#sph3)"/>
<circle cx="604.4" cy="75.6" r="10.39" fill="url(#sph3)"/>
<circle cx="614.32" cy="69.46" r="8.57" fill="url(#sph3)"/>
<circle cx="627.47" cy="69.33" r="9.56" fill="url(#sph3)"/>
<circle cx="647.6" cy="74.42" r="9.2" fill="url(#sph3)"/>
<circle cx="660.12" cy="74.1" r="8.21" fill="url(#sph3)"/>
<circle cx="674.68" cy="74.98" r="9.96" fill="url(#sph3)"/>
<circle cx="689.9" cy="71.52" r="8.45" fill="url(#sph3)"/>
<circle cx="704.71" cy="70.36" r="10" fill="url(#sph3)"/>
<circle cx="720.67" cy="70.87" r="9" fill="url(#sph3)"/>
<circle cx="734.97" cy="73.5" r="8.43" fill="url(#sph3)"/>
<circle cx="742.92" cy="68.91" r="10.26" fill="url(#sph3)"/>
<circle cx="762.85" cy="68.87" r="10.07" fill="url(#sph3)"/>
<circle cx="778.74" cy="72.96" r="8.88" fill="url(#sph3)"/>
<circle cx="579.29" cy="83.25" r="8.04" fill="url(#sph3)"/>
<circle cx="597.17" cy="87.4" r="9.32" fill="url(#sph3)"/>
<circle cx="611.37" cy="85.67" r="10.18" fill="url(#sph3)"/>
<circle cx="625.01" cy="83.89" r="8.63" fill="url(#sph3)"/>
<circle cx="635.24" cy="84.12" r="9.47" fill="url(#sph3)"/>
<circle cx="649.47" cy="85.55" r="8.33" fill="url(#sph3)"/>
<circle cx="669.18" cy="85.03" r="9.15" fill="url(#sph3)"/>
<circle cx="681.07" cy="89.43" r="9.05" fill="url(#sph3)"/>
<circle cx="698.24" cy="86.21" r="9.33" fill="url(#sph3)"/>
<circle cx="709.59" cy="82.35" r="9.1" fill="url(#sph3)"/>
<circle cx="721.36" cy="82.23" r="10" fill="url(#sph3)"/>
<circle cx="735.78" cy="85.99" r="9.81" fill="url(#sph3)"/>
<circle cx="753.35" cy="84.81" r="9.3" fill="url(#sph3)"/>
<circle cx="767.84" cy="88.47" r="8.27" fill="url(#sph3)"/>
<circle cx="782.38" cy="84.19" r="8.69" fill="url(#sph3)"/>
<circle cx="574.08" cy="100.76" r="9.4" fill="url(#sph3)"/>
<circle cx="588.48" cy="104" r="9.11" fill="url(#sph3)"/>
<circle cx="601.8" cy="100.74" r="9.28" fill="url(#sph3)"/>
<circle cx="616.94" cy="100.32" r="9.33" fill="url(#sph3)"/>
<circle cx="629.72" cy="104.23" r="9.75" fill="url(#sph3)"/>
<circle cx="647.41" cy="104.24" r="8.65" fill="url(#sph3)"/>
<circle cx="659.38" cy="104.25" r="10.1" fill="url(#sph3)"/>
<circle cx="670.5" cy="97.67" r="9.11" fill="url(#sph3)"/>
<circle cx="684.48" cy="98.63" r="8.18" fill="url(#sph3)"/>
<circle cx="703.76" cy="102.97" r="10.24" fill="url(#sph3)"/>
<circle cx="714.14" cy="102.43" r="9.65" fill="url(#sph3)"/>
<circle cx="728.54" cy="103.76" r="10.42" fill="url(#sph3)"/>
<circle cx="743.66" cy="104.32" r="9" fill="url(#sph3)"/>
<circle cx="760.3" cy="104.62" r="10.08" fill="url(#sph3)"/>
<circle cx="772.19" cy="100.15" r="9.29" fill="url(#sph3)"/>
<circle cx="577.61" cy="112.77" r="8.8" fill="url(#sph3)"/>
<circle cx="595.18" cy="111.36" r="9.39" fill="url(#sph3)"/>
<circle cx="607.42" cy="111.34" r="8.83" fill="url(#sph3)"/>
<circle cx="623.39" cy="115.3" r="8.16" fill="url(#sph3)"/>
<circle cx="640.78" cy="117.51" r="10.43" fill="url(#sph3)"/>
<circle cx="648.24" cy="113.32" r="8.1" fill="url(#sph3)"/>
<circle cx="668.13" cy="113.36" r="8.32" fill="url(#sph3)"/>
<circle cx="679.78" cy="118.49" r="10.05" fill="url(#sph3)"/>
<circle cx="692.97" cy="112.39" r="10.3" fill="url(#sph3)"/>
<circle cx="709.96" cy="116.8" r="8.22" fill="url(#sph3)"/>
<circle cx="720.36" cy="116.71" r="9.06" fill="url(#sph3)"/>
<circle cx="734.98" cy="118.71" r="9.59" fill="url(#sph3)"/>
<circle cx="755.31" cy="111.87" r="10.14" fill="url(#sph3)"/>
<circle cx="763.93" cy="118.1" r="9.13" fill="url(#sph3)"/>
<circle cx="780.61" cy="115.62" r="10.32" fill="url(#sph3)"/>
<circle cx="570.04" cy="126.73" r="9.32" fill="url(#sph3)"/>
<circle cx="584.31" cy="126.58" r="8.4" fill="url(#sph3)"/>
<circle cx="597.3" cy="127.31" r="8.78" fill="url(#sph3)"/>
<circle cx="613.84" cy="131.78" r="8.72" fill="url(#sph3)"/>
<circle cx="629.9" cy="127.12" r="8.87" fill="url(#sph3)"/>
<circle cx="640.55" cy="127.7" r="8.04" fill="url(#sph3)"/>
<circle cx="660.76" cy="130.11" r="8.47" fill="url(#sph3)"/>
<circle cx="673.2" cy="133.18" r="8.27" fill="url(#sph3)"/>
<circle cx="690.45" cy="129.16" r="9.24" fill="url(#sph3)"/>
<circle cx="705.08" cy="128.84" r="9.27" fill="url(#sph3)"/>
<circle cx="718.4" cy="133.56" r="8.86" fill="url(#sph3)"/>
<circle cx="734.06" cy="131.35" r="9.59" fill="url(#sph3)"/>
<circle cx="745.14" cy="128.48" r="8.14" fill="url(#sph3)"/>
<circle cx="757.44" cy="126.27" r="9.85" fill="url(#sph3)"/>
<circle cx="772.94" cy="127.01" r="8.21" fill="url(#sph3)"/>
<circle cx="581.63" cy="147.16" r="9.68" fill="url(#sph3)"/>
<circle cx="591.66" cy="142.14" r="8.73" fill="url(#sph3)"/>
<circle cx="607.58" cy="141.46" r="9.11" fill="url(#sph3)"/>
<circle cx="620.51" cy="147.89" r="10.43" fill="url(#sph3)"/>
<circle cx="637.28" cy="142.16" r="10.41" fill="url(#sph3)"/>
<circle cx="649.88" cy="143.05" r="8" fill="url(#sph3)"/>
<circle cx="664.95" cy="144" r="9.26" fill="url(#sph3)"/>
<circle cx="678.01" cy="144.24" r="8.01" fill="url(#sph3)"/>
<circle cx="693.01" cy="140.92" r="9" fill="url(#sph3)"/>
<circle cx="705.73" cy="140.38" r="8.76" fill="url(#sph3)"/>
<circle cx="721.76" cy="144.88" r="9.32" fill="url(#sph3)"/>
<circle cx="740.4" cy="145.46" r="9.79" fill="url(#sph3)"/>
<circle cx="755.93" cy="143.32" r="8.82" fill="url(#sph3)"/>
<circle cx="771.28" cy="141.4" r="9.81" fill="url(#sph3)"/>
<circle cx="783.05" cy="140.55" r="10.09" fill="url(#sph3)"/>
<circle cx="575.04" cy="159.72" r="9.83" fill="url(#sph3)"/>
<circle cx="588.9" cy="155.81" r="9.31" fill="url(#sph3)"/>
<circle cx="600.93" cy="161.38" r="10.01" fill="url(#sph3)"/>
<circle cx="618.01" cy="159.37" r="10.23" fill="url(#sph3)"/>
<circle cx="631.36" cy="160.25" r="8.57" fill="url(#sph3)"/>
<circle cx="640.65" cy="155.76" r="8.9" fill="url(#sph3)"/>
<circle cx="655.74" cy="161.39" r="9.4" fill="url(#sph3)"/>
<circle cx="674.42" cy="159.71" r="9.7" fill="url(#sph3)"/>
<circle cx="687.81" cy="154.73" r="9.99" fill="url(#sph3)"/>
<circle cx="704.39" cy="158.72" r="9.34" fill="url(#sph3)"/>
<circle cx="718.17" cy="155.23" r="9.84" fill="url(#sph3)"/>
<circle cx="729.42" cy="155.3" r="8.66" fill="url(#sph3)"/>
<circle cx="747.73" cy="156.34" r="9.85" fill="url(#sph3)"/>
<circle cx="764.21" cy="158.65" r="8.96" fill="url(#sph3)"/>
<circle cx="774.73" cy="160.17" r="9.92" fill="url(#sph3)"/>
<circle cx="579.84" cy="174.34" r="8.19" fill="url(#sph3)"/>
<circle cx="590.58" cy="171.23" r="9.86" fill="url(#sph3)"/>
<circle cx="606.34" cy="173.74" r="8.03" fill="url(#sph3)"/>
<circle cx="618.89" cy="171.35" r="9.68" fill="url(#sph3)"/>
<circle cx="638.44" cy="174.61" r="8.73" fill="url(#sph3)"/>
<circle cx="651.53" cy="172.92" r="9.17" fill="url(#sph3)"/>
<circle cx="662.85" cy="176.35" r="8.5" fill="url(#sph3)"/>
<circle cx="684.23" cy="176.69" r="8.04" fill="url(#sph3)"/>
<circle cx="694.57" cy="175.76" r="10.42" fill="url(#sph3)"/>
<circle cx="709" cy="171.35" r="8.52" fill="url(#sph3)"/>
<circle cx="727.46" cy="170.89" r="9.45" fill="url(#sph3)"/>
<circle cx="735.53" cy="173.39" r="10.38" fill="url(#sph3)"/>
<circle cx="749.96" cy="175.76" r="9.27" fill="url(#sph3)"/>
<circle cx="770.49" cy="174.83" r="8.58" fill="url(#sph3)"/>
<circle cx="785.08" cy="173.09" r="8.06" fill="url(#sph3)"/>
<circle cx="567.93" cy="187.63" r="9.13" fill="url(#sph3)"/>
<circle cx="584.82" cy="184.83" r="8.86" fill="url(#sph3)"/>
<circle cx="599.43" cy="190.42" r="8" fill="url(#sph3)"/>
<circle cx="617.41" cy="190.41" r="8.3" fill="url(#sph3)"/>
<circle cx="633.31" cy="189.4" r="10.25" fill="url(#sph3)"/>
<circle cx="642.72" cy="186.68" r="8.98" fill="url(#sph3)"/>
<circle cx="662.89" cy="188.41" r="8.9" fill="url(#sph3)"/>
<circle cx="672.82" cy="185.9" r="8.12" fill="url(#sph3)"/>
<circle cx="684.71" cy="190.38" r="8.71" fill="url(#sph3)"/>
<circle cx="705.88" cy="185.69" r="8.66" fill="url(#sph3)"/>
<circle cx="716.99" cy="185.22" r="8.93" fill="url(#sph3)"/>
<circle cx="735.05" cy="190.77" r="10.03" fill="url(#sph3)"/>
<circle cx="746.95" cy="191.01" r="10.35" fill="url(#sph3)"/>
<circle cx="760.79" cy="189.46" r="8.12" fill="url(#sph3)"/>
<circle cx="776.76" cy="187.31" r="9.88" fill="url(#sph3)"/>
<ellipse cx="730" cy="40" rx="48" ry="32" fill="#4a4a4a" opacity="0.35"/>
<circle cx="602" cy="20.3" r="11.88" fill="url(#sph2)" stroke="#3a3a3a" stroke-width="1" stroke-opacity="0.6"/>
<circle cx="610.4" cy="41.7" r="7.5" fill="url(#sph2)" stroke="#3a3a3a" stroke-width="1" stroke-opacity="0.6"/>
<circle cx="611.6" cy="60.8" r="8.12" fill="url(#sph2)" stroke="#3a3a3a" stroke-width="1" stroke-opacity="0.6"/>
<circle cx="590.2" cy="66.7" r="8.75" fill="url(#sph2)" stroke="#3a3a3a" stroke-width="1" stroke-opacity="0.6"/>
<circle cx="659.2" cy="64.3" r="13.38" fill="url(#sph2)" stroke="#3a3a3a" stroke-width="1" stroke-opacity="0.6"/>
<circle cx="674.6" cy="21.5" r="8.75" fill="url(#sph2)" stroke="#3a3a3a" stroke-width="1" stroke-opacity="0.6"/>
<circle cx="623.5" cy="92.9" r="9.62" fill="url(#sph2)" stroke="#3a3a3a" stroke-width="1" stroke-opacity="0.6"/>
<circle cx="604.5" cy="76.2" r="10.38" fill="url(#sph2)" stroke="#3a3a3a" stroke-width="1" stroke-opacity="0.6"/>
<circle cx="584.3" cy="92.9" r="10.38" fill="url(#sph2)" stroke="#3a3a3a" stroke-width="1" stroke-opacity="0.6"/>
<circle cx="653.2" cy="85.7" r="8.75" fill="url(#sph2)" stroke="#3a3a3a" stroke-width="1" stroke-opacity="0.6"/>
<circle cx="621" cy="19.1" r="8.75" fill="url(#sph2)" stroke="#3a3a3a" stroke-width="1" stroke-opacity="0.6"/>
<circle cx="641.3" cy="22.7" r="10.38" fill="url(#sph2)" stroke="#3a3a3a" stroke-width="1" stroke-opacity="0.6"/>
<circle cx="728.5" cy="62" r="8.75" fill="url(#sph2)" stroke="#3a3a3a" stroke-width="1" stroke-opacity="0.6"/>
<circle cx="752.3" cy="60.8" r="8.12" fill="url(#sph2)" stroke="#3a3a3a" stroke-width="1" stroke-opacity="0.6"/>
<circle cx="739.2" cy="76.2" r="8.75" fill="url(#sph2)" stroke="#3a3a3a" stroke-width="1" stroke-opacity="0.6"/>
<circle cx="760.6" cy="77.4" r="8.75" fill="url(#sph2)" stroke="#3a3a3a" stroke-width="1" stroke-opacity="0.6"/>
<circle cx="752.3" cy="95.2" r="8.75" fill="url(#sph2)" stroke="#3a3a3a" stroke-width="1" stroke-opacity="0.6"/>
<circle cx="725" cy="28.6" r="8.12" fill="url(#sph2)" stroke="#3a3a3a" stroke-width="1" stroke-opacity="0.6"/>
<circle cx="755.9" cy="27.5" r="8.12" fill="url(#sph2)" stroke="#3a3a3a" stroke-width="1" stroke-opacity="0.6"/>
<circle cx="767.7" cy="38.2" r="8.75" fill="url(#sph2)" stroke="#3a3a3a" stroke-width="1" stroke-opacity="0.6"/>
<circle cx="710.7" cy="32.2" r="8.12" fill="url(#sph2)" stroke="#3a3a3a" stroke-width="1" stroke-opacity="0.6"/>
<circle cx="702.3" cy="52.4" r="13.38" fill="url(#sph2)" stroke="#3a3a3a" stroke-width="1" stroke-opacity="0.6"/>
<circle cx="725" cy="39.3" r="7.5" fill="url(#sph2)" stroke="#3a3a3a" stroke-width="1" stroke-opacity="0.6"/>
<circle cx="702.3" cy="100" r="8.75" fill="url(#sph2)" stroke="#3a3a3a" stroke-width="1" stroke-opacity="0.6"/>
<circle cx="643.7" cy="104.8" r="10.38" fill="url(#sph2)" stroke="#3a3a3a" stroke-width="1" stroke-opacity="0.6"/>
<circle cx="595" cy="128.5" r="12.5" fill="url(#sph2)" stroke="#3a3a3a" stroke-width="1" stroke-opacity="0.6"/>
<circle cx="650.9" cy="135.7" r="9.62" fill="url(#sph2)" stroke="#3a3a3a" stroke-width="1" stroke-opacity="0.6"/>
<circle cx="656.8" cy="161.8" r="10.38" fill="url(#sph2)" stroke="#3a3a3a" stroke-width="1" stroke-opacity="0.6"/>
<circle cx="603.3" cy="107.1" r="10.38" fill="url(#sph2)" stroke="#3a3a3a" stroke-width="1" stroke-opacity="0.6"/>
<circle cx="614" cy="130.9" r="10.38" fill="url(#sph2)" stroke="#3a3a3a" stroke-width="1" stroke-opacity="0.6"/>
<circle cx="577.1" cy="145.2" r="10.38" fill="url(#sph2)" stroke="#3a3a3a" stroke-width="1" stroke-opacity="0.6"/>
<circle cx="643.7" cy="178.5" r="10.38" fill="url(#sph2)" stroke="#3a3a3a" stroke-width="1" stroke-opacity="0.6"/>
<circle cx="665.1" cy="180.9" r="8.75" fill="url(#sph2)" stroke="#3a3a3a" stroke-width="1" stroke-opacity="0.6"/>
<circle cx="579.5" cy="115.5" r="8.75" fill="url(#sph2)" stroke="#3a3a3a" stroke-width="1" stroke-opacity="0.6"/>
<circle cx="723.8" cy="116.6" r="8.12" fill="url(#sph2)" stroke="#3a3a3a" stroke-width="1" stroke-opacity="0.6"/>
<circle cx="707.1" cy="140.4" r="10.38" fill="url(#sph2)" stroke="#3a3a3a" stroke-width="1" stroke-opacity="0.6"/>
<circle cx="713" cy="155.9" r="8.75" fill="url(#sph2)" stroke="#3a3a3a" stroke-width="1" stroke-opacity="0.6"/>
<circle cx="702.3" cy="160.6" r="8.12" fill="url(#sph2)" stroke="#3a3a3a" stroke-width="1" stroke-opacity="0.6"/>
<circle cx="754.7" cy="148.8" r="9.62" fill="url(#sph2)" stroke="#3a3a3a" stroke-width="1" stroke-opacity="0.6"/>
<circle cx="773.7" cy="151.1" r="9.62" fill="url(#sph2)" stroke="#3a3a3a" stroke-width="1" stroke-opacity="0.6"/>
<circle cx="772.5" cy="174.9" r="8.75" fill="url(#sph2)" stroke="#3a3a3a" stroke-width="1" stroke-opacity="0.6"/>
<circle cx="720.2" cy="171.3" r="11.25" fill="url(#sph2)" stroke="#3a3a3a" stroke-width="1" stroke-opacity="0.6"/>
<circle cx="701.2" cy="176.1" r="10.38" fill="url(#sph2)" stroke="#3a3a3a" stroke-width="1" stroke-opacity="0.6"/>
<circle cx="681" cy="164.2" r="9.62" fill="url(#sph2)" stroke="#3a3a3a" stroke-width="1" stroke-opacity="0.6"/>
<circle cx="678.6" cy="142.8" r="8.75" fill="url(#sph2)" stroke="#3a3a3a" stroke-width="1" stroke-opacity="0.6"/>
<circle cx="688.1" cy="113.1" r="8.75" fill="url(#sph2)" stroke="#3a3a3a" stroke-width="1" stroke-opacity="0.6"/>
<circle cx="742.8" cy="104.8" r="13.38" fill="url(#sph2)" stroke="#3a3a3a" stroke-width="1" stroke-opacity="0.6"/>
<circle cx="772.5" cy="125" r="8.12" fill="url(#sph2)" stroke="#3a3a3a" stroke-width="1" stroke-opacity="0.6"/>
<circle cx="758.2" cy="183.2" r="8.12" fill="url(#sph2)" stroke="#3a3a3a" stroke-width="1" stroke-opacity="0.6"/>
<circle cx="679.8" cy="183.2" r="8.75" fill="url(#sph2)" stroke="#3a3a3a" stroke-width="1" stroke-opacity="0.6"/>
<circle cx="596.2" cy="41.7" r="10.68" fill="url(#sph)" stroke="#3a3a3a" stroke-width="1" stroke-opacity="0.6"/>
<circle cx="578.3" cy="46.5" r="8.4" fill="url(#sph)" stroke="#3a3a3a" stroke-width="1" stroke-opacity="0.6"/>
<circle cx="630.6" cy="41.7" r="13.56" fill="url(#sph)" stroke="#3a3a3a" stroke-width="1" stroke-opacity="0.6"/>
<circle cx="581.9" cy="79.8" r="11.4" fill="url(#sph)" stroke="#3a3a3a" stroke-width="1" stroke-opacity="0.6"/>
<circle cx="629.5" cy="73.8" r="12.84" fill="url(#sph)" stroke="#3a3a3a" stroke-width="1" stroke-opacity="0.6"/>
<circle cx="664" cy="33.4" r="10.8" fill="url(#sph)" stroke="#3a3a3a" stroke-width="1" stroke-opacity="0.6"/>
<circle cx="641.3" cy="90.5" r="11.4" fill="url(#sph)" stroke="#3a3a3a" stroke-width="1" stroke-opacity="0.6"/>
<circle cx="671" cy="97.6" r="8.4" fill="url(#sph)" stroke="#3a3a3a" stroke-width="1" stroke-opacity="0.6"/>
<circle cx="683.3" cy="22.7" r="11.4" fill="url(#sph)" stroke="#3a3a3a" stroke-width="1" stroke-opacity="0.6"/>
<circle cx="686.9" cy="71.5" r="11.4" fill="url(#sph)" stroke="#3a3a3a" stroke-width="1" stroke-opacity="0.6"/>
<circle cx="697.6" cy="84.5" r="10.8" fill="url(#sph)" stroke="#3a3a3a" stroke-width="1" stroke-opacity="0.6"/>
<circle cx="732" cy="94" r="9.96" fill="url(#sph)" stroke="#3a3a3a" stroke-width="1" stroke-opacity="0.6"/>
<circle cx="669.9" cy="113.1" r="12" fill="url(#sph)" stroke="#3a3a3a" stroke-width="1" stroke-opacity="0.6"/>
<circle cx="623.5" cy="108.3" r="12" fill="url(#sph)" stroke="#3a3a3a" stroke-width="1" stroke-opacity="0.6"/>
<circle cx="633" cy="136.9" r="10.8" fill="url(#sph)" stroke="#3a3a3a" stroke-width="1" stroke-opacity="0.6"/>
<circle cx="666.3" cy="141.6" r="9.96" fill="url(#sph)" stroke="#3a3a3a" stroke-width="1" stroke-opacity="0.6"/>
<circle cx="674.6" cy="164.2" r="11.4" fill="url(#sph)" stroke="#3a3a3a" stroke-width="1" stroke-opacity="0.6"/>
<circle cx="753.5" cy="126.2" r="15.6" fill="url(#sph)" stroke="#3a3a3a" stroke-width="1" stroke-opacity="0.6"/>
<circle cx="689.3" cy="133.3" r="12" fill="url(#sph)" stroke="#3a3a3a" stroke-width="1" stroke-opacity="0.6"/>
<circle cx="708.3" cy="121.4" r="10.8" fill="url(#sph)" stroke="#3a3a3a" stroke-width="1" stroke-opacity="0.6"/>
<circle cx="725" cy="135.7" r="10.8" fill="url(#sph)" stroke="#3a3a3a" stroke-width="1" stroke-opacity="0.6"/>
<circle cx="733.3" cy="155.9" r="15.6" fill="url(#sph)" stroke="#3a3a3a" stroke-width="1" stroke-opacity="0.6"/>
<circle cx="752.3" cy="166.6" r="11.4" fill="url(#sph)" stroke="#3a3a3a" stroke-width="1" stroke-opacity="0.6"/>
<circle cx="676.2" cy="108.3" r="8.4" fill="url(#sph)" stroke="#3a3a3a" stroke-width="1" stroke-opacity="0.6"/>
<circle cx="696.4" cy="82.2" r="2.6" fill="#2a2a2a"/>
<path d="M571.9,161 L580.2,167.5 L588.4,175.7 L600.2,176.9 L617.7,176.3 L630.6,178 L640,185 L647,188.2 L565,190 L565,161 Z" fill="#262626"/>
</g></g>
<text x="577.5" y="30.5" font-size="14" fill="#e0e0e0" text-anchor="start" font-weight="normal" >f</text>
<text x="583.4" y="159.9" font-size="21" fill="#fff" text-anchor="start" font-weight="bold" >10 μm</text>
<rect x="583.8" y="170.4" width="65.3" height="4.9" fill="#fff"/>
<g clip-path="url(#cg)">
<g filter="url(#bl2)">
<rect x="795" y="8" width="230" height="186" fill="#555"/>
<ellipse cx="850" cy="70" rx="50" ry="40" fill="#5a5a5a" opacity="0.6"/>
<ellipse cx="930" cy="60" rx="45" ry="35" fill="#5a5a5a" opacity="0.6"/>
<ellipse cx="880" cy="140" rx="60" ry="40" fill="#5a5a5a" opacity="0.6"/>
<ellipse cx="990" cy="150" rx="40" ry="40" fill="#5a5a5a" opacity="0.6"/>
<path d="M898.57,111.36 Q909.36,107.44 919.87,100.37" fill="none" stroke="#a8a8a8" stroke-width="1.75" opacity="0.66"/>
<path d="M937.35,40.37 Q931.32,49.75 923.89,45.07" fill="none" stroke="#9a9a9a" stroke-width="1.47" opacity="0.63"/>
<path d="M898.72,145.39 Q896.26,125.92 881.86,122.17" fill="none" stroke="#9a9a9a" stroke-width="0.95" opacity="0.56"/>
<path d="M797.22,93.15 Q781.14,102.11 764.38,106.02" fill="none" stroke="#c0c0c0" stroke-width="0.71" opacity="0.49"/>
<path d="M947.15,82.29 Q921.65,71.85 911.15,70.27" fill="none" stroke="#a8a8a8" stroke-width="1.37" opacity="0.46"/>
<path d="M925.15,25.51 Q924.65,22.68 939.75,37.24" fill="none" stroke="#9a9a9a" stroke-width="0.98" opacity="0.87"/>
<path d="M802.56,76.34 Q800.86,59.99 796.79,54.49" fill="none" stroke="#b4b4b4" stroke-width="1.14" opacity="0.59"/>
<path d="M793.64,82.91 Q803.57,70.84 806.06,76.37" fill="none" stroke="#c0c0c0" stroke-width="1.74" opacity="0.53"/>
<path d="M924.23,90.01 Q923.41,107.48 935.87,119.77" fill="none" stroke="#9a9a9a" stroke-width="1.21" opacity="0.9"/>
<path d="M790.11,169.22 Q812.79,158.39 817.55,164.85" fill="none" stroke="#a8a8a8" stroke-width="1.21" opacity="0.83"/>
<path d="M944.04,24.06 Q947.87,28.42 960.4,22.96" fill="none" stroke="#b4b4b4" stroke-width="1.78" opacity="0.62"/>
<path d="M807.83,44.66 Q802.04,42.9 800.99,36.74" fill="none" stroke="#a8a8a8" stroke-width="1.95" opacity="0.67"/>
<path d="M927.9,169.64 Q938.24,182.03 933.89,182.98" fill="none" stroke="#a8a8a8" stroke-width="1.64" opacity="0.52"/>
<path d="M940.95,110.25 Q936.46,92.67 932.6,90.28" fill="none" stroke="#9a9a9a" stroke-width="0.83" opacity="0.47"/>
<path d="M1021.04,50.3 Q1024.38,43.54 1016.06,33.3" fill="none" stroke="#b4b4b4" stroke-width="1.38" opacity="0.87"/>
<path d="M1024.52,29.02 Q1011.93,23.27 995.17,32.86" fill="none" stroke="#a8a8a8" stroke-width="1.89" opacity="0.54"/>
<path d="M793.98,56.15 Q782.58,55.76 782.85,60.1" fill="none" stroke="#cccccc" stroke-width="1.96" opacity="0.49"/>
<path d="M823.22,90.57 Q815.82,112.58 807.64,118.5" fill="none" stroke="#cccccc" stroke-width="0.75" opacity="0.46"/>
<path d="M1008.45,138.18 Q1016.08,136.63 1018.8,135.72" fill="none" stroke="#b4b4b4" stroke-width="1.11" opacity="0.9"/>
<path d="M808.06,108.76 Q810.82,93.98 805.05,71.88" fill="none" stroke="#b4b4b4" stroke-width="1.16" opacity="0.76"/>
<path d="M1006.2,170.51 Q998.12,180.2 976.95,187.28" fill="none" stroke="#cccccc" stroke-width="1.56" opacity="0.62"/>
<path d="M792.99,18.73 Q794.29,20.85 804.33,25.99" fill="none" stroke="#b4b4b4" stroke-width="1.2" opacity="0.78"/>
<path d="M929.43,88.7 Q937.23,74.92 936.03,78.07" fill="none" stroke="#cccccc" stroke-width="0.81" opacity="0.46"/>
<path d="M1019.77,26.45 Q1022.32,18.94 1025.35,-2.83" fill="none" stroke="#b4b4b4" stroke-width="1.09" opacity="0.76"/>
<path d="M838.62,37.23 Q849.93,35.96 863.34,20.59" fill="none" stroke="#b4b4b4" stroke-width="1.23" opacity="0.56"/>
<path d="M942.2,157.71 Q937.29,144.66 942.67,141.7" fill="none" stroke="#b4b4b4" stroke-width="0.97" opacity="0.51"/>
<path d="M874.18,175.17 Q888.59,182.47 885.72,178.18" fill="none" stroke="#9a9a9a" stroke-width="1.29" opacity="0.57"/>
<path d="M841.38,83.66 Q829.32,80.95 823.91,66.03" fill="none" stroke="#cccccc" stroke-width="1.29" opacity="0.48"/>
<path d="M797.56,170.84 Q813.93,171.43 827.76,178.89" fill="none" stroke="#cccccc" stroke-width="0.72" opacity="0.51"/>
<path d="M899.16,9.7 Q896.8,-5.97 907.38,-5.32" fill="none" stroke="#9a9a9a" stroke-width="1.28" opacity="0.73"/>
<path d="M947.21,158.4 Q956.55,154.02 976.71,150.52" fill="none" stroke="#a8a8a8" stroke-width="1.63" opacity="0.79"/>
<path d="M918.36,11.87 Q921.54,36.41 923.28,44.87" fill="none" stroke="#cccccc" stroke-width="1.5" opacity="0.79"/>
<path d="M884.44,155.47 Q897.48,155.96 894.93,148.46" fill="none" stroke="#a8a8a8" stroke-width="1.29" opacity="0.54"/>
<path d="M1002.96,6.28 Q988.94,7.46 974.83,-2.87" fill="none" stroke="#b4b4b4" stroke-width="1.3" opacity="0.74"/>
<path d="M839.17,142.17 Q849.18,123.71 851.35,115.57" fill="none" stroke="#c0c0c0" stroke-width="1.97" opacity="0.89"/>
<path d="M918.87,155.25 Q917.29,169.38 902.9,188.96" fill="none" stroke="#9a9a9a" stroke-width="0.75" opacity="0.6"/>
<path d="M891.14,57.3 Q905,52.02 905.63,49.3" fill="none" stroke="#9a9a9a" stroke-width="0.92" opacity="0.6"/>
<path d="M979.1,31.7 Q990.7,48.07 994.25,52.2" fill="none" stroke="#c0c0c0" stroke-width="1.93" opacity="0.67"/>
<path d="M1017.8,21.34 Q1016.32,38.16 1022.41,46.73" fill="none" stroke="#a8a8a8" stroke-width="1.38" opacity="0.83"/>
<path d="M924.39,64.22 Q918.62,70.97 898.43,88.23" fill="none" stroke="#a8a8a8" stroke-width="1.96" opacity="0.69"/>
<path d="M927.52,43.18 Q917.18,31.88 903.06,37.57" fill="none" stroke="#9a9a9a" stroke-width="1.37" opacity="0.63"/>
<path d="M982.26,111.94 Q959.1,113.51 951.58,113.67" fill="none" stroke="#c0c0c0" stroke-width="1.9" opacity="0.81"/>
<path d="M887,51.79 Q884.13,60.08 866.83,52.68" fill="none" stroke="#c0c0c0" stroke-width="1.38" opacity="0.5"/>
<path d="M890.69,10.59 Q898.28,17.73 888.7,41.59" fill="none" stroke="#a8a8a8" stroke-width="1" opacity="0.76"/>
<path d="M867.3,72.52 Q866.66,61.23 857.7,63.53" fill="none" stroke="#cccccc" stroke-width="1.51" opacity="0.77"/>
<path d="M958.33,171.96 Q978.52,176.15 987.01,176.18" fill="none" stroke="#cccccc" stroke-width="0.97" opacity="0.73"/>
<path d="M943.23,105.63 Q958.08,89.41 960.08,82.82" fill="none" stroke="#b4b4b4" stroke-width="1.87" opacity="0.59"/>
<path d="M865.6,180.33 Q876.54,193.31 873.54,219.48" fill="none" stroke="#a8a8a8" stroke-width="0.87" opacity="0.49"/>
<path d="M883.1,87.61 Q899.04,77.47 907.62,78.11" fill="none" stroke="#9a9a9a" stroke-width="0.82" opacity="0.71"/>
<path d="M875.82,160.99 Q868.22,170.08 855.77,184.81" fill="none" stroke="#a8a8a8" stroke-width="1.74" opacity="0.67"/>
<path d="M795.83,149.78 Q781.44,132.05 767.71,125.5" fill="none" stroke="#9a9a9a" stroke-width="0.97" opacity="0.83"/>
<path d="M1027.67,181.11 Q1040.7,183.77 1037.47,187.79" fill="none" stroke="#9a9a9a" stroke-width="1.12" opacity="0.66"/>
<path d="M913.67,86.72 Q913.1,89.83 905.29,80.55" fill="none" stroke="#a8a8a8" stroke-width="1.23" opacity="0.61"/>
<path d="M878.85,180.15 Q879.03,173.05 868.69,172.29" fill="none" stroke="#9a9a9a" stroke-width="1.74" opacity="0.77"/>
<path d="M996.58,124.58 Q985.1,141.17 973.48,140.39" fill="none" stroke="#b4b4b4" stroke-width="1.06" opacity="0.5"/>
<path d="M968.31,35.41 Q971.65,33.28 981.12,29.75" fill="none" stroke="#b4b4b4" stroke-width="1.7" opacity="0.79"/>
<path d="M887.38,142.3 Q895.97,137.83 905.67,150.99" fill="none" stroke="#b4b4b4" stroke-width="1.99" opacity="0.86"/>
<path d="M801.9,56.87 Q805.99,52.9 820.31,52.31" fill="none" stroke="#a8a8a8" stroke-width="1.39" opacity="0.63"/>
<path d="M1029.97,127.03 Q1033.66,102.78 1020.07,95.71" fill="none" stroke="#cccccc" stroke-width="0.84" opacity="0.56"/>
<path d="M896.48,100.9 Q888.71,81.88 898.56,71.54" fill="none" stroke="#b4b4b4" stroke-width="1.88" opacity="0.7"/>
<path d="M911.88,188.76 Q896.22,186.07 875.6,172.25" fill="none" stroke="#9a9a9a" stroke-width="1.41" opacity="0.75"/>
<path d="M1019.28,78.42 Q1037.74,80.76 1039.27,70.3" fill="none" stroke="#cccccc" stroke-width="1.49" opacity="0.48"/>
<path d="M1016.87,84.93 Q1000.68,78.74 989.32,80.26" fill="none" stroke="#b4b4b4" stroke-width="1.43" opacity="0.58"/>
<path d="M961.98,61.25 Q962.4,55.83 979.27,62.77" fill="none" stroke="#c0c0c0" stroke-width="0.77" opacity="0.59"/>
<path d="M885.47,115.53 Q889.17,100.91 882.17,96.23" fill="none" stroke="#c0c0c0" stroke-width="1.03" opacity="0.79"/>
<path d="M800.9,23.71 Q801.38,14.66 814.67,-10.94" fill="none" stroke="#a8a8a8" stroke-width="1.48" opacity="0.5"/>
<path d="M939.82,91.58 Q941.98,90.36 943.14,102.66" fill="none" stroke="#c0c0c0" stroke-width="0.88" opacity="0.64"/>
<path d="M934.25,126.52 Q934.31,122.67 925.58,107.48" fill="none" stroke="#a8a8a8" stroke-width="1.94" opacity="0.78"/>
<path d="M847.22,26.64 Q862.56,13.63 873.41,5.7" fill="none" stroke="#b4b4b4" stroke-width="1.49" opacity="0.78"/>
<path d="M957.77,41.1 Q964.37,49.6 954.69,58.01" fill="none" stroke="#a8a8a8" stroke-width="1.84" opacity="0.47"/>
<path d="M804.59,56.48 Q784.64,63.73 779,69.48" fill="none" stroke="#9a9a9a" stroke-width="1.68" opacity="0.86"/>
<path d="M828.61,49.6 Q838.16,45.27 852.96,46.76" fill="none" stroke="#c0c0c0" stroke-width="1.67" opacity="0.83"/>
<path d="M807.84,27.76 Q817.9,9.22 818.28,1.01" fill="none" stroke="#c0c0c0" stroke-width="1.67" opacity="0.63"/>
<path d="M826.16,34.16 Q829.6,26.87 840.57,10.26" fill="none" stroke="#a8a8a8" stroke-width="1.26" opacity="0.62"/>
<path d="M813.28,171.28 Q819.94,173.97 824.29,177.2" fill="none" stroke="#c0c0c0" stroke-width="1.09" opacity="0.8"/>
<path d="M808.26,45.52 Q801.46,44.27 801.73,34.92" fill="none" stroke="#b4b4b4" stroke-width="1.07" opacity="0.51"/>
<path d="M875.87,142.94 Q875.12,149.21 866.84,153" fill="none" stroke="#b4b4b4" stroke-width="1.27" opacity="0.81"/>
<path d="M863.14,65.35 Q854.89,72.04 832.43,87.79" fill="none" stroke="#b4b4b4" stroke-width="1.78" opacity="0.46"/>
<path d="M952.48,116.11 Q954.71,98.73 961.67,85.29" fill="none" stroke="#a8a8a8" stroke-width="1.79" opacity="0.7"/>
<path d="M832.38,149.2 Q830.54,143.21 845.9,136.65" fill="none" stroke="#cccccc" stroke-width="0.91" opacity="0.58"/>
<path d="M795.36,164.92 Q779.72,172.14 771.07,177.73" fill="none" stroke="#b4b4b4" stroke-width="0.81" opacity="0.78"/>
<path d="M1005.78,21.09 Q1005.44,18.43 996.25,10.41" fill="none" stroke="#a8a8a8" stroke-width="1.63" opacity="0.67"/>
<path d="M1007.86,69.25 Q1003.47,68.85 988.02,74.47" fill="none" stroke="#a8a8a8" stroke-width="1.34" opacity="0.69"/>
<path d="M963.02,139.55 Q978.5,136.87 982.23,128.18" fill="none" stroke="#9a9a9a" stroke-width="1.75" opacity="0.83"/>
<path d="M1003.28,186.98 Q998.88,182.5 986.92,167.14" fill="none" stroke="#c0c0c0" stroke-width="1.9" opacity="0.86"/>
<path d="M848.97,35.83 Q835.67,22.38 828.81,12.91" fill="none" stroke="#cccccc" stroke-width="1.08" opacity="0.89"/>
<path d="M804.21,63.6 Q820.23,67.56 826.32,83.05" fill="none" stroke="#9a9a9a" stroke-width="1.68" opacity="0.46"/>
<path d="M905.46,157.08 Q899.88,166.02 899.36,171.79" fill="none" stroke="#cccccc" stroke-width="1.63" opacity="0.72"/>
<path d="M843.75,40.15 Q846.91,44.2 840.81,55.03" fill="none" stroke="#cccccc" stroke-width="1.92" opacity="0.7"/>
<path d="M994.81,97.1 Q981.87,113.1 963.16,119.32" fill="none" stroke="#9a9a9a" stroke-width="1.33" opacity="0.55"/>
<path d="M801.93,185.03 Q805.85,175.1 808.77,164.59" fill="none" stroke="#b4b4b4" stroke-width="1.72" opacity="0.48"/>
<path d="M1011.82,174.52 Q1023.98,156.74 1037.94,148.09" fill="none" stroke="#c0c0c0" stroke-width="1.49" opacity="0.52"/>
<path d="M827.66,66.14 Q826.88,86.62 825.52,102.16" fill="none" stroke="#cccccc" stroke-width="1.05" opacity="0.69"/>
<path d="M826.16,151.37 Q849.71,157.32 860.8,151.67" fill="none" stroke="#9a9a9a" stroke-width="1.16" opacity="0.73"/>
<path d="M916.71,174.03 Q919.02,168.96 912.38,162.32" fill="none" stroke="#cccccc" stroke-width="1.09" opacity="0.81"/>
<path d="M890.07,179.18 Q899.46,189.37 919.34,198" fill="none" stroke="#cccccc" stroke-width="1.34" opacity="0.88"/>
<path d="M1021.34,65.06 Q1019.24,75.54 999.22,80" fill="none" stroke="#9a9a9a" stroke-width="1.17" opacity="0.76"/>
<path d="M815.38,79.9 Q802.37,87.32 777.49,89.19" fill="none" stroke="#9a9a9a" stroke-width="1.82" opacity="0.77"/>
<path d="M904.06,60.76 Q923.02,77.79 929.16,82.42" fill="none" stroke="#a8a8a8" stroke-width="1.87" opacity="0.52"/>
<path d="M940.67,183.12 Q945.22,164.8 940.6,144.49" fill="none" stroke="#9a9a9a" stroke-width="1.03" opacity="0.54"/>
<path d="M965.55,67.59 Q982.22,60.01 990.84,58.48" fill="none" stroke="#c0c0c0" stroke-width="0.82" opacity="0.51"/>
<path d="M812.66,133.76 Q808.9,132.39 808.67,118.89" fill="none" stroke="#cccccc" stroke-width="1.62" opacity="0.5"/>
<path d="M797.77,192.61 Q779.76,205.12 767.45,205.99" fill="none" stroke="#cccccc" stroke-width="0.88" opacity="0.54"/>
<path d="M825.51,136.35 Q809.02,142.47 788.09,140.42" fill="none" stroke="#cccccc" stroke-width="1.61" opacity="0.89"/>
<path d="M979.52,130.44 Q972.38,124.28 971.33,123.79" fill="none" stroke="#c0c0c0" stroke-width="0.84" opacity="0.62"/>
<path d="M912.25,154.83 Q912.55,147 925.14,129.59" fill="none" stroke="#b4b4b4" stroke-width="1.41" opacity="0.61"/>
<path d="M910.1,31.93 Q905.88,16.53 901.08,-6.63" fill="none" stroke="#a8a8a8" stroke-width="1.44" opacity="0.46"/>
<path d="M948.27,152.56 Q954.75,158.75 964.21,170.94" fill="none" stroke="#9a9a9a" stroke-width="1.91" opacity="0.61"/>
<path d="M901.13,28.57 Q915.34,28.18 915,26.24" fill="none" stroke="#cccccc" stroke-width="0.78" opacity="0.86"/>
<path d="M830.45,146.69 Q832.06,148.46 846.43,134.6" fill="none" stroke="#9a9a9a" stroke-width="1.08" opacity="0.85"/>
<path d="M847.81,113.98 Q852.45,99.55 855.37,100.38" fill="none" stroke="#9a9a9a" stroke-width="1.22" opacity="0.8"/>
<path d="M1013.17,194.78 Q1029.98,214.57 1034.28,219.73" fill="none" stroke="#cccccc" stroke-width="1.47" opacity="0.81"/>
<path d="M793.92,42.91 Q784.88,45.59 779.92,45.76" fill="none" stroke="#a8a8a8" stroke-width="1.14" opacity="0.51"/>
<path d="M848.59,182.02 Q868.4,192.73 880.24,193.08" fill="none" stroke="#c0c0c0" stroke-width="1.95" opacity="0.72"/>
<path d="M902.78,83.17 Q896.49,76.94 880.92,61.64" fill="none" stroke="#c0c0c0" stroke-width="1.86" opacity="0.66"/>
<path d="M1007.3,136.15 Q1003.44,138.03 1013.45,124.11" fill="none" stroke="#b4b4b4" stroke-width="1.38" opacity="0.64"/>
<path d="M1007.03,65.93 Q1029.19,75.46 1036.94,76.63" fill="none" stroke="#cccccc" stroke-width="1.12" opacity="0.81"/>
<path d="M1001.82,171.64 Q997.81,196.01 1003.08,206.95" fill="none" stroke="#9a9a9a" stroke-width="1.32" opacity="0.5"/>
<path d="M1008.39,108.55 Q1004.67,101.61 987.28,76.7" fill="none" stroke="#b4b4b4" stroke-width="1.83" opacity="0.64"/>
<path d="M983.26,47.14 Q990.24,26.41 982.69,20.14" fill="none" stroke="#a8a8a8" stroke-width="0.86" opacity="0.69"/>
<path d="M1018.23,5.11 Q1015.44,6.72 1018.96,24.07" fill="none" stroke="#c0c0c0" stroke-width="1.76" opacity="0.63"/>
<path d="M875.56,116.25 Q887.97,114.34 886.04,119.36" fill="none" stroke="#c0c0c0" stroke-width="0.89" opacity="0.8"/>
<path d="M976.37,171.96 Q985.07,181.12 986.85,206.16" fill="none" stroke="#b4b4b4" stroke-width="1.79" opacity="0.61"/>
<path d="M903.4,37.66 Q912.54,26.37 932.41,10.32" fill="none" stroke="#a8a8a8" stroke-width="1.93" opacity="0.89"/>
<path d="M946.03,63.16 Q949.97,44.03 962.05,27.77" fill="none" stroke="#a8a8a8" stroke-width="1.14" opacity="0.88"/>
<path d="M976.94,83.88 Q978.81,103 994.33,115.23" fill="none" stroke="#b4b4b4" stroke-width="0.94" opacity="0.56"/>
<path d="M949.5,155.19 Q946.03,167.53 928.72,176.63" fill="none" stroke="#a8a8a8" stroke-width="1.97" opacity="0.85"/>
<path d="M833.34,47.93 Q842.77,51.41 853.54,70.15" fill="none" stroke="#cccccc" stroke-width="0.8" opacity="0.86"/>
<path d="M791.67,116.45 Q781.87,107.77 769.59,111.18" fill="none" stroke="#a8a8a8" stroke-width="1.02" opacity="0.58"/>
<path d="M921.55,40.41 Q928.96,27.77 953.17,16.52" fill="none" stroke="#cccccc" stroke-width="1.2" opacity="0.87"/>
<path d="M909.98,39.18 Q893.67,36.97 882.43,29.06" fill="none" stroke="#9a9a9a" stroke-width="1.37" opacity="0.68"/>
<path d="M992.9,135.01 Q967.91,137.57 954.67,130.05" fill="none" stroke="#a8a8a8" stroke-width="0.85" opacity="0.65"/>
<path d="M950.43,109.09 Q953.8,120.49 949.21,140.55" fill="none" stroke="#cccccc" stroke-width="0.99" opacity="0.71"/>
<path d="M909.75,11.71 Q898.16,9.44 883.95,-6.26" fill="none" stroke="#a8a8a8" stroke-width="1.12" opacity="0.72"/>
<path d="M936.05,158.17 Q926.63,149.36 904.37,157.43" fill="none" stroke="#9a9a9a" stroke-width="1.88" opacity="0.71"/>
<path d="M920.38,155.41 Q917.52,154.34 921.46,169.75" fill="none" stroke="#b4b4b4" stroke-width="1.77" opacity="0.78"/>
<path d="M977.37,150.41 Q962.81,148.38 947.87,150.71" fill="none" stroke="#a8a8a8" stroke-width="0.91" opacity="0.76"/>
<path d="M989.42,154.47 Q997.33,153.55 1010.11,162.84" fill="none" stroke="#9a9a9a" stroke-width="0.87" opacity="0.79"/>
<path d="M934.18,30.56 Q942.49,8.81 933.31,4.93" fill="none" stroke="#c0c0c0" stroke-width="1.86" opacity="0.51"/>
<path d="M884.3,61.63 Q870.45,73.37 873.37,67.25" fill="none" stroke="#cccccc" stroke-width="1" opacity="0.56"/>
<path d="M922.45,50.92 Q901.57,52.53 885.58,60" fill="none" stroke="#cccccc" stroke-width="0.98" opacity="0.52"/>
<path d="M930.45,194 Q936.8,187.45 928.32,167.06" fill="none" stroke="#a8a8a8" stroke-width="1.3" opacity="0.63"/>
<path d="M992.33,77.41 Q991.2,63.65 995.55,61.27" fill="none" stroke="#cccccc" stroke-width="1.75" opacity="0.67"/>
<path d="M886.05,117.84 Q886.61,108.05 887.51,93.71" fill="none" stroke="#a8a8a8" stroke-width="1.82" opacity="0.54"/>
<path d="M881.91,18.83 Q874.09,0.42 874.39,-0.65" fill="none" stroke="#a8a8a8" stroke-width="1.66" opacity="0.68"/>
<path d="M926.17,128.4 Q919.53,138.92 928.82,141.23" fill="none" stroke="#b4b4b4" stroke-width="0.88" opacity="0.56"/>
<path d="M991.44,27.66 Q1008.12,33.82 1026.6,27.21" fill="none" stroke="#c0c0c0" stroke-width="1.12" opacity="0.8"/>
<path d="M914.63,15.43 Q899.63,14.45 901.15,26.03" fill="none" stroke="#cccccc" stroke-width="0.87" opacity="0.54"/>
<path d="M888.56,95.94 Q885.04,80.61 879.77,71.99" fill="none" stroke="#c0c0c0" stroke-width="1.57" opacity="0.52"/>
<path d="M839.15,58.27 Q834.54,54.07 834.02,36.71" fill="none" stroke="#a8a8a8" stroke-width="0.83" opacity="0.62"/>
<path d="M936.71,31.66 Q945.78,9.64 955.47,5.22" fill="none" stroke="#b4b4b4" stroke-width="1.56" opacity="0.48"/>
<path d="M994.71,111.04 Q995.52,114.22 986.44,121.92" fill="none" stroke="#b4b4b4" stroke-width="0.82" opacity="0.64"/>
<path d="M884.19,16.42 Q876.76,19.1 869.44,29.7" fill="none" stroke="#a8a8a8" stroke-width="1.9" opacity="0.54"/>
<path d="M974.39,71.64 Q975.76,66.52 968.38,46.74" fill="none" stroke="#a8a8a8" stroke-width="1.32" opacity="0.57"/>
<path d="M994.7,63.62 Q1003.8,61.51 1026.56,44.66" fill="none" stroke="#c0c0c0" stroke-width="1.05" opacity="0.62"/>
<path d="M993.23,62 Q982.01,35.69 986.19,26.1" fill="none" stroke="#b4b4b4" stroke-width="1.86" opacity="0.7"/>
<path d="M852.86,131.93 Q859.64,151.19 862.28,154.09" fill="none" stroke="#b4b4b4" stroke-width="0.74" opacity="0.77"/>
<path d="M841.97,19.35 Q856.56,15.38 867.09,27.11" fill="none" stroke="#9a9a9a" stroke-width="1.78" opacity="0.85"/>
<path d="M881.65,177.83 Q888.61,176.05 895.32,181.17" fill="none" stroke="#b4b4b4" stroke-width="1.31" opacity="0.46"/>
<path d="M935.3,56.26 Q935.25,72.23 934.45,72.84" fill="none" stroke="#c0c0c0" stroke-width="0.7" opacity="0.7"/>
<path d="M993.75,150.4 Q1015.92,162.11 1024.27,166.94" fill="none" stroke="#b4b4b4" stroke-width="1.04" opacity="0.5"/>
<path d="M794.65,158.06 Q791.32,163.09 800.36,179.19" fill="none" stroke="#a8a8a8" stroke-width="0.91" opacity="0.73"/>
<path d="M907.76,112.12 Q905.9,119.52 895.08,125.7" fill="none" stroke="#a8a8a8" stroke-width="1.54" opacity="0.61"/>
<path d="M959.48,179.31 Q966.86,166.93 956.64,143.1" fill="none" stroke="#b4b4b4" stroke-width="0.85" opacity="0.65"/>
<path d="M975.31,96.33 Q991.36,103.64 994.1,127.03" fill="none" stroke="#b4b4b4" stroke-width="1.22" opacity="0.78"/>
<path d="M956.52,53.06 Q952.84,39.49 942.59,37.3" fill="none" stroke="#a8a8a8" stroke-width="1.8" opacity="0.82"/>
<path d="M926.19,84.91 Q928.32,76.51 918.52,57.27" fill="none" stroke="#a8a8a8" stroke-width="0.96" opacity="0.73"/>
<path d="M860.07,128.88 Q875.47,132.14 883.9,124.92" fill="none" stroke="#a8a8a8" stroke-width="1.05" opacity="0.57"/>
<path d="M850.47,131.5 Q832.47,135.25 827.48,151.35" fill="none" stroke="#9a9a9a" stroke-width="1.83" opacity="0.54"/>
<path d="M875.55,107.31 Q886.37,102.81 882.61,86.33" fill="none" stroke="#c0c0c0" stroke-width="0.92" opacity="0.48"/>
<path d="M895.31,170.26 Q894.37,161.86 885.45,156.77" fill="none" stroke="#a8a8a8" stroke-width="1.98" opacity="0.63"/>
<path d="M956.57,108.73 Q952.96,94.81 961.04,95.03" fill="none" stroke="#b4b4b4" stroke-width="1.84" opacity="0.64"/>
<path d="M826.45,173.04 Q820.66,184.67 823.02,199.89" fill="none" stroke="#b4b4b4" stroke-width="1" opacity="0.67"/>
<path d="M877.8,54.32 Q890.53,52.78 889.12,58.1" fill="none" stroke="#9a9a9a" stroke-width="0.71" opacity="0.6"/>
<path d="M823.54,154.92 Q826.23,151.66 845.76,153.75" fill="none" stroke="#cccccc" stroke-width="1.21" opacity="0.48"/>
<path d="M922.13,129.81 Q923.48,129.98 909.02,117.02" fill="none" stroke="#c0c0c0" stroke-width="1.44" opacity="0.87"/>
<path d="M801.28,167.88 Q816.73,159.3 825.88,158.97" fill="none" stroke="#9a9a9a" stroke-width="1.68" opacity="0.59"/>
<path d="M913.42,6.99 Q909.42,26.26 923.03,44.56" fill="none" stroke="#a8a8a8" stroke-width="1.73" opacity="0.78"/>
<path d="M885.82,157.59 Q902.31,135.81 901.31,128.41" fill="none" stroke="#c0c0c0" stroke-width="1.22" opacity="0.77"/>
<path d="M850.12,177.83 Q858.71,177.83 877.13,181.85" fill="none" stroke="#b4b4b4" stroke-width="1.36" opacity="0.57"/>
<path d="M1028.15,124.11 Q1011.15,129.88 1009.74,130.12" fill="none" stroke="#cccccc" stroke-width="0.82" opacity="0.6"/>
<path d="M967.99,45.15 Q970.67,26.16 966.86,18.79" fill="none" stroke="#9a9a9a" stroke-width="0.9" opacity="0.62"/>
<path d="M833.76,9.18 Q821.79,20.7 824.42,15.99" fill="none" stroke="#a8a8a8" stroke-width="0.73" opacity="0.53"/>
<path d="M805.96,116.92 Q796.84,120.15 788.67,107.59" fill="none" stroke="#c0c0c0" stroke-width="1.23" opacity="0.77"/>
<path d="M832.67,56.94 Q820.99,34 815.71,22.46" fill="none" stroke="#b4b4b4" stroke-width="1.38" opacity="0.45"/>
<path d="M965.25,130.87 Q972.29,124.99 975.13,124.69" fill="none" stroke="#c0c0c0" stroke-width="1.81" opacity="0.73"/>
<path d="M911.16,112.87 Q927.82,123.57 937.64,135.95" fill="none" stroke="#c0c0c0" stroke-width="1.25" opacity="0.62"/>
<path d="M845.21,119.13 Q825.36,115.8 822.36,107.89" fill="none" stroke="#c0c0c0" stroke-width="1.07" opacity="0.47"/>
<path d="M803.1,66.7 Q789.06,66.63 783.79,62.13" fill="none" stroke="#a8a8a8" stroke-width="1.66" opacity="0.9"/>
<path d="M886.5,169.82 Q900.23,179.22 914.28,198.19" fill="none" stroke="#a8a8a8" stroke-width="1.78" opacity="0.81"/>
<path d="M912.78,193.8 Q933.17,196.46 945.93,208.1" fill="none" stroke="#b4b4b4" stroke-width="1.29" opacity="0.69"/>
<path d="M997.73,42.24 Q987.34,57.63 992.31,71.04" fill="none" stroke="#c0c0c0" stroke-width="1.84" opacity="0.48"/>
<path d="M909.2,15.63 Q914.78,9.29 936.01,-12.94" fill="none" stroke="#b4b4b4" stroke-width="0.93" opacity="0.6"/>
<path d="M1012.92,186.5 Q1013.19,197.72 1016.47,204.81" fill="none" stroke="#9a9a9a" stroke-width="1.8" opacity="0.73"/>
<path d="M1006.43,18.66 Q1016.83,24.82 1022.59,17.42" fill="none" stroke="#a8a8a8" stroke-width="1.43" opacity="0.9"/>
<path d="M880.77,160.14 Q883.32,146.19 869.82,126.54" fill="none" stroke="#a8a8a8" stroke-width="1.6" opacity="0.53"/>
<path d="M820.73,136.81 Q807.03,146.2 807.16,139.72" fill="none" stroke="#cccccc" stroke-width="1.51" opacity="0.59"/>
<path d="M791.93,18.11 Q802.94,38.13 800.62,48.43" fill="none" stroke="#a8a8a8" stroke-width="0.89" opacity="0.73"/>
<path d="M891.93,160.83 Q882.08,175.19 872,173.66" fill="none" stroke="#b4b4b4" stroke-width="1.37" opacity="0.64"/>
<path d="M908.21,27.34 Q929.33,32.43 934.18,52.71" fill="none" stroke="#c0c0c0" stroke-width="0.99" opacity="0.66"/>
<path d="M837.69,83.67 Q838,95.01 843.1,112.35" fill="none" stroke="#cccccc" stroke-width="1.27" opacity="0.88"/>
<path d="M860.31,137.03 Q854.64,122.76 852.15,121.73" fill="none" stroke="#b4b4b4" stroke-width="1.2" opacity="0.58"/>
<path d="M814.5,172.22 Q818.11,164.86 816.06,159.18" fill="none" stroke="#a8a8a8" stroke-width="0.81" opacity="0.61"/>
<path d="M879.88,142.38 Q882.1,141.6 870,124.63" fill="none" stroke="#9a9a9a" stroke-width="1.57" opacity="0.52"/>
<path d="M807.41,37.38 Q797.96,29.03 783.04,36.5" fill="none" stroke="#a8a8a8" stroke-width="1.97" opacity="0.9"/>
<path d="M884.83,162.45 Q884.67,142.1 866.59,137.35" fill="none" stroke="#c0c0c0" stroke-width="1.55" opacity="0.81"/>
<path d="M1013.69,103.39 Q1008.89,97.38 992.19,90.8" fill="none" stroke="#9a9a9a" stroke-width="1.66" opacity="0.49"/>
<path d="M830.04,128.3 Q814.06,122.64 806.95,105.78" fill="none" stroke="#c0c0c0" stroke-width="1.71" opacity="0.5"/>
<path d="M902.48,8 Q921.79,-15.36 926.86,-21.58" fill="none" stroke="#b4b4b4" stroke-width="1.24" opacity="0.7"/>
<path d="M1023.86,152.48 Q1041.59,155.86 1057.02,174.8" fill="none" stroke="#a8a8a8" stroke-width="0.87" opacity="0.49"/>
<path d="M912.93,60.85 Q912.87,44.26 915.92,43.71" fill="none" stroke="#a8a8a8" stroke-width="1.47" opacity="0.53"/>
<path d="M815.08,31.15 Q828.93,14.54 842.64,10.75" fill="none" stroke="#cccccc" stroke-width="1.38" opacity="0.63"/>
<path d="M936.93,169.13 Q939.03,160.37 958.75,164.08" fill="none" stroke="#9a9a9a" stroke-width="1.65" opacity="0.77"/>
<path d="M827.57,105.9 Q830.53,115.48 840.67,108.28" fill="none" stroke="#9a9a9a" stroke-width="1.21" opacity="0.58"/>
<path d="M841.52,106.98 Q842.42,92.22 829.08,88.14" fill="none" stroke="#cccccc" stroke-width="1.93" opacity="0.71"/>
<path d="M910.23,176.73 Q907.06,178.23 895.27,188.42" fill="none" stroke="#b4b4b4" stroke-width="0.81" opacity="0.81"/>
<path d="M882.32,128.26 Q875.52,134.65 875.53,139.93" fill="none" stroke="#a8a8a8" stroke-width="1.39" opacity="0.7"/>
<path d="M885.94,47.31 Q891.19,53.19 903.12,59.66" fill="none" stroke="#a8a8a8" stroke-width="1.38" opacity="0.69"/>
<path d="M965.95,75.95 Q963.85,69.74 955,68.68" fill="none" stroke="#a8a8a8" stroke-width="1.18" opacity="0.72"/>
<path d="M878.53,62.22 Q864.5,53.41 857.12,44.69" fill="none" stroke="#cccccc" stroke-width="1.69" opacity="0.61"/>
<path d="M995.39,45.53 Q988.89,39.06 966.42,27.28" fill="none" stroke="#b4b4b4" stroke-width="1.22" opacity="0.58"/>
<path d="M953.17,21.24 Q967.47,16.21 987.95,17.75" fill="none" stroke="#a8a8a8" stroke-width="1.72" opacity="0.74"/>
<path d="M803.62,150.08 Q818.28,162.04 831.06,158.61" fill="none" stroke="#9a9a9a" stroke-width="1.5" opacity="0.76"/>
<path d="M840.76,108.9 Q843.25,100.26 851.66,87.1" fill="none" stroke="#9a9a9a" stroke-width="0.92" opacity="0.49"/>
<path d="M954.48,31.6 Q960.56,15.47 955.8,1.32" fill="none" stroke="#9a9a9a" stroke-width="1.79" opacity="0.88"/>
<path d="M875.42,163.01 Q869.89,151.35 868.06,132.81" fill="none" stroke="#cccccc" stroke-width="0.85" opacity="0.84"/>
<path d="M813.28,66.59 Q819.32,77.32 837.77,96.19" fill="none" stroke="#c0c0c0" stroke-width="0.74" opacity="0.64"/>
<path d="M880.61,133.13 Q895.18,125.7 902.93,122.31" fill="none" stroke="#c0c0c0" stroke-width="0.84" opacity="0.78"/>
<path d="M829.96,116.31 Q826.93,123.34 836,135.78" fill="none" stroke="#cccccc" stroke-width="1.74" opacity="0.76"/>
<path d="M898.67,116.87 Q876.23,124.43 866.47,124.65" fill="none" stroke="#c0c0c0" stroke-width="1.13" opacity="0.76"/>
<path d="M846.06,54.64 Q840.01,33.27 842.71,27.6" fill="none" stroke="#b4b4b4" stroke-width="1.19" opacity="0.77"/>
<path d="M893.86,122.35 Q882.95,114.38 857.3,108" fill="none" stroke="#c0c0c0" stroke-width="0.85" opacity="0.53"/>
<path d="M938.79,134.09 Q940.41,131.4 924.28,134.04" fill="none" stroke="#a8a8a8" stroke-width="1.42" opacity="0.6"/>
<path d="M826.37,185.66 Q820.71,173.76 829.53,151.63" fill="none" stroke="#a8a8a8" stroke-width="1.98" opacity="0.84"/>
<path d="M967.02,70.39 Q965.13,86.03 975.17,83.81" fill="none" stroke="#b4b4b4" stroke-width="1.6" opacity="0.61"/>
<path d="M1018.25,141.53 Q1017.79,154.57 1009.17,176.08" fill="none" stroke="#a8a8a8" stroke-width="1.17" opacity="0.53"/>
<path d="M1003.44,131.88 Q996.12,137.3 997.35,158" fill="none" stroke="#9a9a9a" stroke-width="1.07" opacity="0.57"/>
<path d="M912.21,171.02 Q928.17,188.11 931.37,201.25" fill="none" stroke="#cccccc" stroke-width="1.74" opacity="0.52"/>
<path d="M970.09,138.52 Q954.26,129.46 945.4,123.02" fill="none" stroke="#b4b4b4" stroke-width="1.55" opacity="0.69"/>
<path d="M905.44,135.38 Q903.3,138.05 896.12,148.98" fill="none" stroke="#b4b4b4" stroke-width="1.85" opacity="0.48"/>
<path d="M921.98,114.22 Q932.88,98.09 950.89,99.86" fill="none" stroke="#cccccc" stroke-width="1.95" opacity="0.54"/>
<path d="M878.18,72.19 Q893.33,80.61 902.55,101.96" fill="none" stroke="#c0c0c0" stroke-width="1.44" opacity="0.89"/>
<path d="M954.43,167.51 Q949.6,155.48 960,142.49" fill="none" stroke="#a8a8a8" stroke-width="0.81" opacity="0.76"/>
<path d="M937.01,180.8 Q935.26,170.8 946.5,171.85" fill="none" stroke="#c0c0c0" stroke-width="0.74" opacity="0.87"/>
<path d="M1005.65,21.92 Q1007.73,12.6 1019.92,11.47" fill="none" stroke="#a8a8a8" stroke-width="1.97" opacity="0.88"/>
<path d="M1012.08,168.14 Q1016.76,167.67 1021.81,163.93" fill="none" stroke="#cccccc" stroke-width="1.5" opacity="0.73"/>
<path d="M1013.98,21.42 Q986.3,12.09 975.48,16.74" fill="none" stroke="#b4b4b4" stroke-width="1.94" opacity="0.46"/>
<path d="M797.67,162.65 Q794.29,155.43 788.02,138.95" fill="none" stroke="#9a9a9a" stroke-width="0.7" opacity="0.48"/>
<path d="M980.6,190.33 Q983.2,177.94 991.72,171.08" fill="none" stroke="#9a9a9a" stroke-width="1.87" opacity="0.56"/>
<path d="M801.48,75.24 Q796.64,65.34 797.13,49.98" fill="none" stroke="#c0c0c0" stroke-width="0.93" opacity="0.52"/>
<path d="M850.82,96.01 Q848.21,89.02 855.02,76.47" fill="none" stroke="#b4b4b4" stroke-width="1.47" opacity="0.71"/>
<path d="M927.61,9.25 Q925.55,19.11 923.15,20.36" fill="none" stroke="#a8a8a8" stroke-width="1.58" opacity="0.81"/>
<path d="M919.62,19.93 Q915.27,9.75 921.09,2.66" fill="none" stroke="#a8a8a8" stroke-width="1.18" opacity="0.61"/>
<path d="M1008.64,193.19 Q1008.52,202.85 997.96,202.34" fill="none" stroke="#b4b4b4" stroke-width="1.99" opacity="0.54"/>
<path d="M1007.61,111.83 Q1021.8,117.16 1018.92,107.67" fill="none" stroke="#9a9a9a" stroke-width="1.35" opacity="0.62"/>
<path d="M805.63,178.76 Q817.45,193.39 815.66,191.44" fill="none" stroke="#b4b4b4" stroke-width="1.14" opacity="0.87"/>
<path d="M824.02,140.76 Q824.9,141.32 838.89,135.47" fill="none" stroke="#c0c0c0" stroke-width="1.18" opacity="0.78"/>
<path d="M1011.7,32.82 Q1029.35,21.66 1038.88,4.15" fill="none" stroke="#9a9a9a" stroke-width="1.1" opacity="0.53"/>
<path d="M819.47,105.11 Q811.1,102.21 793.3,98.34" fill="none" stroke="#9a9a9a" stroke-width="0.81" opacity="0.55"/>
<path d="M808.41,63.79 Q809.74,38.85 810.94,26.15" fill="none" stroke="#b4b4b4" stroke-width="1.53" opacity="0.5"/>
<path d="M906.07,174.7 Q906.64,168.59 889.31,162.89" fill="none" stroke="#9a9a9a" stroke-width="0.95" opacity="0.87"/>
<path d="M1024.7,9.64 Q1017.51,-7.4 1026.45,-12.3" fill="none" stroke="#a8a8a8" stroke-width="1.22" opacity="0.82"/>
<path d="M1020.69,9.61 Q1005.45,10.66 986.18,27.44" fill="none" stroke="#9a9a9a" stroke-width="0.94" opacity="0.46"/>
<path d="M863.03,12.89 Q859.73,26.66 861.14,41.39" fill="none" stroke="#cccccc" stroke-width="1.67" opacity="0.52"/>
<path d="M824.48,115.07 Q817.34,103.26 807.06,100.22" fill="none" stroke="#c0c0c0" stroke-width="1" opacity="0.87"/>
<path d="M994.71,172.58 Q1010.03,179.55 1007.9,194.13" fill="none" stroke="#a8a8a8" stroke-width="1.91" opacity="0.59"/>
<path d="M923.19,81.7 Q922.69,74.46 917.2,62.41" fill="none" stroke="#9a9a9a" stroke-width="1.15" opacity="0.7"/>
<path d="M909.33,180.29 Q889.72,179.27 888.05,178.38" fill="none" stroke="#b4b4b4" stroke-width="1.35" opacity="0.83"/>
<path d="M926.48,15.71 Q912.42,22.5 914.14,42.15" fill="none" stroke="#9a9a9a" stroke-width="1.06" opacity="0.65"/>
<path d="M810.31,156.99 Q817.37,169.92 813.71,191.69" fill="none" stroke="#cccccc" stroke-width="0.83" opacity="0.61"/>
<path d="M803.96,18.77 Q805.26,16.13 813.19,7.52" fill="none" stroke="#cccccc" stroke-width="1.15" opacity="0.54"/>
<path d="M841.64,163.49 Q855.64,148.24 854.62,126.33" fill="none" stroke="#b4b4b4" stroke-width="1.75" opacity="0.81"/>
<path d="M832.29,159.8 Q837,159.39 826.6,176.16" fill="none" stroke="#cccccc" stroke-width="1.56" opacity="0.66"/>
<path d="M944.58,133.33 Q935.73,153.14 913.71,155.81" fill="none" stroke="#a8a8a8" stroke-width="0.84" opacity="0.89"/>
<path d="M999.12,64.02 Q1009.81,86.93 1011.2,92.38" fill="none" stroke="#cccccc" stroke-width="1.54" opacity="0.79"/>
<path d="M950.59,87.88 Q946,84.91 932.34,99.86" fill="none" stroke="#b4b4b4" stroke-width="1.93" opacity="0.74"/>
<path d="M908.06,78.05 Q898.73,87.63 901.6,86.56" fill="none" stroke="#a8a8a8" stroke-width="1" opacity="0.73"/>
<path d="M818.25,34.13 Q810.78,30.63 796.44,44.17" fill="none" stroke="#b4b4b4" stroke-width="1.59" opacity="0.87"/>
<path d="M869.34,181.15 Q885.43,178.36 885.24,171.27" fill="none" stroke="#c0c0c0" stroke-width="1.71" opacity="0.6"/>
<path d="M857.03,104.28 Q858.04,105.34 846,105.13" fill="none" stroke="#c0c0c0" stroke-width="1.68" opacity="0.69"/>
<path d="M859.19,182.23 Q849.79,188.01 844.05,199.57" fill="none" stroke="#b4b4b4" stroke-width="1.08" opacity="0.84"/>
<path d="M995.6,105.99 Q1004.87,131.84 1003.7,142.71" fill="none" stroke="#9a9a9a" stroke-width="0.86" opacity="0.64"/>
<path d="M954.55,149.86 Q948.69,152.15 927.05,139.94" fill="none" stroke="#b4b4b4" stroke-width="1.46" opacity="0.64"/>
<path d="M792.94,21.58 Q803.23,33.91 809.38,57.62" fill="none" stroke="#b4b4b4" stroke-width="1.72" opacity="0.71"/>
<path d="M1014.37,55.95 Q1008.06,42.67 1017.67,45.2" fill="none" stroke="#9a9a9a" stroke-width="1.94" opacity="0.54"/>
<path d="M850.63,176.88 Q845.22,177.38 841.07,173.74" fill="none" stroke="#a8a8a8" stroke-width="1.99" opacity="0.67"/>
<path d="M978.33,51.51 Q988.28,41.98 985.15,35.72" fill="none" stroke="#9a9a9a" stroke-width="1.62" opacity="0.51"/>
<path d="M803.14,95 Q807.24,95.07 815.26,96.28" fill="none" stroke="#9a9a9a" stroke-width="0.97" opacity="0.56"/>
<path d="M967.96,192.47 Q983.7,176.05 994.47,165.54" fill="none" stroke="#9a9a9a" stroke-width="0.99" opacity="0.84"/>
<path d="M912.12,82.98 Q893.02,99.09 882.66,104.72" fill="none" stroke="#b4b4b4" stroke-width="1.28" opacity="0.61"/>
<path d="M894.84,91.08 Q887.5,100.7 883.35,117.39" fill="none" stroke="#9a9a9a" stroke-width="1.29" opacity="0.66"/>
<path d="M1001.09,91.39 Q996.53,109.51 974.81,117.34" fill="none" stroke="#c0c0c0" stroke-width="1.85" opacity="0.48"/>
<path d="M844.43,48.46 Q842.29,39.14 822.27,31.45" fill="none" stroke="#a8a8a8" stroke-width="1.55" opacity="0.55"/>
<path d="M974.89,107.44 Q988.74,97.47 994.98,104.9" fill="none" stroke="#c0c0c0" stroke-width="1.15" opacity="0.64"/>
<path d="M811.68,77.16 Q826.11,74.44 824.13,62.82" fill="none" stroke="#c0c0c0" stroke-width="0.78" opacity="0.71"/>
<path d="M987.11,164.09 Q980.18,177.55 965.62,181.59" fill="none" stroke="#b4b4b4" stroke-width="1.45" opacity="0.56"/>
<path d="M959.25,111.65 Q933.67,111.25 921.16,100.76" fill="none" stroke="#b4b4b4" stroke-width="1.75" opacity="0.68"/>
<path d="M795.16,148.8 Q781.38,172.49 773.83,180.97" fill="none" stroke="#c0c0c0" stroke-width="1.56" opacity="0.58"/>
<path d="M983.45,84.8 Q991.35,96.48 1000.69,107.09" fill="none" stroke="#c0c0c0" stroke-width="1.44" opacity="0.88"/>
<path d="M874.63,149.19 Q886.55,156.95 891.55,157.86" fill="none" stroke="#a8a8a8" stroke-width="1.19" opacity="0.57"/>
<path d="M876.02,107.09 Q889.35,102.37 897.01,110.3" fill="none" stroke="#b4b4b4" stroke-width="1.51" opacity="0.83"/>
<path d="M936.71,44.26 Q957.6,38.71 973.56,50.2" fill="none" stroke="#a8a8a8" stroke-width="1.04" opacity="0.67"/>
<path d="M956.89,10.34 Q959.2,-2.24 971.9,-22.15" fill="none" stroke="#b4b4b4" stroke-width="1.14" opacity="0.85"/>
<path d="M842.42,95.04 Q843.51,107.01 833.35,116.46" fill="none" stroke="#cccccc" stroke-width="1.36" opacity="0.61"/>
<path d="M921.71,119.37 Q923.08,137.89 909.27,146.04" fill="none" stroke="#c0c0c0" stroke-width="0.93" opacity="0.53"/>
<path d="M932.24,150.12 Q915.63,157.35 904.5,154.85" fill="none" stroke="#b4b4b4" stroke-width="1.83" opacity="0.55"/>
<path d="M877.43,48.46 Q879.83,35 875.19,37.27" fill="none" stroke="#cccccc" stroke-width="1.92" opacity="0.46"/>
<path d="M867.77,117.77 Q869.28,103.38 869.59,93.08" fill="none" stroke="#9a9a9a" stroke-width="1.24" opacity="0.86"/>
<path d="M937.5,110.21 Q947.73,104.15 951.53,114.17" fill="none" stroke="#b4b4b4" stroke-width="0.99" opacity="0.46"/>
<path d="M849.92,5.66 Q849.62,-1.15 866.77,-3.08" fill="none" stroke="#c0c0c0" stroke-width="1.47" opacity="0.57"/>
<path d="M817.11,165.74 Q801.29,175.16 792.24,170.64" fill="none" stroke="#cccccc" stroke-width="1.74" opacity="0.65"/>
<path d="M962.31,51.39 Q962.34,40.86 970.81,32.34" fill="none" stroke="#cccccc" stroke-width="1.39" opacity="0.8"/>
<path d="M1004.22,47.55 Q1005.22,54.21 1023.07,50.2" fill="none" stroke="#cccccc" stroke-width="1.29" opacity="0.68"/>
<path d="M878.2,180.34 Q864.7,184.15 855.83,171.98" fill="none" stroke="#9a9a9a" stroke-width="1.22" opacity="0.7"/>
<path d="M1001.31,193.36 Q1008.85,180.07 1031.71,175.89" fill="none" stroke="#b4b4b4" stroke-width="1.41" opacity="0.68"/>
<path d="M864.36,168.77 Q836.98,175.56 824.87,164.59" fill="none" stroke="#9a9a9a" stroke-width="1.83" opacity="0.81"/>
<path d="M961.57,147.65 Q949.92,155.71 924.01,160.47" fill="none" stroke="#cccccc" stroke-width="1.47" opacity="0.71"/>
<path d="M831.57,93.16 Q838.72,83.35 856.06,75.45" fill="none" stroke="#cccccc" stroke-width="1.76" opacity="0.9"/>
<path d="M1011.2,121.78 Q1034.62,124.87 1042.76,124.22" fill="none" stroke="#a8a8a8" stroke-width="1.69" opacity="0.6"/>
<path d="M1019.87,111.16 Q1027.3,125.47 1043.28,128.47" fill="none" stroke="#a8a8a8" stroke-width="1.69" opacity="0.48"/>
<path d="M798.21,156.6 Q794.85,156.74 808.41,169" fill="none" stroke="#c0c0c0" stroke-width="1.54" opacity="0.89"/>
<path d="M983.2,176.24 Q975.78,157.58 982.21,156.67" fill="none" stroke="#9a9a9a" stroke-width="1.83" opacity="0.59"/>
<path d="M1000.95,129.74 Q988.22,142.07 978.54,148.83" fill="none" stroke="#9a9a9a" stroke-width="1.01" opacity="0.58"/>
<path d="M1010.2,133.15 Q1012.61,132.5 1024.48,139.42" fill="none" stroke="#9a9a9a" stroke-width="1.97" opacity="0.75"/>
<path d="M940.69,77.79 Q930.22,65.51 935.64,53.51" fill="none" stroke="#c0c0c0" stroke-width="0.86" opacity="0.56"/>
<path d="M818.06,73.36 Q805.72,72.87 797.37,56.44" fill="none" stroke="#cccccc" stroke-width="0.93" opacity="0.68"/>
<path d="M909.93,150.51 Q896.47,151.14 894.18,143.68" fill="none" stroke="#9a9a9a" stroke-width="1.41" opacity="0.88"/>
<path d="M821.21,77.87 Q820.75,83.21 824.76,100.67" fill="none" stroke="#b4b4b4" stroke-width="1.64" opacity="0.47"/>
<path d="M988.07,33.07 Q982.49,44.59 993.89,42.55" fill="none" stroke="#c0c0c0" stroke-width="0.89" opacity="0.77"/>
<path d="M823.29,70.02 Q841.97,63.93 857.31,67.56" fill="none" stroke="#a8a8a8" stroke-width="0.95" opacity="0.5"/>
<path d="M838.13,126.67 Q842.48,130.98 845.54,139.78" fill="none" stroke="#a8a8a8" stroke-width="1.19" opacity="0.79"/>
<path d="M813.13,6.06 Q797.65,30.12 799.14,43.14" fill="none" stroke="#9a9a9a" stroke-width="1.25" opacity="0.8"/>
<path d="M994.42,60.04 Q984.96,80.03 987.72,89.22" fill="none" stroke="#b4b4b4" stroke-width="1.9" opacity="0.5"/>
<path d="M946.74,55.12 Q953.16,56.2 941.7,71.71" fill="none" stroke="#a8a8a8" stroke-width="1.52" opacity="0.84"/>
<path d="M872.02,52.83 Q864.12,53.73 859.28,48.01" fill="none" stroke="#cccccc" stroke-width="1.49" opacity="0.88"/>
<path d="M1005.5,114.65 Q1027.01,104.71 1036.3,89.16" fill="none" stroke="#cccccc" stroke-width="0.89" opacity="0.63"/>
<path d="M925.38,30.01 Q928.84,20.22 927.66,18.36" fill="none" stroke="#b4b4b4" stroke-width="1.94" opacity="0.63"/>
<path d="M854.3,131.9 Q852.21,127.86 861.39,123.61" fill="none" stroke="#cccccc" stroke-width="0.95" opacity="0.83"/>
<path d="M837.69,110.78 Q826.03,106.06 832.34,119.27" fill="none" stroke="#b4b4b4" stroke-width="1.53" opacity="0.66"/>
<path d="M911.7,10.14 Q900.06,12.21 877.57,25.87" fill="none" stroke="#c0c0c0" stroke-width="1.81" opacity="0.87"/>
<path d="M891.03,65.37 Q887.63,70.52 875.53,77.01" fill="none" stroke="#cccccc" stroke-width="0.9" opacity="0.8"/>
<path d="M1022.02,43.57 Q1008.13,37.05 1010.97,33.63" fill="none" stroke="#a8a8a8" stroke-width="1.41" opacity="0.54"/>
<path d="M951.59,73.16 Q953,58.29 938.81,56.41" fill="none" stroke="#b4b4b4" stroke-width="1.59" opacity="0.7"/>
<path d="M995.48,75.71 Q998.03,80.37 1017.67,94.77" fill="none" stroke="#9a9a9a" stroke-width="1.46" opacity="0.83"/>
<path d="M828.46,71.16 Q847.87,87.27 854.31,88.3" fill="none" stroke="#b4b4b4" stroke-width="1.57" opacity="0.78"/>
<path d="M1002.16,110.28 Q989.74,109.98 970.93,92.58" fill="none" stroke="#b4b4b4" stroke-width="1.28" opacity="0.58"/>
<path d="M891.79,45.16 Q874.88,58.94 858.61,57.96" fill="none" stroke="#a8a8a8" stroke-width="1.36" opacity="0.48"/>
<path d="M821.57,120.32 Q818.62,98.47 805.12,84.17" fill="none" stroke="#c0c0c0" stroke-width="1.49" opacity="0.64"/>
<path d="M857.08,187.56 Q852.89,176.54 842.14,152.74" fill="none" stroke="#9a9a9a" stroke-width="2" opacity="0.47"/>
<path d="M885.91,20.09 Q876.42,12.18 879.56,7.04" fill="none" stroke="#cccccc" stroke-width="1" opacity="0.52"/>
<path d="M945.93,64.05 Q936.13,67.57 918.1,88.97" fill="none" stroke="#a8a8a8" stroke-width="1.33" opacity="0.51"/>
<path d="M822.65,174.18 Q825.77,163.06 822.58,162.24" fill="none" stroke="#c0c0c0" stroke-width="0.94" opacity="0.89"/>
<path d="M857.51,14.24 Q846.7,4.27 851.18,-7.61" fill="none" stroke="#b4b4b4" stroke-width="1.31" opacity="0.86"/>
<path d="M979.76,44.23 Q992.72,44.59 1006.74,52.1" fill="none" stroke="#c0c0c0" stroke-width="0.97" opacity="0.74"/>
<path d="M807.64,180.48 Q817.95,179.99 834.72,171.45" fill="none" stroke="#9a9a9a" stroke-width="1.76" opacity="0.56"/>
<path d="M992.61,102.84 Q977.83,100.48 974.89,97.51" fill="none" stroke="#a8a8a8" stroke-width="1.47" opacity="0.57"/>
<path d="M848.19,133.14 Q856.15,111.27 874.05,105.14" fill="none" stroke="#cccccc" stroke-width="0.82" opacity="0.53"/>
<path d="M988.33,99.3 Q979.53,85.21 975.44,82.8" fill="none" stroke="#cccccc" stroke-width="1.49" opacity="0.51"/>
<path d="M958.64,118.6 Q948.06,114.57 933.58,96.99" fill="none" stroke="#c0c0c0" stroke-width="1.23" opacity="0.74"/>
<path d="M879.85,83.01 Q867.39,91.31 860.23,104.94" fill="none" stroke="#b4b4b4" stroke-width="1.74" opacity="0.75"/>
<path d="M992.47,78.35 Q983.67,64.32 981.52,64.65" fill="none" stroke="#a8a8a8" stroke-width="1.9" opacity="0.59"/>
<path d="M880.8,27.24 Q896.99,31.1 899.06,49.95" fill="none" stroke="#b4b4b4" stroke-width="1.71" opacity="0.67"/>
<path d="M812.66,17.8 Q812.1,7.41 800.72,-18.56" fill="none" stroke="#b4b4b4" stroke-width="1.1" opacity="0.67"/>
<path d="M840.27,113.24 Q833.72,99.54 844.75,88.75" fill="none" stroke="#9a9a9a" stroke-width="1.73" opacity="0.72"/>
<path d="M793.63,91.13 Q777.29,84.01 777.69,79.75" fill="none" stroke="#b4b4b4" stroke-width="1.04" opacity="0.51"/>
<path d="M939.31,148.81 Q933.7,144.87 933.79,136.27" fill="none" stroke="#a8a8a8" stroke-width="1.42" opacity="0.49"/>
<path d="M812.22,83.01 Q824.66,106.69 834.3,116.07" fill="none" stroke="#9a9a9a" stroke-width="1.69" opacity="0.74"/>
<path d="M903.52,152.77 Q900.48,144.77 896.36,139.88" fill="none" stroke="#cccccc" stroke-width="1.67" opacity="0.85"/>
<path d="M935.92,161.08 Q942.75,153.87 938.12,137.83" fill="none" stroke="#a8a8a8" stroke-width="1.95" opacity="0.8"/>
<path d="M817.33,31.63 Q826.28,45.49 830.6,55.39" fill="none" stroke="#9a9a9a" stroke-width="1.8" opacity="0.81"/>
<path d="M790.27,109.06 Q797.75,114.96 820.72,129.23" fill="none" stroke="#cccccc" stroke-width="1.69" opacity="0.53"/>
<path d="M868.82,129.31 Q855.83,131.16 858.7,134.23" fill="none" stroke="#cccccc" stroke-width="0.88" opacity="0.54"/>
<path d="M917.9,115.52 Q943.74,113.73 957.5,116.26" fill="none" stroke="#a8a8a8" stroke-width="1.32" opacity="0.75"/>
<path d="M895.63,138.56 Q905.82,132.27 912.91,120.73" fill="none" stroke="#b4b4b4" stroke-width="0.91" opacity="0.55"/>
<path d="M1006.01,177.88 Q996.54,174.36 992.38,180.15" fill="none" stroke="#cccccc" stroke-width="1.71" opacity="0.65"/>
<path d="M899.65,93.9 Q894.87,106.31 883.43,111.12" fill="none" stroke="#b4b4b4" stroke-width="1.96" opacity="0.76"/>
<path d="M826.98,104.9 Q810.39,104.76 792.01,90.39" fill="none" stroke="#a8a8a8" stroke-width="1.79" opacity="0.46"/>
<path d="M866.02,75.05 Q865,87.7 860.73,88.14" fill="none" stroke="#c0c0c0" stroke-width="1.14" opacity="0.53"/>
<path d="M871.89,89.37 Q878.39,89.58 873.46,73.86" fill="none" stroke="#a8a8a8" stroke-width="0.95" opacity="0.59"/>
<path d="M974.53,145 Q968.08,155.62 966.85,167.27" fill="none" stroke="#b4b4b4" stroke-width="1.91" opacity="0.48"/>
<path d="M861.5,70.21 Q861.53,65.9 848.88,67.74" fill="none" stroke="#a8a8a8" stroke-width="0.86" opacity="0.59"/>
<path d="M896.11,164.45 Q899.88,163.72 889.32,149.83" fill="none" stroke="#cccccc" stroke-width="0.74" opacity="0.58"/>
<path d="M1009.01,158.25 Q1010.48,160.39 999.12,165.57" fill="none" stroke="#c0c0c0" stroke-width="1.02" opacity="0.78"/>
<path d="M871.71,48.22 Q875.45,51.27 882.34,52.66" fill="none" stroke="#c0c0c0" stroke-width="1.9" opacity="0.69"/>
<path d="M878.59,91.65 Q897.09,88.18 904.93,99.37" fill="none" stroke="#cccccc" stroke-width="0.77" opacity="0.58"/>
<path d="M861.52,26.83 Q864.87,35.91 885.52,31.34" fill="none" stroke="#b4b4b4" stroke-width="0.71" opacity="0.69"/>
<path d="M829.01,84.64 Q817.49,87.52 800.43,104.9" fill="none" stroke="#c0c0c0" stroke-width="1.68" opacity="0.68"/>
<path d="M980.16,163.78 Q995.77,153.26 1005.13,144.13" fill="none" stroke="#cccccc" stroke-width="1.87" opacity="0.83"/>
<path d="M913.81,192.84 Q935.09,185.23 944.63,176.27" fill="none" stroke="#cccccc" stroke-width="1.88" opacity="0.47"/>
<path d="M904.02,76.32 Q912.23,67.54 918.18,71.56" fill="none" stroke="#c0c0c0" stroke-width="0.85" opacity="0.74"/>
<path d="M986.71,86.97 Q975.83,106.67 969.33,119.44" fill="none" stroke="#b4b4b4" stroke-width="1.95" opacity="0.63"/>
<path d="M900.79,181.78 Q880.01,172.55 874.45,165.4" fill="none" stroke="#a8a8a8" stroke-width="1.14" opacity="0.5"/>
<path d="M1002.48,182.58 Q1006.71,193.89 1019.1,199.01" fill="none" stroke="#9a9a9a" stroke-width="0.94" opacity="0.62"/>
<path d="M913.61,104.71 Q911.43,116.13 926.57,119.07" fill="none" stroke="#cccccc" stroke-width="1" opacity="0.56"/>
<path d="M900.34,127.23 Q901.15,117.51 884.26,114.54" fill="none" stroke="#9a9a9a" stroke-width="0.87" opacity="0.87"/>
<path d="M1027.68,185.8 Q1034.44,173.8 1055.61,175.54" fill="none" stroke="#9a9a9a" stroke-width="1.87" opacity="0.57"/>
<path d="M814.57,188.7 Q829.58,190.34 845.56,183.08" fill="none" stroke="#cccccc" stroke-width="1.69" opacity="0.88"/>
<path d="M934.62,138.08 Q929.9,139.16 933.9,124.01" fill="none" stroke="#a8a8a8" stroke-width="0.99" opacity="0.88"/>
<path d="M1018.01,180.8 Q1033.4,167.1 1037.23,151" fill="none" stroke="#9a9a9a" stroke-width="1.85" opacity="0.87"/>
<path d="M968.57,16.2 Q963.17,15.93 948.71,31.96" fill="none" stroke="#cccccc" stroke-width="1.99" opacity="0.65"/>
<path d="M952.12,131.37 Q950.99,113.73 944.84,111.64" fill="none" stroke="#c0c0c0" stroke-width="1.64" opacity="0.81"/>
<path d="M900.94,43.97 Q887.31,41.52 871.94,53.16" fill="none" stroke="#9a9a9a" stroke-width="1.98" opacity="0.86"/>
<path d="M990.49,31.07 Q1009.09,21.05 1024.42,24.22" fill="none" stroke="#9a9a9a" stroke-width="1.57" opacity="0.77"/>
<path d="M831.65,63.26 Q836.99,66.11 837.32,74.4" fill="none" stroke="#9a9a9a" stroke-width="1.8" opacity="0.7"/>
<path d="M802.62,93.7 Q804.13,100.09 790.46,94.86" fill="none" stroke="#c0c0c0" stroke-width="1.3" opacity="0.46"/>
<path d="M937.44,126.31 Q944.23,106.64 955.94,104.8" fill="none" stroke="#b4b4b4" stroke-width="1.51" opacity="0.89"/>
<path d="M932.42,167.02 Q934.52,154.5 937.97,127.68" fill="none" stroke="#c0c0c0" stroke-width="1.62" opacity="0.7"/>
<path d="M1010.2,16.51 Q993.54,19.13 992.55,8.23" fill="none" stroke="#cccccc" stroke-width="1.1" opacity="0.63"/>
<path d="M819.84,118.62 Q801.88,135.14 789.69,134.47" fill="none" stroke="#a8a8a8" stroke-width="1.45" opacity="0.59"/>
<path d="M867.87,104.46 Q851.7,118.51 841.34,119.8" fill="none" stroke="#cccccc" stroke-width="1.05" opacity="0.69"/>
<path d="M805.7,71.38 Q806.85,91.82 798.27,105.04" fill="none" stroke="#cccccc" stroke-width="0.87" opacity="0.59"/>
<path d="M880.59,70.86 Q886.63,77.94 880.77,83.76" fill="none" stroke="#cccccc" stroke-width="0.91" opacity="0.71"/>
<path d="M939.83,119.89 Q952.98,130.33 965.76,149.09" fill="none" stroke="#c0c0c0" stroke-width="1.2" opacity="0.48"/>
<path d="M950.59,54.34 Q954.42,60.45 954.39,73.04" fill="none" stroke="#cccccc" stroke-width="1.99" opacity="0.85"/>
<path d="M1011.15,53.1 Q1015.47,39.79 1016.84,41.76" fill="none" stroke="#9a9a9a" stroke-width="1.37" opacity="0.76"/>
<path d="M843.7,142.16 Q822.09,139.54 813.76,124.5" fill="none" stroke="#c0c0c0" stroke-width="1.81" opacity="0.67"/>
<path d="M897.69,56.07 Q894.12,60.97 891.72,47.89" fill="none" stroke="#b4b4b4" stroke-width="1.64" opacity="0.77"/>
<path d="M869.02,151.6 Q859.63,142.24 849.31,140.95" fill="none" stroke="#b4b4b4" stroke-width="1.59" opacity="0.58"/>
<path d="M810.55,80.19 Q808.62,90.86 821.07,116.26" fill="none" stroke="#cccccc" stroke-width="1.33" opacity="0.66"/>
<path d="M1007.51,139.12 Q1010.97,144.37 996.57,157.85" fill="none" stroke="#9a9a9a" stroke-width="0.99" opacity="0.52"/>
<path d="M796.86,98.81 Q795.76,100.53 778.42,108.95" fill="none" stroke="#a8a8a8" stroke-width="1.39" opacity="0.5"/>
<path d="M797.1,120.78 Q804.79,111.87 805.21,112.6" fill="none" stroke="#a8a8a8" stroke-width="1.02" opacity="0.52"/>
<path d="M1022.12,178.98 Q1025.67,170.55 1045.37,166.84" fill="none" stroke="#a8a8a8" stroke-width="0.79" opacity="0.58"/>
<path d="M800.15,172.27 Q793.78,171.9 792.59,182.19" fill="none" stroke="#c0c0c0" stroke-width="1.01" opacity="0.83"/>
<path d="M844.11,73.26 Q834.84,84.13 839.99,86.39" fill="none" stroke="#c0c0c0" stroke-width="1.77" opacity="0.56"/>
<path d="M884.38,155.56 Q898.35,159.73 910.99,156.17" fill="none" stroke="#a8a8a8" stroke-width="1.6" opacity="0.55"/>
<path d="M837.77,96.54 Q827.78,113.07 832.56,122.62" fill="none" stroke="#c0c0c0" stroke-width="1.82" opacity="0.69"/>
<path d="M802.36,124.92 Q795.66,123.84 771.62,132.26" fill="none" stroke="#9a9a9a" stroke-width="1.64" opacity="0.87"/>
<path d="M840.07,5.8 Q849.91,12.17 848.83,14.72" fill="none" stroke="#c0c0c0" stroke-width="1.24" opacity="0.88"/>
<path d="M793.46,58.85 Q809.5,69.18 810.92,61.52" fill="none" stroke="#cccccc" stroke-width="0.88" opacity="0.59"/>
<path d="M824.54,98.33 Q845.54,107.07 860,104.71" fill="none" stroke="#c0c0c0" stroke-width="1.85" opacity="0.53"/>
<path d="M908.29,143.65 Q907.7,134.16 917.85,126.64" fill="none" stroke="#c0c0c0" stroke-width="1.32" opacity="0.89"/>
<path d="M859.49,86.91 Q877.16,79.26 885.59,57.84" fill="none" stroke="#b4b4b4" stroke-width="1.09" opacity="0.7"/>
<path d="M1027.07,173.77 Q1015.13,168.31 1001.21,161.58" fill="none" stroke="#b4b4b4" stroke-width="1.3" opacity="0.49"/>
<path d="M890.18,160.39 Q888.23,141.57 887.81,124.87" fill="none" stroke="#9a9a9a" stroke-width="1.93" opacity="0.51"/>
<path d="M939.18,161.43 Q925.9,147.29 925.67,132.84" fill="none" stroke="#c0c0c0" stroke-width="0.84" opacity="0.5"/>
<path d="M808.53,18.95 Q800,31.58 779.9,29.21" fill="none" stroke="#cccccc" stroke-width="1.46" opacity="0.74"/>
<path d="M941.8,14.13 Q951.56,33.02 948.93,35.94" fill="none" stroke="#cccccc" stroke-width="0.79" opacity="0.52"/>
<path d="M842.19,70.5 Q848.76,54.82 856.43,49.51" fill="none" stroke="#c0c0c0" stroke-width="0.74" opacity="0.81"/>
<path d="M999.09,34.22 Q1008.11,37.59 1026.25,36.85" fill="none" stroke="#cccccc" stroke-width="1.06" opacity="0.72"/>
<path d="M859.49,149.32 Q861.78,174.39 857.64,185.35" fill="none" stroke="#b4b4b4" stroke-width="0.92" opacity="0.7"/>
<path d="M796.33,156.4 Q816.78,161.6 827.47,163.84" fill="none" stroke="#a8a8a8" stroke-width="1.01" opacity="0.5"/>
<path d="M976.4,31.98 Q974.22,30.67 976.95,13.8" fill="none" stroke="#a8a8a8" stroke-width="1.48" opacity="0.87"/>
<path d="M939.4,115.61 Q935.87,120.62 929.83,134.73" fill="none" stroke="#c0c0c0" stroke-width="1.82" opacity="0.77"/>
<path d="M844.02,10.27 Q842.54,19.66 828.59,27.35" fill="none" stroke="#cccccc" stroke-width="1.86" opacity="0.82"/>
<path d="M798.46,37.65 Q797.9,25.43 804.8,10.5" fill="none" stroke="#b4b4b4" stroke-width="1.85" opacity="0.88"/>
<path d="M860.37,114.2 Q842.84,118.04 836.9,111.48" fill="none" stroke="#9a9a9a" stroke-width="1.6" opacity="0.76"/>
<path d="M988.27,6.42 Q988.09,1.43 980.13,-6.62" fill="none" stroke="#cccccc" stroke-width="1.73" opacity="0.8"/>
<path d="M903.08,31.75 Q890.68,27.18 877.35,30.67" fill="none" stroke="#9a9a9a" stroke-width="1.46" opacity="0.89"/>
<path d="M937.91,109.28 Q936.68,98.8 940.03,90.75" fill="none" stroke="#cccccc" stroke-width="0.94" opacity="0.88"/>
<path d="M1025.7,99.14 Q1037.94,91.3 1054.33,98.33" fill="none" stroke="#9a9a9a" stroke-width="1.11" opacity="0.79"/>
<path d="M994.5,48.66 Q996.29,34.96 998.58,9.09" fill="none" stroke="#cccccc" stroke-width="1.17" opacity="0.83"/>
<path d="M854.49,168.43 Q848.64,170.81 843.52,165" fill="none" stroke="#a8a8a8" stroke-width="1.21" opacity="0.73"/>
<path d="M861.54,10.18 Q865.58,25.5 881.06,38.42" fill="none" stroke="#a8a8a8" stroke-width="2" opacity="0.49"/>
<path d="M996.15,6.13 Q1013.66,5.98 1033.03,0.88" fill="none" stroke="#c0c0c0" stroke-width="1.96" opacity="0.83"/>
<path d="M878.65,59.33 Q890.46,51.2 884.89,31.63" fill="none" stroke="#9a9a9a" stroke-width="1.73" opacity="0.72"/>
<path d="M867.61,186.39 Q861.09,187.72 852.86,175.83" fill="none" stroke="#9a9a9a" stroke-width="1.9" opacity="0.56"/>
<path d="M872.66,98.81 Q860.2,98.96 857.43,104.5" fill="none" stroke="#b4b4b4" stroke-width="1.31" opacity="0.74"/>
<path d="M942.47,182.33 Q952.09,198.86 955.16,207.93" fill="none" stroke="#b4b4b4" stroke-width="1.03" opacity="0.77"/>
<path d="M894.82,134.91 Q889.91,159.47 893.48,170.7" fill="none" stroke="#c0c0c0" stroke-width="1.21" opacity="0.64"/>
<path d="M824.62,178.73 Q810.54,176.62 809,185.51" fill="none" stroke="#b4b4b4" stroke-width="1.98" opacity="0.46"/>
<path d="M802.66,160.51 Q795.95,165.79 800.92,171.25" fill="none" stroke="#c0c0c0" stroke-width="0.73" opacity="0.52"/>
<path d="M793.05,15.17 Q796.57,29.18 783.21,37.85" fill="none" stroke="#a8a8a8" stroke-width="1.47" opacity="0.86"/>
<path d="M951.58,50.59 Q936.08,67 934.63,68.13" fill="none" stroke="#c0c0c0" stroke-width="0.99" opacity="0.52"/>
<path d="M970.67,97.38 Q973.37,95.2 971.98,109.05" fill="none" stroke="#b4b4b4" stroke-width="1.36" opacity="0.76"/>
<path d="M844.56,135.86 Q839.54,124.5 816.68,119.13" fill="none" stroke="#c0c0c0" stroke-width="1.29" opacity="0.68"/>
<path d="M832.63,21.13 Q820.26,8.47 824.63,10.77" fill="none" stroke="#cccccc" stroke-width="0.74" opacity="0.85"/>
<path d="M980.79,116.9 Q981.72,128.41 969.58,137.97" fill="none" stroke="#a8a8a8" stroke-width="1.28" opacity="0.69"/>
<path d="M958.65,164.26 Q965.63,148.62 962.53,147.24" fill="none" stroke="#a8a8a8" stroke-width="0.81" opacity="0.55"/>
<path d="M939.79,53.07 Q957.91,57.78 960.89,54.09" fill="none" stroke="#c0c0c0" stroke-width="1.04" opacity="0.45"/>
<path d="M1025.89,55.12 Q1009.03,62.76 998.44,73.74" fill="none" stroke="#9a9a9a" stroke-width="1.38" opacity="0.61"/>
<path d="M883.91,151.83 Q896.34,145.99 908.34,152.85" fill="none" stroke="#cccccc" stroke-width="1.03" opacity="0.63"/>
<path d="M849.48,118.51 Q834.3,130.04 821.81,131.37" fill="none" stroke="#cccccc" stroke-width="1.63" opacity="0.67"/>
<path d="M935.12,148.54 Q914.96,151.94 909.97,160.55" fill="none" stroke="#cccccc" stroke-width="1.52" opacity="0.5"/>
<path d="M843.18,29.21 Q869.92,29.72 879.95,34.99" fill="none" stroke="#9a9a9a" stroke-width="1.69" opacity="0.67"/>
<path d="M831,109.17 Q810.82,111.56 807.93,113.8" fill="none" stroke="#a8a8a8" stroke-width="1.31" opacity="0.46"/>
<path d="M926.74,40.2 Q923.31,35.22 910.19,37.89" fill="none" stroke="#cccccc" stroke-width="1.34" opacity="0.64"/>
<path d="M942.63,114.95 Q936.75,114.14 919.01,118.15" fill="none" stroke="#a8a8a8" stroke-width="1.98" opacity="0.82"/>
<path d="M975.31,136.1 Q959.91,136.19 958.82,130.48" fill="none" stroke="#a8a8a8" stroke-width="1.53" opacity="0.52"/>
<path d="M894.75,72.11 Q908.14,58.8 907.06,63.24" fill="none" stroke="#a8a8a8" stroke-width="1.11" opacity="0.59"/>
<path d="M897.47,86.55 Q891.28,80.04 875.46,62.4" fill="none" stroke="#cccccc" stroke-width="1.96" opacity="0.65"/>
<path d="M897.2,128.77 Q888.91,145.85 883.58,160.88" fill="none" stroke="#cccccc" stroke-width="1.26" opacity="0.58"/>
<path d="M984.38,128.97 Q960.44,133.87 951.79,120.89" fill="none" stroke="#9a9a9a" stroke-width="1.73" opacity="0.58"/>
<path d="M794.61,172.3 Q811.12,179.37 811.83,180.19" fill="none" stroke="#cccccc" stroke-width="1.78" opacity="0.53"/>
<path d="M911.07,22.95 Q907.77,27.74 893.05,40.11" fill="none" stroke="#a8a8a8" stroke-width="1.29" opacity="0.8"/>
<path d="M1026.17,119.34 Q1018.18,105.63 1010.94,96.27" fill="none" stroke="#9a9a9a" stroke-width="1.44" opacity="0.84"/>
<path d="M833.14,60.51 Q828.07,59.29 806.61,51.62" fill="none" stroke="#9a9a9a" stroke-width="1.99" opacity="0.6"/>
<path d="M845.06,170.11 Q839.84,165.13 831.09,168.53" fill="none" stroke="#cccccc" stroke-width="1.31" opacity="0.66"/>
<path d="M874.47,115.33 Q872.81,113.91 884.88,129.51" fill="none" stroke="#cccccc" stroke-width="1.29" opacity="0.77"/>
<path d="M986.99,31.62 Q983.25,47.46 973,45.64" fill="none" stroke="#a8a8a8" stroke-width="0.95" opacity="0.64"/>
<path d="M886.45,21.93 Q891.44,23.4 901.16,34.02" fill="none" stroke="#b4b4b4" stroke-width="1.17" opacity="0.52"/>
<path d="M886.04,22.75 Q892.78,11.57 891.88,2.98" fill="none" stroke="#a8a8a8" stroke-width="1.84" opacity="0.77"/>
<path d="M991.83,178.58 Q1003.64,166.08 1012.11,169.09" fill="none" stroke="#b4b4b4" stroke-width="1.44" opacity="0.63"/>
<path d="M876.28,189.13 Q850.57,194.41 842.52,191.6" fill="none" stroke="#9a9a9a" stroke-width="1.52" opacity="0.52"/>
<path d="M949.94,49.67 Q949.84,41.24 933.33,34.63" fill="none" stroke="#b4b4b4" stroke-width="1.39" opacity="0.83"/>
<path d="M869.81,66.46 Q887.6,79.88 899.72,78.5" fill="none" stroke="#b4b4b4" stroke-width="1.52" opacity="0.8"/>
<path d="M987.37,140.58 Q997.75,126.52 1003.54,116.91" fill="none" stroke="#a8a8a8" stroke-width="0.94" opacity="0.58"/>
<path d="M817.43,9.96 Q795.12,0.15 785.08,4.94" fill="none" stroke="#c0c0c0" stroke-width="0.8" opacity="0.51"/>
<path d="M907.74,61.45 Q910.91,46.9 913.23,36.87" fill="none" stroke="#9a9a9a" stroke-width="1.6" opacity="0.47"/>
<path d="M836.09,187.89 Q835.52,181.03 821.52,166.55" fill="none" stroke="#c0c0c0" stroke-width="1.92" opacity="0.87"/>
<path d="M1030,108.43 Q1028.08,88.59 1026.98,80.56" fill="none" stroke="#c0c0c0" stroke-width="1.28" opacity="0.76"/>
<path d="M800.08,60.86 Q812.19,67.71 825.05,82.27" fill="none" stroke="#b4b4b4" stroke-width="1.38" opacity="0.58"/>
<path d="M884.18,5.36 Q897.65,14.23 894.49,9.47" fill="none" stroke="#cccccc" stroke-width="2" opacity="0.47"/>
<path d="M982.78,171.84 Q970.14,156.62 952.91,155.89" fill="none" stroke="#b4b4b4" stroke-width="1.28" opacity="0.75"/>
<path d="M987.76,98 Q993.33,119.79 991.54,132.91" fill="none" stroke="#cccccc" stroke-width="0.92" opacity="0.66"/>
<path d="M1028.67,120.85 Q1035.44,102.34 1025.34,87.89" fill="none" stroke="#c0c0c0" stroke-width="1.68" opacity="0.65"/>
<path d="M955.51,37.13 Q961.74,20.47 980.58,18.85" fill="none" stroke="#cccccc" stroke-width="1.6" opacity="0.49"/>
<path d="M948.31,181.63 Q939.26,171.86 929.82,165.25" fill="none" stroke="#a8a8a8" stroke-width="1.11" opacity="0.86"/>
<path d="M909.82,186.75 Q916.55,181.66 927.22,160.72" fill="none" stroke="#c0c0c0" stroke-width="1.94" opacity="0.53"/>
<path d="M911.99,92.4 Q910.89,94.19 921.08,107.94" fill="none" stroke="#9a9a9a" stroke-width="1.87" opacity="0.48"/>
<path d="M840.77,143.77 Q825.01,120.47 822.09,110.88" fill="none" stroke="#cccccc" stroke-width="1.31" opacity="0.79"/>
<path d="M967.68,63.55 Q986.62,72.14 996.63,77.12" fill="none" stroke="#9a9a9a" stroke-width="0.94" opacity="0.58"/>
<path d="M798.23,134.72 Q813.88,153.59 811.97,164.23" fill="none" stroke="#cccccc" stroke-width="0.84" opacity="0.47"/>
<path d="M889.19,167 Q875.87,166.92 877.6,154.7" fill="none" stroke="#c0c0c0" stroke-width="1.61" opacity="0.54"/>
<path d="M970.19,6.86 Q983.01,7.16 979.38,24.18" fill="none" stroke="#a8a8a8" stroke-width="1.19" opacity="0.55"/>
<path d="M895.17,35.19 Q884.84,30.08 883.24,38.48" fill="none" stroke="#9a9a9a" stroke-width="1.45" opacity="0.79"/>
<path d="M925.65,166.03 Q905.4,168.38 902.93,173.9" fill="none" stroke="#a8a8a8" stroke-width="1.53" opacity="0.8"/>
<path d="M931.03,183.78 Q935.34,199.29 926.04,220.33" fill="none" stroke="#9a9a9a" stroke-width="1.09" opacity="0.66"/>
<path d="M1012.77,130.93 Q1019.78,135.24 1036.91,121.87" fill="none" stroke="#c0c0c0" stroke-width="1.94" opacity="0.83"/>
<path d="M1023.09,178.93 Q1029.62,192.66 1020.06,191.03" fill="none" stroke="#a8a8a8" stroke-width="1.72" opacity="0.48"/>
<path d="M857.48,92.91 Q847.11,100.77 847.38,126.12" fill="none" stroke="#c0c0c0" stroke-width="1.27" opacity="0.55"/>
<path d="M945.38,121.54 Q925.98,115.46 906.95,111.58" fill="none" stroke="#9a9a9a" stroke-width="1.1" opacity="0.55"/>
<path d="M827.4,96.8 Q821.3,103.01 808.94,117.27" fill="none" stroke="#cccccc" stroke-width="1.27" opacity="0.62"/>
<path d="M1025.48,183.52 Q1017.18,185.15 1004.2,182.74" fill="none" stroke="#b4b4b4" stroke-width="1.73" opacity="0.61"/>
<path d="M853.97,124.03 Q851.97,132.27 864.56,135.08" fill="none" stroke="#c0c0c0" stroke-width="1.69" opacity="0.69"/>
<path d="M993.24,98.51 Q974.61,110.46 965.26,126.7" fill="none" stroke="#b4b4b4" stroke-width="1.09" opacity="0.45"/>
<path d="M1025.24,77.24 Q1035.49,58.04 1028.88,53.93" fill="none" stroke="#c0c0c0" stroke-width="0.77" opacity="0.58"/>
<path d="M1018.12,193.08 Q1032.22,205.38 1041.67,209.18" fill="none" stroke="#c0c0c0" stroke-width="1.73" opacity="0.87"/>
<path d="M1009.84,105.83 Q1023.95,119.95 1037.82,123.91" fill="none" stroke="#c0c0c0" stroke-width="1.44" opacity="0.53"/>
<path d="M824.3,20.51 Q823.97,16.25 807.3,28.23" fill="none" stroke="#9a9a9a" stroke-width="0.86" opacity="0.5"/>
<path d="M1011.48,46.73 Q998.28,36.29 988.7,31.25" fill="none" stroke="#a8a8a8" stroke-width="1.43" opacity="0.87"/>
<path d="M792.96,96.08 Q794.99,81.85 792.46,83.53" fill="none" stroke="#cccccc" stroke-width="1.51" opacity="0.54"/>
<path d="M900.03,7.77 Q887.49,7.38 887.99,6.69" fill="none" stroke="#cccccc" stroke-width="1.46" opacity="0.67"/>
<path d="M976.3,79.59 Q988.32,66.58 996.86,66.38" fill="none" stroke="#c0c0c0" stroke-width="1.08" opacity="0.73"/>
<path d="M812.8,178.34 Q807.12,188.53 816.83,200.29" fill="none" stroke="#cccccc" stroke-width="0.94" opacity="0.53"/>
<path d="M921.24,126.6 Q928.28,128.39 931.57,139.57" fill="none" stroke="#9a9a9a" stroke-width="1.4" opacity="0.51"/>
<path d="M862.38,138.24 Q882.26,136.59 895.63,132.74" fill="none" stroke="#cccccc" stroke-width="1.51" opacity="0.7"/>
<path d="M846.1,50.31 Q852.61,45.83 856.21,56.25" fill="none" stroke="#a8a8a8" stroke-width="1.95" opacity="0.52"/>
<path d="M1021.83,123.55 Q1030.07,120.5 1043.32,124.32" fill="none" stroke="#9a9a9a" stroke-width="1.79" opacity="0.67"/>
<path d="M791.19,120.83 Q783.9,129.95 777.76,149.87" fill="none" stroke="#c0c0c0" stroke-width="1.16" opacity="0.79"/>
<path d="M976.68,71.88 Q970.17,60.17 975.43,51.38" fill="none" stroke="#9a9a9a" stroke-width="1.08" opacity="0.46"/>
<path d="M904.68,156.35 Q910.26,157.36 929.54,162.99" fill="none" stroke="#c0c0c0" stroke-width="1.66" opacity="0.76"/>
<path d="M1010.5,117.97 Q1004.07,114.69 996.41,95.53" fill="none" stroke="#b4b4b4" stroke-width="1.01" opacity="0.48"/>
<path d="M928.54,47.07 Q917.01,50.54 911.97,65.63" fill="none" stroke="#c0c0c0" stroke-width="1.35" opacity="0.77"/>
<path d="M873.14,181.92 Q866.21,187.21 857.8,194.54" fill="none" stroke="#cccccc" stroke-width="0.91" opacity="0.73"/>
<path d="M852.82,136.41 Q867.07,131.87 868.67,128.32" fill="none" stroke="#9a9a9a" stroke-width="1.98" opacity="0.47"/>
<path d="M880.53,117.49 Q890.15,97.72 885.42,90.1" fill="none" stroke="#a8a8a8" stroke-width="1.46" opacity="0.85"/>
<path d="M1011.7,22.3 Q1022.91,24.86 1030.01,18.3" fill="none" stroke="#b4b4b4" stroke-width="1.35" opacity="0.59"/>
<path d="M826.76,38.03 Q805.77,31.59 791.8,33.24" fill="none" stroke="#cccccc" stroke-width="1.64" opacity="0.58"/>
<path d="M814.21,37.9 Q810.25,45.11 812.67,64.97" fill="none" stroke="#9a9a9a" stroke-width="1.2" opacity="0.66"/>
<path d="M840.92,169.64 Q842.3,174.44 858.71,173.45" fill="none" stroke="#9a9a9a" stroke-width="0.73" opacity="0.84"/>
<path d="M975.84,144.89 Q976.94,147.31 962.19,165.53" fill="none" stroke="#9a9a9a" stroke-width="1.73" opacity="0.87"/>
<path d="M995.04,108.57 Q995.88,104.7 1006.12,108.21" fill="none" stroke="#cccccc" stroke-width="0.77" opacity="0.54"/>
<path d="M930.56,142.67 Q932.56,144.58 941.24,149.57" fill="none" stroke="#b4b4b4" stroke-width="1.45" opacity="0.71"/>
<path d="M792.05,17.81 Q806.95,5.34 803.97,-7.65" fill="none" stroke="#b4b4b4" stroke-width="0.94" opacity="0.79"/>
<path d="M994.79,165.09 Q998.4,172.46 1011.78,190.22" fill="none" stroke="#cccccc" stroke-width="1.95" opacity="0.46"/>
<path d="M992.96,127.82 Q974.1,129.54 969.11,141.05" fill="none" stroke="#c0c0c0" stroke-width="0.77" opacity="0.8"/>
<path d="M961.91,27.31 Q957.43,15.22 951.86,17.77" fill="none" stroke="#b4b4b4" stroke-width="1.87" opacity="0.69"/>
<path d="M897.27,166.87 Q884.06,171.83 870.75,186.15" fill="none" stroke="#b4b4b4" stroke-width="0.75" opacity="0.46"/>
<path d="M873.83,96.64 Q859.79,80.5 855.81,74.59" fill="none" stroke="#b4b4b4" stroke-width="1.78" opacity="0.65"/>
<path d="M850.5,142.01 Q843.63,139.94 853.77,154.85" fill="none" stroke="#b4b4b4" stroke-width="1.45" opacity="0.47"/>
<path d="M847.17,55.1 Q857.88,77.97 861.88,86.89" fill="none" stroke="#a8a8a8" stroke-width="0.75" opacity="0.45"/>
<path d="M926.09,77.16 Q926.46,85.64 942.08,110.08" fill="none" stroke="#b4b4b4" stroke-width="0.94" opacity="0.6"/>
<path d="M867.16,121.31 Q879.06,114.57 894.16,123.7" fill="none" stroke="#cccccc" stroke-width="1.8" opacity="0.5"/>
<path d="M895.5,46.9 Q899.83,71.06 896.44,86.72" fill="none" stroke="#b4b4b4" stroke-width="0.79" opacity="0.88"/>
<path d="M929.37,148.48 Q911.46,142.56 907.59,144.61" fill="none" stroke="#a8a8a8" stroke-width="2" opacity="0.82"/>
<path d="M848.12,192.08 Q838.62,196.71 839.65,184.83" fill="none" stroke="#b4b4b4" stroke-width="1.56" opacity="0.46"/>
<path d="M1014.82,61.6 Q1016.38,49.1 1018.37,35.66" fill="none" stroke="#9a9a9a" stroke-width="1.21" opacity="0.83"/>
<path d="M832.03,71.35 Q827.79,67.54 827.12,81.65" fill="none" stroke="#c0c0c0" stroke-width="1.76" opacity="0.67"/>
<path d="M804.8,54.99 Q798.83,44.37 807.46,36.37" fill="none" stroke="#cccccc" stroke-width="1.51" opacity="0.68"/>
<path d="M988.1,69.15 Q998.31,61.54 995.22,47.06" fill="none" stroke="#cccccc" stroke-width="0.8" opacity="0.86"/>
<path d="M920.78,37.9 Q921.36,28.03 935.25,4.39" fill="none" stroke="#b4b4b4" stroke-width="1.35" opacity="0.65"/>
<path d="M1014.39,114.81 Q1007.98,100.12 1006.38,95.27" fill="none" stroke="#9a9a9a" stroke-width="1.98" opacity="0.51"/>
<path d="M864.76,34.32 Q868.6,44.12 880.95,44.14" fill="none" stroke="#cccccc" stroke-width="1.27" opacity="0.82"/>
<path d="M812.44,142.32 Q817.43,133.17 806.11,119.29" fill="none" stroke="#c0c0c0" stroke-width="0.95" opacity="0.63"/>
<path d="M860.14,99.7 Q868.04,86.18 861.17,59.97" fill="none" stroke="#b4b4b4" stroke-width="1.65" opacity="0.78"/>
<path d="M811.81,82.43 Q812.48,80.58 798.69,83.32" fill="none" stroke="#a8a8a8" stroke-width="1.86" opacity="0.47"/>
<path d="M839.42,72.63 Q853,74.81 851.67,79.04" fill="none" stroke="#9a9a9a" stroke-width="1.59" opacity="0.73"/>
<path d="M908.79,101.18 Q885.05,106.25 877.32,121" fill="none" stroke="#b4b4b4" stroke-width="1.75" opacity="0.49"/>
<path d="M961.05,101.06 Q959.29,101.78 973.62,87.67" fill="none" stroke="#a8a8a8" stroke-width="1.16" opacity="0.73"/>
<path d="M814.57,65.33 Q800.76,51.72 788.26,54.78" fill="none" stroke="#cccccc" stroke-width="1.97" opacity="0.86"/>
<path d="M989.14,110.07 Q1001.63,115.59 1028.5,106.43" fill="none" stroke="#c0c0c0" stroke-width="1.7" opacity="0.72"/>
<path d="M999.93,166.19 Q1007.22,184.8 997.45,187.48" fill="none" stroke="#b4b4b4" stroke-width="1.52" opacity="0.6"/>
<path d="M811.77,67.58 Q816.31,84.29 815.25,96.33" fill="none" stroke="#9a9a9a" stroke-width="0.8" opacity="0.69"/>
<path d="M829.57,35.05 Q835.47,28.09 834.76,5.99" fill="none" stroke="#a8a8a8" stroke-width="1.74" opacity="0.58"/>
<path d="M965.27,118.87 Q959.72,123.09 959.19,109.86" fill="none" stroke="#c0c0c0" stroke-width="1.93" opacity="0.7"/>
<path d="M961.53,160.54 Q968.5,165.3 980.03,178.98" fill="none" stroke="#b4b4b4" stroke-width="1.89" opacity="0.83"/>
<path d="M868.91,98.6 Q887.14,92.27 887.85,82.41" fill="none" stroke="#a8a8a8" stroke-width="1.66" opacity="0.54"/>
<path d="M912.5,8.33 Q900.14,0.81 901.62,6.95" fill="none" stroke="#b4b4b4" stroke-width="1.65" opacity="0.48"/>
<path d="M918.77,10.82 Q929.69,15.87 935.53,11.59" fill="none" stroke="#cccccc" stroke-width="0.96" opacity="0.85"/>
<path d="M793.72,33.27 Q789.84,23.79 770.64,1.91" fill="none" stroke="#b4b4b4" stroke-width="0.81" opacity="0.7"/>
<path d="M869.41,11.41 Q869.76,-10.69 864.63,-16.06" fill="none" stroke="#cccccc" stroke-width="1.98" opacity="0.65"/>
<path d="M799,47.59 Q785.98,34.11 780.37,21.49" fill="none" stroke="#c0c0c0" stroke-width="1.68" opacity="0.55"/>
<path d="M958.35,170.27 Q976.16,177.33 996.43,171.86" fill="none" stroke="#9a9a9a" stroke-width="0.85" opacity="0.74"/>
<path d="M839.54,124.53 Q843.92,140.63 864.78,149.91" fill="none" stroke="#b4b4b4" stroke-width="1.82" opacity="0.7"/>
<path d="M969.82,84.81 Q981,96.26 993.03,96.9" fill="none" stroke="#cccccc" stroke-width="1.61" opacity="0.48"/>
<path d="M1021.42,69.72 Q1044.8,62.41 1059.29,64.27" fill="none" stroke="#a8a8a8" stroke-width="1.81" opacity="0.79"/>
<path d="M829.45,34.44 Q815.48,29.78 813.75,10.43" fill="none" stroke="#a8a8a8" stroke-width="1.34" opacity="0.74"/>
<path d="M794.78,86.14 Q776.25,86.37 772.43,81.39" fill="none" stroke="#a8a8a8" stroke-width="1.9" opacity="0.5"/>
<path d="M938.16,121.73 Q937.21,119.79 943.8,111.43" fill="none" stroke="#9a9a9a" stroke-width="1.12" opacity="0.72"/>
<path d="M889.32,17.39 Q901.34,-1.48 902.49,-3.63" fill="none" stroke="#a8a8a8" stroke-width="0.79" opacity="0.46"/>
<path d="M828.48,70.5 Q824.06,64.83 815.3,72.92" fill="none" stroke="#a8a8a8" stroke-width="1.01" opacity="0.78"/>
<path d="M875.75,150.6 Q871.95,144.12 869.24,140.39" fill="none" stroke="#c0c0c0" stroke-width="1.04" opacity="0.66"/>
<path d="M866.02,190.39 Q858.19,190.24 854.38,192.31" fill="none" stroke="#9a9a9a" stroke-width="1.05" opacity="0.88"/>
<path d="M882.93,172.07 Q895.67,173.08 913.14,165.27" fill="none" stroke="#cccccc" stroke-width="1.66" opacity="0.7"/>
<path d="M1007.39,165.02 Q1024.68,145.85 1029,137.22" fill="none" stroke="#cccccc" stroke-width="1.58" opacity="0.8"/>
<path d="M839.52,75.26 Q838.58,93.77 837.99,114.08" fill="none" stroke="#a8a8a8" stroke-width="1.82" opacity="0.68"/>
<path d="M820.42,75.71 Q829.04,80.87 839.43,86.77" fill="none" stroke="#b4b4b4" stroke-width="1.39" opacity="0.52"/>
<path d="M832.92,134.15 Q821.72,131.42 810.74,131.93" fill="none" stroke="#b4b4b4" stroke-width="1.47" opacity="0.47"/>
<path d="M908.96,52.52 Q903.29,54.96 888.22,40.67" fill="none" stroke="#cccccc" stroke-width="1.16" opacity="0.51"/>
<path d="M932.34,91.89 Q920.32,72.14 926.1,70.38" fill="none" stroke="#cccccc" stroke-width="1.41" opacity="0.89"/>
<path d="M795.35,93.22 Q792,107.08 783.32,117.67" fill="none" stroke="#c0c0c0" stroke-width="0.73" opacity="0.7"/>
<path d="M940.76,126.71 Q927.62,108.4 920.13,92.93" fill="none" stroke="#9a9a9a" stroke-width="1.81" opacity="0.82"/>
<path d="M936.56,102.1 Q933.64,115.33 932.78,116.56" fill="none" stroke="#cccccc" stroke-width="0.95" opacity="0.89"/>
<path d="M1011.15,64.69 Q1006.78,64.84 992.76,55.89" fill="none" stroke="#c0c0c0" stroke-width="1.17" opacity="0.79"/>
<path d="M891.15,136.82 Q884.27,143.42 862.24,135.97" fill="none" stroke="#c0c0c0" stroke-width="1.28" opacity="0.48"/>
<path d="M975.9,23.4 Q958.85,13.01 944.77,17.01" fill="none" stroke="#cccccc" stroke-width="1.09" opacity="0.56"/>
<path d="M857.3,112.47 Q869.49,106.11 876.39,90.33" fill="none" stroke="#c0c0c0" stroke-width="1.22" opacity="0.8"/>
<path d="M810.89,6.7 Q810.98,5.58 802.5,-0.84" fill="none" stroke="#cccccc" stroke-width="0.99" opacity="0.51"/>
<path d="M938.11,70.85 Q944.83,84.26 950.24,96.35" fill="none" stroke="#cccccc" stroke-width="0.93" opacity="0.66"/>
<path d="M1015.33,76.98 Q1000.57,67.2 992.94,65.62" fill="none" stroke="#c0c0c0" stroke-width="0.81" opacity="0.65"/>
<path d="M953.41,49.59 Q962.29,46.68 971.49,44.89" fill="none" stroke="#a8a8a8" stroke-width="0.9" opacity="0.56"/>
<path d="M942.19,73.82 Q945.84,78.59 934.48,85.45" fill="none" stroke="#cccccc" stroke-width="0.76" opacity="0.74"/>
<path d="M862.24,140.26 Q852.41,132.91 851.73,135.23" fill="none" stroke="#c0c0c0" stroke-width="1.53" opacity="0.79"/>
<path d="M992.68,97.68 Q983.69,97.24 979.97,108.34" fill="none" stroke="#cccccc" stroke-width="1.8" opacity="0.54"/>
<path d="M793.15,171.93 Q796.04,182.71 812.65,178.25" fill="none" stroke="#a8a8a8" stroke-width="1.66" opacity="0.65"/>
<path d="M841.12,184.16 Q846.67,189.04 855.22,197.06" fill="none" stroke="#a8a8a8" stroke-width="1.56" opacity="0.71"/>
<path d="M1022.98,16.29 Q1023.71,24.71 1035.02,16.27" fill="none" stroke="#cccccc" stroke-width="1.65" opacity="0.83"/>
<path d="M1015.47,26.53 Q998.7,38.37 986.48,34.21" fill="none" stroke="#c0c0c0" stroke-width="1.09" opacity="0.62"/>
<path d="M913.68,168.96 Q920.13,170.14 917.06,179.37" fill="none" stroke="#a8a8a8" stroke-width="1.24" opacity="0.77"/>
<path d="M913.92,26.4 Q935.24,11.21 942.44,5.54" fill="none" stroke="#cccccc" stroke-width="0.75" opacity="0.67"/>
<path d="M862.6,101.02 Q851.59,114.57 842.95,118.8" fill="none" stroke="#b4b4b4" stroke-width="1.13" opacity="0.66"/>
<path d="M963.76,177.03 Q963.63,188.2 962.29,190.5" fill="none" stroke="#b4b4b4" stroke-width="1.08" opacity="0.68"/>
<path d="M791.65,125.65 Q806.74,126.8 818.7,132.17" fill="none" stroke="#a8a8a8" stroke-width="1.11" opacity="0.46"/>
<path d="M815.65,50.67 Q811.79,41.52 813.19,18.58" fill="none" stroke="#a8a8a8" stroke-width="0.81" opacity="0.84"/>
<path d="M966.39,61.64 Q961.71,50.48 951.36,39.62" fill="none" stroke="#cccccc" stroke-width="1.58" opacity="0.66"/>
<path d="M857.18,166.51 Q855.77,168.51 845.24,152.72" fill="none" stroke="#a8a8a8" stroke-width="0.87" opacity="0.77"/>
<path d="M1000.83,17.41 Q1021.61,19.98 1028.68,20.74" fill="none" stroke="#cccccc" stroke-width="1.64" opacity="0.56"/>
<path d="M974.06,98.31 Q977.83,79.42 969.14,66.33" fill="none" stroke="#cccccc" stroke-width="1.37" opacity="0.5"/>
<path d="M976.09,128.87 Q980.99,113.43 969.28,115.84" fill="none" stroke="#c0c0c0" stroke-width="1.07" opacity="0.86"/>
<path d="M905.83,162.4 Q905.55,181.49 903.6,198.96" fill="none" stroke="#c0c0c0" stroke-width="1.42" opacity="0.47"/>
<path d="M955.43,155.48 Q956.96,163.03 944.94,156.32" fill="none" stroke="#9a9a9a" stroke-width="1.04" opacity="0.75"/>
<path d="M981.4,78.06 Q979.88,75.44 965.58,67.64" fill="none" stroke="#b4b4b4" stroke-width="1.07" opacity="0.46"/>
<path d="M905.36,106.06 Q901.44,118.36 908.9,140.22" fill="none" stroke="#b4b4b4" stroke-width="1.37" opacity="0.5"/>
<path d="M916.22,67.32 Q918.3,65.8 918.58,79.21" fill="none" stroke="#a8a8a8" stroke-width="1.84" opacity="0.67"/>
<path d="M997.48,180.71 Q996.63,188.18 978.89,192.8" fill="none" stroke="#cccccc" stroke-width="1.5" opacity="0.81"/>
<path d="M892.15,150.52 Q901.12,161.82 901.72,155.13" fill="none" stroke="#a8a8a8" stroke-width="1.77" opacity="0.78"/>
<path d="M1023.18,148.56 Q1038.45,147.62 1038.53,160.81" fill="none" stroke="#a8a8a8" stroke-width="1.43" opacity="0.78"/>
<path d="M970.07,86.94 Q981.8,78.43 982.54,76.23" fill="none" stroke="#c0c0c0" stroke-width="0.72" opacity="0.63"/>
<path d="M792.48,177.14 Q795.5,174.77 816.44,156.62" fill="none" stroke="#b4b4b4" stroke-width="0.96" opacity="0.5"/>
<path d="M821.59,185.09 Q824.04,175.55 815.16,155.29" fill="none" stroke="#b4b4b4" stroke-width="1.23" opacity="0.52"/>
<path d="M946.05,71.38 Q954.56,67.09 951.23,51.08" fill="none" stroke="#a8a8a8" stroke-width="1.28" opacity="0.47"/>
<path d="M939.75,36.56 Q951.45,40.9 959.85,54.16" fill="none" stroke="#a8a8a8" stroke-width="1.97" opacity="0.76"/>
<path d="M821.34,130.95 Q804.41,127.04 797.61,135.67" fill="none" stroke="#cccccc" stroke-width="1.2" opacity="0.71"/>
<path d="M970.02,110.14 Q971.24,99.92 971.83,76.26" fill="none" stroke="#b4b4b4" stroke-width="1.25" opacity="0.57"/>
<path d="M1001.96,119.37 Q996.06,120.45 972.72,137.53" fill="none" stroke="#9a9a9a" stroke-width="1.75" opacity="0.65"/>
<path d="M954.82,15.92 Q948.56,26.59 947.15,28.33" fill="none" stroke="#a8a8a8" stroke-width="1.83" opacity="0.68"/>
<path d="M951.32,24.09 Q946.8,32 930.62,29.68" fill="none" stroke="#c0c0c0" stroke-width="1.65" opacity="0.84"/>
<path d="M838.74,55.03 Q844.51,45.94 835.97,36.77" fill="none" stroke="#c0c0c0" stroke-width="1.64" opacity="0.74"/>
<path d="M881.32,194.61 Q900.18,208.06 911.08,213.95" fill="none" stroke="#c0c0c0" stroke-width="1.23" opacity="0.85"/>
<path d="M977.88,29.82 Q964.06,31.23 949.99,43.11" fill="none" stroke="#9a9a9a" stroke-width="1.7" opacity="0.67"/>
<path d="M818.87,104.36 Q818.33,102.92 819.16,89.43" fill="none" stroke="#9a9a9a" stroke-width="1.12" opacity="0.71"/>
<path d="M990.05,114.25 Q980.77,114.26 963.94,100.05" fill="none" stroke="#9a9a9a" stroke-width="1.63" opacity="0.76"/>
<path d="M954.93,178.65 Q964.93,176.09 962.55,190.81" fill="none" stroke="#cccccc" stroke-width="1.91" opacity="0.86"/>
<path d="M943.02,191.29 Q938.76,194.69 929.4,191.14" fill="none" stroke="#a8a8a8" stroke-width="1.46" opacity="0.48"/>
<path d="M876.28,162.68 Q868.59,178.16 872.48,177.86" fill="none" stroke="#a8a8a8" stroke-width="1.23" opacity="0.6"/>
<path d="M878.35,172.66 Q900.96,165.44 910.74,151.73" fill="none" stroke="#9a9a9a" stroke-width="1.77" opacity="0.62"/>
<path d="M999.04,148.52 Q989.36,129.88 974.3,124.95" fill="none" stroke="#b4b4b4" stroke-width="0.93" opacity="0.75"/>
<path d="M894.77,14.02 Q897.81,28.35 890.94,32.91" fill="none" stroke="#9a9a9a" stroke-width="0.92" opacity="0.55"/>
<path d="M879.63,65.86 Q875.15,82.21 888.48,97.21" fill="none" stroke="#a8a8a8" stroke-width="1.82" opacity="0.76"/>
<path d="M977.03,27.21 Q975.3,27.22 969.97,14.11" fill="none" stroke="#b4b4b4" stroke-width="0.94" opacity="0.74"/>
<path d="M974.81,142.57 Q955.98,149.93 943.16,141.16" fill="none" stroke="#cccccc" stroke-width="1.6" opacity="0.5"/>
<path d="M925.19,78.88 Q938.22,75.54 940.08,55.3" fill="none" stroke="#cccccc" stroke-width="1.41" opacity="0.83"/>
<path d="M993.45,39.54 Q988.2,20.23 986.39,14.75" fill="none" stroke="#cccccc" stroke-width="0.81" opacity="0.6"/>
<path d="M861.36,80.04 Q871.89,79.12 878.92,84.14" fill="none" stroke="#a8a8a8" stroke-width="0.87" opacity="0.88"/>
<path d="M923.11,49.24 Q912.93,46.7 903.27,55.78" fill="none" stroke="#a8a8a8" stroke-width="1.91" opacity="0.73"/>
<path d="M1020.3,159.82 Q1011.25,154.46 995.33,153.88" fill="none" stroke="#9a9a9a" stroke-width="1.72" opacity="0.86"/>
<path d="M794.74,36.01 Q802.71,46.25 813.44,60.67" fill="none" stroke="#c0c0c0" stroke-width="1.09" opacity="0.55"/>
<path d="M937.64,140.05 Q939.13,123.37 956.45,123.32" fill="none" stroke="#9a9a9a" stroke-width="0.89" opacity="0.5"/>
<path d="M862.92,140.01 Q863.08,143.33 872.04,162.05" fill="none" stroke="#a8a8a8" stroke-width="0.93" opacity="0.68"/>
<path d="M799.88,97.12 Q808.47,93.63 824.18,85.35" fill="none" stroke="#cccccc" stroke-width="1.69" opacity="0.84"/>
<path d="M837.12,122.94 Q828.2,132.52 813.83,140.34" fill="none" stroke="#a8a8a8" stroke-width="0.95" opacity="0.54"/>
<path d="M992.28,87.77 Q1001.73,85.76 1024.35,91.94" fill="none" stroke="#a8a8a8" stroke-width="0.8" opacity="0.81"/>
<path d="M927.62,68.39 Q921.79,77.59 916.62,85.92" fill="none" stroke="#a8a8a8" stroke-width="1.57" opacity="0.52"/>
<path d="M848.74,152.86 Q848.21,163.53 861.59,171.23" fill="none" stroke="#a8a8a8" stroke-width="1.91" opacity="0.54"/>
<path d="M947.86,97.09 Q935.72,87.42 926.3,78.95" fill="none" stroke="#a8a8a8" stroke-width="0.73" opacity="0.47"/>
<path d="M861.38,174.64 Q871.52,159.06 867.51,147.56" fill="none" stroke="#cccccc" stroke-width="1.44" opacity="0.51"/>
<path d="M826.81,124.03 Q818.18,131.52 821.22,153.48" fill="none" stroke="#9a9a9a" stroke-width="1.23" opacity="0.63"/>
<path d="M837.69,70.97 Q844.78,77.15 868.78,94.9" fill="none" stroke="#cccccc" stroke-width="1.73" opacity="0.47"/>
<path d="M925.27,194.14 Q922.66,196.83 935.52,185.83" fill="none" stroke="#c0c0c0" stroke-width="1.53" opacity="0.46"/>
<path d="M805.34,162.74 Q818.22,160.96 815.68,147.89" fill="none" stroke="#9a9a9a" stroke-width="0.81" opacity="0.87"/>
<path d="M937.13,61.32 Q946.76,51.47 967.35,45.02" fill="none" stroke="#9a9a9a" stroke-width="0.97" opacity="0.76"/>
<path d="M874.42,179.3 Q867.55,175.8 851.31,170.07" fill="none" stroke="#c0c0c0" stroke-width="1.58" opacity="0.61"/>
<path d="M1026.32,147.47 Q1038.02,166.47 1045.54,168.26" fill="none" stroke="#b4b4b4" stroke-width="1.75" opacity="0.8"/>
<path d="M902.38,106.14 Q927.82,106.94 940.37,107.91" fill="none" stroke="#c0c0c0" stroke-width="1.57" opacity="0.47"/>
<path d="M885.93,29.72 Q870.73,48.98 873.44,62.82" fill="none" stroke="#b4b4b4" stroke-width="1.78" opacity="0.61"/>
<path d="M881.59,192.72 Q870.06,181.15 871.75,171.91" fill="none" stroke="#9a9a9a" stroke-width="1.31" opacity="0.68"/>
<path d="M832.22,130.43 Q822.53,125.05 796.49,115.08" fill="none" stroke="#9a9a9a" stroke-width="1.71" opacity="0.9"/>
<path d="M996.73,165.85 Q998.82,167.84 1012.51,162.35" fill="none" stroke="#9a9a9a" stroke-width="1.99" opacity="0.7"/>
<path d="M957.35,51.72 Q972.26,39.14 986.86,40.53" fill="none" stroke="#c0c0c0" stroke-width="1.26" opacity="0.72"/>
<path d="M1012.75,43.68 Q1019.91,50.9 1011.09,56.33" fill="none" stroke="#c0c0c0" stroke-width="1.02" opacity="0.86"/>
<path d="M911.46,181.9 Q908.02,178.28 896.2,189.23" fill="none" stroke="#b4b4b4" stroke-width="1.04" opacity="0.51"/>
<path d="M890.4,88.44 Q877.85,97.76 867.88,97.35" fill="none" stroke="#a8a8a8" stroke-width="1.72" opacity="0.58"/>
<path d="M854.95,166.13 Q860.21,169.62 880.97,161.02" fill="none" stroke="#9a9a9a" stroke-width="0.72" opacity="0.58"/>
<path d="M990.41,95.39 Q994.03,107.35 1008.02,130.8" fill="none" stroke="#b4b4b4" stroke-width="1.98" opacity="0.77"/>
<path d="M794.76,8.87 Q806.34,16.55 801.38,38.08" fill="none" stroke="#b4b4b4" stroke-width="0.74" opacity="0.86"/>
<path d="M865.24,76.12 Q870.97,55.48 872.16,50.75" fill="none" stroke="#cccccc" stroke-width="1.62" opacity="0.6"/>
<path d="M1028.85,91.03 Q1030.91,96.54 1050.63,113.92" fill="none" stroke="#b4b4b4" stroke-width="1.62" opacity="0.66"/>
<path d="M816.29,143.21 Q817.56,130.87 829.14,127.95" fill="none" stroke="#9a9a9a" stroke-width="1.98" opacity="0.48"/>
<path d="M851.53,19.91 Q868.2,9.51 867.51,-16.47" fill="none" stroke="#a8a8a8" stroke-width="0.91" opacity="0.66"/>
<path d="M910.08,64.9 Q917.29,61.58 913.6,48.69" fill="none" stroke="#c0c0c0" stroke-width="0.8" opacity="0.5"/>
<path d="M983.49,187.14 Q989.12,208.74 985.47,217.06" fill="none" stroke="#a8a8a8" stroke-width="1.35" opacity="0.66"/>
<path d="M1002.11,175.37 Q997.42,180.64 993.03,188.66" fill="none" stroke="#c0c0c0" stroke-width="1.65" opacity="0.83"/>
<path d="M833.52,86.22 Q843.19,68.12 848.61,59.86" fill="none" stroke="#c0c0c0" stroke-width="1.86" opacity="0.55"/>
<path d="M959.62,128.3 Q969.55,133.38 984.24,124.84" fill="none" stroke="#b4b4b4" stroke-width="0.75" opacity="0.55"/>
<path d="M867.26,147.02 Q881.13,144.02 884.26,146.94" fill="none" stroke="#9a9a9a" stroke-width="1.22" opacity="0.7"/>
<path d="M947.44,141.76 Q933.35,150.83 930.89,155.36" fill="none" stroke="#b4b4b4" stroke-width="1.31" opacity="0.55"/>
<path d="M795.03,159.97 Q788.66,171.57 771.76,186.28" fill="none" stroke="#a8a8a8" stroke-width="0.97" opacity="0.54"/>
<path d="M1024.89,158.23 Q1031.03,158.18 1035.03,159.77" fill="none" stroke="#cccccc" stroke-width="1.93" opacity="0.84"/>
<path d="M828,54.81 Q846.79,71.58 851.07,80.09" fill="none" stroke="#cccccc" stroke-width="0.94" opacity="0.58"/>
<path d="M920.6,54 Q912.05,68 919,67.22" fill="none" stroke="#c0c0c0" stroke-width="0.89" opacity="0.5"/>
<path d="M893.91,139.16 Q882.56,143.55 879.14,151.54" fill="none" stroke="#b4b4b4" stroke-width="1.29" opacity="0.77"/>
<path d="M926.87,138.33 Q931.39,141.83 944.03,145.99" fill="none" stroke="#c0c0c0" stroke-width="1.87" opacity="0.67"/>
<path d="M1001.82,107.81 Q998.28,96.29 987.45,90.01" fill="none" stroke="#cccccc" stroke-width="1.34" opacity="0.58"/>
<path d="M907.95,86.5 Q914.41,78.51 915.38,64.19" fill="none" stroke="#cccccc" stroke-width="1.32" opacity="0.78"/>
<path d="M907.57,55.43 Q896.41,65.71 892.14,75.44" fill="none" stroke="#9a9a9a" stroke-width="1.68" opacity="0.48"/>
<path d="M816.48,75.18 Q834.82,89.93 837.98,93.43" fill="none" stroke="#b4b4b4" stroke-width="1.08" opacity="0.83"/>
<path d="M818.58,77.13 Q838.9,91.31 850.4,90.14" fill="none" stroke="#a8a8a8" stroke-width="1.15" opacity="0.53"/>
<path d="M968.56,20.96 Q976.85,37.55 998.64,44.59" fill="none" stroke="#cccccc" stroke-width="1.18" opacity="0.69"/>
<path d="M893.11,176.26 Q897.42,164.23 906.5,158.78" fill="none" stroke="#9a9a9a" stroke-width="1.56" opacity="0.73"/>
<path d="M915.08,132.6 Q930.73,137.19 939.41,133.53" fill="none" stroke="#a8a8a8" stroke-width="1.36" opacity="0.85"/>
<path d="M910.39,15.19 Q915.44,9.87 927.16,11.1" fill="none" stroke="#b4b4b4" stroke-width="1.86" opacity="0.61"/>
<path d="M1014.01,162.83 Q1028.2,164.32 1024.47,165.82" fill="none" stroke="#b4b4b4" stroke-width="1.82" opacity="0.59"/>
<path d="M793.65,169.66 Q806.53,156.28 813.62,160.49" fill="none" stroke="#cccccc" stroke-width="0.8" opacity="0.48"/>
<path d="M1000.93,18.44 Q994.41,16.81 984.37,28.64" fill="none" stroke="#c0c0c0" stroke-width="0.99" opacity="0.52"/>
<path d="M847.16,62.79 Q824.21,61.26 809.49,69.51" fill="none" stroke="#b4b4b4" stroke-width="1.92" opacity="0.56"/>
<path d="M861.68,83.78 Q868.54,81.58 873.54,88.54" fill="none" stroke="#a8a8a8" stroke-width="1.38" opacity="0.55"/>
<path d="M798.22,29.32 Q799.08,16.98 807.94,-2.67" fill="none" stroke="#a8a8a8" stroke-width="1.66" opacity="0.46"/>
<path d="M818.62,53.64 Q818.82,64.56 828.62,64.23" fill="none" stroke="#9a9a9a" stroke-width="1.35" opacity="0.7"/>
<path d="M969.46,117.25 Q974.64,122.27 990.51,128.34" fill="none" stroke="#a8a8a8" stroke-width="1.06" opacity="0.77"/>
<path d="M999.45,88.54 Q987.77,102.05 976.8,112.54" fill="none" stroke="#cccccc" stroke-width="0.93" opacity="0.74"/>
<path d="M863.27,9.37 Q852.8,3.92 847.7,11.59" fill="none" stroke="#c0c0c0" stroke-width="1.98" opacity="0.7"/>
<path d="M950.58,112.2 Q948.14,123.42 950.01,151.78" fill="none" stroke="#c0c0c0" stroke-width="2" opacity="0.59"/>
<path d="M1026.78,82.49 Q1045.34,89.95 1047.67,95.3" fill="none" stroke="#9a9a9a" stroke-width="1.47" opacity="0.63"/>
<path d="M984.25,91.51 Q1002.31,77.74 1013.43,76.12" fill="none" stroke="#9a9a9a" stroke-width="1.05" opacity="0.54"/>
<path d="M951.13,83.76 Q940.21,105.7 932.7,114.35" fill="none" stroke="#a8a8a8" stroke-width="1.41" opacity="0.81"/>
<path d="M827.41,94.41 Q824.38,97.51 819.11,85.66" fill="none" stroke="#9a9a9a" stroke-width="1.82" opacity="0.81"/>
<path d="M1001.72,141.59 Q980.89,153.14 965.98,156.61" fill="none" stroke="#a8a8a8" stroke-width="1.48" opacity="0.6"/>
<path d="M981.66,108.83 Q973.74,119.94 958.3,118.95" fill="none" stroke="#cccccc" stroke-width="1.62" opacity="0.56"/>
<path d="M790.08,27.93 Q793.35,33.82 811.84,40.67" fill="none" stroke="#a8a8a8" stroke-width="1.27" opacity="0.84"/>
<path d="M876.31,97.09 Q877.06,97.25 875.01,110.95" fill="none" stroke="#a8a8a8" stroke-width="1.09" opacity="0.88"/>
<path d="M817.54,62.04 Q823.95,81.11 817.51,86.64" fill="none" stroke="#9a9a9a" stroke-width="2" opacity="0.75"/>
<path d="M849.37,191.54 Q861.72,191.06 857.24,185.23" fill="none" stroke="#a8a8a8" stroke-width="0.78" opacity="0.62"/>
<path d="M948.9,169.01 Q945.17,177.7 936.27,187.03" fill="none" stroke="#9a9a9a" stroke-width="1.61" opacity="0.51"/>
<path d="M935.23,89.46 Q952.67,94.82 963.16,116.17" fill="none" stroke="#cccccc" stroke-width="1.54" opacity="0.82"/>
<path d="M975.27,37.33 Q977.89,52.36 969.32,51.29" fill="none" stroke="#cccccc" stroke-width="1.03" opacity="0.68"/>
<path d="M907.62,51.59 Q913.63,57.61 906.19,77.17" fill="none" stroke="#b4b4b4" stroke-width="1.81" opacity="0.46"/>
<path d="M837.56,105.49 Q829.92,119.25 839.36,126.95" fill="none" stroke="#9a9a9a" stroke-width="1.05" opacity="0.55"/>
<path d="M982.64,7.58 Q959.14,2.18 944.54,-1.55" fill="none" stroke="#a8a8a8" stroke-width="1.88" opacity="0.54"/>
<path d="M861.11,170.05 Q872.31,170.92 884.03,179.31" fill="none" stroke="#a8a8a8" stroke-width="0.99" opacity="0.53"/>
<path d="M1006.87,23.23 Q996.74,17.16 980.5,8.98" fill="none" stroke="#cccccc" stroke-width="1.49" opacity="0.72"/>
<path d="M960.6,182.07 Q947.33,168.66 932.02,170.5" fill="none" stroke="#cccccc" stroke-width="1.74" opacity="0.48"/>
<path d="M799.36,100.7 Q786.93,108.97 771.03,105.92" fill="none" stroke="#c0c0c0" stroke-width="1.96" opacity="0.51"/>
<path d="M999.69,193.5 Q1005.49,192.13 1000.71,204.43" fill="none" stroke="#c0c0c0" stroke-width="1.07" opacity="0.56"/>
<path d="M1026.18,9.9 Q1033.42,20.88 1029.29,25.69" fill="none" stroke="#b4b4b4" stroke-width="1.07" opacity="0.88"/>
<path d="M918.24,133.13 Q927.45,117.44 934.61,109.01" fill="none" stroke="#cccccc" stroke-width="1.83" opacity="0.53"/>
<path d="M881.9,191.89 Q905.14,183.17 916.04,186.8" fill="none" stroke="#9a9a9a" stroke-width="1.77" opacity="0.54"/>
<path d="M1008.9,159.56 Q1017.53,144.31 1040.82,140.96" fill="none" stroke="#a8a8a8" stroke-width="1.64" opacity="0.67"/>
<path d="M806.23,193.72 Q800.75,213 783.81,218.44" fill="none" stroke="#9a9a9a" stroke-width="1.15" opacity="0.56"/>
<path d="M834.93,121.17 Q837.75,114.87 831.8,104.8" fill="none" stroke="#cccccc" stroke-width="1.92" opacity="0.59"/>
<path d="M890.05,121.08 Q908.02,124.82 912.52,112.09" fill="none" stroke="#cccccc" stroke-width="0.91" opacity="0.84"/>
<path d="M889.39,188.04 Q887.3,177.75 901.33,183.68" fill="none" stroke="#cccccc" stroke-width="1.34" opacity="0.73"/>
<path d="M867.95,117.69 Q878.85,117.36 881.34,126.8" fill="none" stroke="#9a9a9a" stroke-width="1.2" opacity="0.81"/>
<path d="M862.05,93.73 Q868.61,84.45 876.15,87.06" fill="none" stroke="#a8a8a8" stroke-width="1.39" opacity="0.83"/>
<path d="M797.34,123.84 Q804.63,130.73 826.71,138.1" fill="none" stroke="#c0c0c0" stroke-width="1.98" opacity="0.81"/>
<path d="M977.72,61.67 Q969.18,53.35 960.83,41.58" fill="none" stroke="#c0c0c0" stroke-width="1.61" opacity="0.89"/>
<path d="M816.24,13.96 Q826.91,27.36 820.63,26.88" fill="none" stroke="#c0c0c0" stroke-width="1.71" opacity="0.79"/>
<path d="M823.7,97.26 Q829.83,98.82 837.16,89.42" fill="none" stroke="#b4b4b4" stroke-width="1.2" opacity="0.62"/>
<path d="M942.89,136.45 Q951.3,129.46 959.91,124.24" fill="none" stroke="#c0c0c0" stroke-width="1.37" opacity="0.86"/>
<path d="M1022.48,10.46 Q1023.34,6.18 1024.29,-2.78" fill="none" stroke="#9a9a9a" stroke-width="1.2" opacity="0.75"/>
<path d="M991.89,38.63 Q989.14,42.66 970.74,43.05" fill="none" stroke="#c0c0c0" stroke-width="1.4" opacity="0.81"/>
<path d="M990.78,148.65 Q976.95,148.46 969.51,163.96" fill="none" stroke="#9a9a9a" stroke-width="1.51" opacity="0.75"/>
<path d="M906.08,102.01 Q920.54,86.75 917.44,87.3" fill="none" stroke="#c0c0c0" stroke-width="1.73" opacity="0.85"/>
<path d="M986.69,40.24 Q991.78,37.22 998.06,39.65" fill="none" stroke="#9a9a9a" stroke-width="0.75" opacity="0.7"/>
<path d="M921.98,93.24 Q940.26,90.94 941.27,92.99" fill="none" stroke="#a8a8a8" stroke-width="0.97" opacity="0.58"/>
<path d="M962.21,44.41 Q955.94,44.94 956.11,52.55" fill="none" stroke="#9a9a9a" stroke-width="1.05" opacity="0.87"/>
<path d="M853.21,161.7 Q857.6,167.76 853.88,177.34" fill="none" stroke="#a8a8a8" stroke-width="0.85" opacity="0.82"/>
<path d="M1020.82,63.91 Q1031.16,80.9 1044.94,86.47" fill="none" stroke="#c0c0c0" stroke-width="1.68" opacity="0.56"/>
<path d="M991.6,35.4 Q983.57,31.92 973.12,37.41" fill="none" stroke="#cccccc" stroke-width="1.53" opacity="0.67"/>
<path d="M843.69,19.84 Q833,27.91 832.4,26.24" fill="none" stroke="#c0c0c0" stroke-width="0.94" opacity="0.63"/>
<path d="M970.36,144.07 Q952.29,155.66 943.04,151.12" fill="none" stroke="#a8a8a8" stroke-width="1.74" opacity="0.62"/>
<path d="M928.89,139.97 Q908.72,141.79 896.75,133.36" fill="none" stroke="#b4b4b4" stroke-width="1.69" opacity="0.53"/>
<path d="M892.53,159.9 Q902.7,164.95 896.67,170.97" fill="none" stroke="#b4b4b4" stroke-width="1.59" opacity="0.76"/>
<path d="M962.76,119.49 Q966.31,121.41 977.74,141.14" fill="none" stroke="#cccccc" stroke-width="0.96" opacity="0.79"/>
<path d="M844.7,15.04 Q839.8,13.62 832.05,6.7" fill="none" stroke="#b4b4b4" stroke-width="1.59" opacity="0.58"/>
<path d="M836.88,54.85 Q858.2,47.81 863.49,27.61" fill="none" stroke="#a8a8a8" stroke-width="0.87" opacity="0.9"/>
<path d="M871.42,88.57 Q865.88,74.45 856.44,76.36" fill="none" stroke="#b4b4b4" stroke-width="0.84" opacity="0.84"/>
<path d="M996.01,154.49 Q997.26,138.8 996.06,138.89" fill="none" stroke="#9a9a9a" stroke-width="0.97" opacity="0.65"/>
<path d="M811.79,131.82 Q811.93,133.05 808.01,120.64" fill="none" stroke="#a8a8a8" stroke-width="1.49" opacity="0.86"/>
<path d="M1003.42,47.37 Q1003.52,49.65 995.71,54.78" fill="none" stroke="#9a9a9a" stroke-width="1.4" opacity="0.7"/>
<path d="M953.95,103.1 Q954.38,118.74 937.09,129.34" fill="none" stroke="#9a9a9a" stroke-width="1.52" opacity="0.48"/>
<path d="M823.54,94.05 Q814.88,74.92 804.8,63.68" fill="none" stroke="#cccccc" stroke-width="0.98" opacity="0.68"/>
<path d="M1026.68,189.54 Q1024.57,201.42 1030.02,218.37" fill="none" stroke="#b4b4b4" stroke-width="1.21" opacity="0.9"/>
<path d="M1005.22,153.84 Q987.32,146.29 985.93,139.71" fill="none" stroke="#9a9a9a" stroke-width="1.01" opacity="0.47"/>
<path d="M874.87,186.6 Q872.83,189.37 862.01,201.87" fill="none" stroke="#cccccc" stroke-width="1.96" opacity="0.84"/>
<path d="M799.68,153.45 Q805.21,129.97 807.92,120.64" fill="none" stroke="#b4b4b4" stroke-width="1.45" opacity="0.67"/>
<path d="M974.12,39.69 Q970.98,58.71 953.55,60.07" fill="none" stroke="#a8a8a8" stroke-width="1.04" opacity="0.64"/>
<path d="M915.95,92.45 Q932.93,95.21 934.4,102.45" fill="none" stroke="#a8a8a8" stroke-width="1.86" opacity="0.68"/>
<path d="M1010.02,190.51 Q1032.03,187.93 1037.69,192.17" fill="none" stroke="#b4b4b4" stroke-width="1.14" opacity="0.81"/>
<path d="M979.87,132.03 Q1000.16,136.43 1003.11,154.02" fill="none" stroke="#a8a8a8" stroke-width="1.28" opacity="0.6"/>
<path d="M1022.61,127.81 Q1018.77,119.83 1009.93,128.26" fill="none" stroke="#c0c0c0" stroke-width="1.02" opacity="0.55"/>
<path d="M978.05,135.91 Q961.67,136.47 952.85,129.03" fill="none" stroke="#b4b4b4" stroke-width="0.83" opacity="0.83"/>
<path d="M888.74,45.3 Q887.86,25.78 891.75,24.22" fill="none" stroke="#a8a8a8" stroke-width="1.7" opacity="0.63"/>
<path d="M822.72,6.87 Q824.68,14.16 819.19,17.09" fill="none" stroke="#cccccc" stroke-width="1.11" opacity="0.84"/>
<path d="M859.9,89.82 Q859.82,81.14 867.64,55.11" fill="none" stroke="#a8a8a8" stroke-width="1.93" opacity="0.54"/>
<path d="M812.44,19.69 Q803.35,22.63 793,37.84" fill="none" stroke="#b4b4b4" stroke-width="1.58" opacity="0.85"/>
<path d="M851.07,72.46 Q842.44,82.07 833.36,75.84" fill="none" stroke="#a8a8a8" stroke-width="1.88" opacity="0.57"/>
<path d="M904.7,67.76 Q900.39,48.15 903.56,45.36" fill="none" stroke="#b4b4b4" stroke-width="0.7" opacity="0.68"/>
<path d="M876.16,156.3 Q872.06,161.6 853.68,184.15" fill="none" stroke="#cccccc" stroke-width="1.73" opacity="0.81"/>
<path d="M975.7,28.54 Q976.29,50.52 971.98,58.35" fill="none" stroke="#c0c0c0" stroke-width="1.4" opacity="0.69"/>
<path d="M822.31,130.2 Q812.44,118.12 803.17,123.73" fill="none" stroke="#b4b4b4" stroke-width="1.87" opacity="0.52"/>
<path d="M820.01,78.4 Q818.23,60.8 801.07,52.52" fill="none" stroke="#a8a8a8" stroke-width="0.78" opacity="0.71"/>
<path d="M931.76,188.8 Q918.08,184.46 917.41,178.18" fill="none" stroke="#a8a8a8" stroke-width="0.87" opacity="0.62"/>
<path d="M809.06,124.27 Q806.2,121.26 794.8,105.78" fill="none" stroke="#c0c0c0" stroke-width="1.17" opacity="0.55"/>
<path d="M1016.87,147.77 Q1014.16,124.85 1019.03,118.65" fill="none" stroke="#a8a8a8" stroke-width="1.05" opacity="0.9"/>
<path d="M897.82,87.07 Q908.87,97.86 911.21,93.19" fill="none" stroke="#b4b4b4" stroke-width="1.14" opacity="0.59"/>
<path d="M877.89,151.88 Q881.67,150.92 885.41,140.17" fill="none" stroke="#a8a8a8" stroke-width="1.79" opacity="0.56"/>
<path d="M856.24,32.27 Q845.52,38.98 832.95,52.07" fill="none" stroke="#a8a8a8" stroke-width="1.14" opacity="0.83"/>
<path d="M1012.69,151.76 Q1013.68,155.88 997.19,147.72" fill="none" stroke="#a8a8a8" stroke-width="0.76" opacity="0.75"/>
<path d="M910.64,83.33 Q910.56,86.88 901.48,78.16" fill="none" stroke="#9a9a9a" stroke-width="1.74" opacity="0.83"/>
<path d="M930.24,69.74 Q940.72,65.37 944.09,71.23" fill="none" stroke="#a8a8a8" stroke-width="0.87" opacity="0.45"/>
<path d="M818.4,67.38 Q828.48,61.48 850.05,59.29" fill="none" stroke="#cccccc" stroke-width="1.47" opacity="0.79"/>
<path d="M827.49,55.5 Q836.94,60.48 841.41,70.75" fill="none" stroke="#c0c0c0" stroke-width="1.98" opacity="0.82"/>
<path d="M892.96,21.47 Q896.21,10.33 894.99,-4.19" fill="none" stroke="#b4b4b4" stroke-width="1.8" opacity="0.85"/>
<path d="M970.66,89.07 Q973.66,74.83 969.19,71.61" fill="none" stroke="#c0c0c0" stroke-width="1.45" opacity="0.71"/>
<path d="M835.24,54.74 Q834.52,41.27 846.03,38.24" fill="none" stroke="#cccccc" stroke-width="1.46" opacity="0.65"/>
<path d="M903.43,112.61 Q898.63,98.75 904.18,98.34" fill="none" stroke="#cccccc" stroke-width="1.11" opacity="0.56"/>
<path d="M987.83,172.37 Q993.79,188.19 996.93,196.11" fill="none" stroke="#9a9a9a" stroke-width="1.15" opacity="0.88"/>
<path d="M827.28,62.61 Q813.59,55.82 807.26,63.3" fill="none" stroke="#cccccc" stroke-width="1.19" opacity="0.52"/>
<path d="M923.13,6.77 Q936.47,20.12 947.45,38.48" fill="none" stroke="#c0c0c0" stroke-width="1.21" opacity="0.79"/>
<path d="M873.22,190.4 Q869.17,187.3 858.48,178.4" fill="none" stroke="#cccccc" stroke-width="1.06" opacity="0.53"/>
<path d="M977.31,62.47 Q973.79,61.34 967.28,62.34" fill="none" stroke="#a8a8a8" stroke-width="0.9" opacity="0.65"/>
<path d="M1019.83,182.32 Q1007.63,169.51 1010.72,171.21" fill="none" stroke="#9a9a9a" stroke-width="0.72" opacity="0.61"/>
<path d="M921.64,121.05 Q912.45,128.46 905.84,148.46" fill="none" stroke="#c0c0c0" stroke-width="0.97" opacity="0.77"/>
<path d="M1013.1,37.21 Q1010.97,28.05 1014.37,3.89" fill="none" stroke="#a8a8a8" stroke-width="1.62" opacity="0.61"/>
<path d="M825.64,65.49 Q837.83,57.76 851.04,47.5" fill="none" stroke="#a8a8a8" stroke-width="1.66" opacity="0.77"/>
<path d="M972.33,45.59 Q967.06,25.94 952.93,17.87" fill="none" stroke="#cccccc" stroke-width="0.87" opacity="0.9"/>
<path d="M882.46,63.57 Q867.44,58.66 850.02,50.97" fill="none" stroke="#cccccc" stroke-width="1.82" opacity="0.89"/>
<path d="M948.21,107.21 Q932.57,113.5 933.73,105.79" fill="none" stroke="#c0c0c0" stroke-width="0.95" opacity="0.73"/>
<path d="M836.91,66.28 Q832.94,52.96 846.53,29.58" fill="none" stroke="#c0c0c0" stroke-width="1.61" opacity="0.52"/>
<path d="M874.12,146.52 Q875.9,147.82 878.44,160.99" fill="none" stroke="#b4b4b4" stroke-width="0.93" opacity="0.54"/>
<path d="M997.71,147.53 Q1002.37,148.55 1007.24,165.57" fill="none" stroke="#a8a8a8" stroke-width="0.79" opacity="0.58"/>
<path d="M800.71,145.42 Q802.83,157.06 818.04,162.13" fill="none" stroke="#cccccc" stroke-width="1.62" opacity="0.49"/>
<path d="M836.87,36.4 Q846.29,37.13 846.25,28.13" fill="none" stroke="#a8a8a8" stroke-width="1.25" opacity="0.64"/>
<path d="M874.43,129.01 Q857.8,136.79 843.42,132.23" fill="none" stroke="#cccccc" stroke-width="1.95" opacity="0.78"/>
<path d="M990.96,102.07 Q988.81,107.05 972.34,110.13" fill="none" stroke="#9a9a9a" stroke-width="0.81" opacity="0.82"/>
<path d="M951.8,133.01 Q955.72,132.53 952.79,116.2" fill="none" stroke="#c0c0c0" stroke-width="1.47" opacity="0.7"/>
<path d="M896.96,109.35 Q894.81,121.34 889.58,122.75" fill="none" stroke="#9a9a9a" stroke-width="1.88" opacity="0.72"/>
<path d="M839.11,111.17 Q853.05,124.2 857.8,141.68" fill="none" stroke="#b4b4b4" stroke-width="1.84" opacity="0.5"/>
<path d="M831.11,14.82 Q835.8,0.76 823.7,-8.76" fill="none" stroke="#a8a8a8" stroke-width="1.06" opacity="0.87"/>
<path d="M903.78,178.42 Q899.45,168.1 909.74,152.27" fill="none" stroke="#a8a8a8" stroke-width="1.91" opacity="0.86"/>
<path d="M796.09,158 Q802.69,145.37 801.1,127.04" fill="none" stroke="#a8a8a8" stroke-width="0.78" opacity="0.75"/>
<path d="M1029.36,186.35 Q1025.41,177.6 1017.11,183.12" fill="none" stroke="#9a9a9a" stroke-width="0.71" opacity="0.73"/>
<path d="M937.74,177.52 Q940.42,186.63 956.78,180.82" fill="none" stroke="#a8a8a8" stroke-width="0.87" opacity="0.63"/>
<path d="M790.24,115.42 Q779.33,113.61 776.74,103.13" fill="none" stroke="#c0c0c0" stroke-width="1.36" opacity="0.51"/>
<path d="M1002.18,60.56 Q1019.78,66.14 1031.47,62.94" fill="none" stroke="#c0c0c0" stroke-width="1.77" opacity="0.68"/>
<path d="M1007.99,192.15 Q992.81,193.36 991.79,210.08" fill="none" stroke="#9a9a9a" stroke-width="1.2" opacity="0.66"/>
<path d="M878.03,38.53 Q861.9,23.35 851.19,21.54" fill="none" stroke="#cccccc" stroke-width="2" opacity="0.72"/>
<path d="M820.34,12.27 Q812.82,4.27 790.78,11.14" fill="none" stroke="#cccccc" stroke-width="1.12" opacity="0.7"/>
<path d="M887.83,159.59 Q883.42,154.3 861.64,142.51" fill="none" stroke="#b4b4b4" stroke-width="1.27" opacity="0.81"/>
<path d="M963.99,181.58 Q972.46,185.7 975.24,174.48" fill="none" stroke="#9a9a9a" stroke-width="1.17" opacity="0.84"/>
<path d="M828.9,99.97 Q826.51,101.39 824.28,113.47" fill="none" stroke="#9a9a9a" stroke-width="1.12" opacity="0.71"/>
<path d="M876.29,84.93 Q855.84,69.14 851.07,56.22" fill="none" stroke="#c0c0c0" stroke-width="1.52" opacity="0.58"/>
<path d="M796.45,48.51 Q780.92,43.47 762.2,34.94" fill="none" stroke="#c0c0c0" stroke-width="1.5" opacity="0.79"/>
<path d="M939.75,10.11 Q926.59,1.35 905.54,8.48" fill="none" stroke="#9a9a9a" stroke-width="1.25" opacity="0.87"/>
<path d="M927.35,79.1 Q934.55,92.59 932.82,99.55" fill="none" stroke="#cccccc" stroke-width="1.28" opacity="0.59"/>
<path d="M823.22,149.87 Q831,139.06 832.99,144.91" fill="none" stroke="#9a9a9a" stroke-width="0.9" opacity="0.71"/>
<path d="M840.83,98.34 Q843.16,91.91 835.43,83" fill="none" stroke="#a8a8a8" stroke-width="1.78" opacity="0.77"/>
<path d="M924.14,109.24 Q917.39,105.64 922.16,85.7" fill="none" stroke="#c0c0c0" stroke-width="1.63" opacity="0.61"/>
<path d="M873.83,121.5 Q876.81,126.16 894.76,126.18" fill="none" stroke="#a8a8a8" stroke-width="1.26" opacity="0.58"/>
<path d="M971.67,51.95 Q977.47,66.83 970.34,74.06" fill="none" stroke="#9a9a9a" stroke-width="0.72" opacity="0.71"/>
<path d="M877.13,61.25 Q870.58,59.53 860.85,45.94" fill="none" stroke="#cccccc" stroke-width="1.11" opacity="0.78"/>
<path d="M1011.3,111.01 Q1008.93,109.83 991.1,91.59" fill="none" stroke="#c0c0c0" stroke-width="1.33" opacity="0.51"/>
<path d="M907.04,85.45 Q897.13,68.94 896.51,63.25" fill="none" stroke="#cccccc" stroke-width="1.14" opacity="0.83"/>
<path d="M849.79,29.34 Q848.91,26.72 833.15,30.98" fill="none" stroke="#9a9a9a" stroke-width="1.33" opacity="0.55"/>
<path d="M938.87,142.63 Q927.08,144.11 908.98,148.9" fill="none" stroke="#cccccc" stroke-width="1.51" opacity="0.48"/>
<path d="M950.34,106.25 Q951.78,112.98 945.7,135.37" fill="none" stroke="#a8a8a8" stroke-width="1.84" opacity="0.81"/>
<path d="M1011.62,70.2 Q1027.03,81.74 1027.43,86.82" fill="none" stroke="#9a9a9a" stroke-width="1.55" opacity="0.73"/>
<path d="M895.76,25.21 Q883.68,18.76 878.19,14.07" fill="none" stroke="#cccccc" stroke-width="1.72" opacity="0.83"/>
<path d="M825.42,40.82 Q813.03,26.54 807.94,30.25" fill="none" stroke="#c0c0c0" stroke-width="1.45" opacity="0.53"/>
<path d="M982.42,154.28 Q978.21,159.39 957.21,167.85" fill="none" stroke="#9a9a9a" stroke-width="1.17" opacity="0.76"/>
<path d="M821.09,16.91 Q837.53,10.26 848.8,-0.11" fill="none" stroke="#a8a8a8" stroke-width="1.35" opacity="0.62"/>
<path d="M821.4,169.51 Q805.58,164.94 792.4,170.21" fill="none" stroke="#c0c0c0" stroke-width="1.21" opacity="0.81"/>
<path d="M1017.19,74.89 Q1000.22,73.38 983.67,85.59" fill="none" stroke="#a8a8a8" stroke-width="1.97" opacity="0.66"/>
<path d="M1026.11,155.32 Q1029.27,139.47 1026.27,133.47" fill="none" stroke="#9a9a9a" stroke-width="1.29" opacity="0.67"/>
<path d="M886.52,8.45 Q904.58,4.91 909.02,5.57" fill="none" stroke="#b4b4b4" stroke-width="1.48" opacity="0.54"/>
<path d="M912,56.02 Q919.18,49.52 940.67,37.65" fill="none" stroke="#cccccc" stroke-width="1.7" opacity="0.52"/>
<path d="M929.74,25.75 Q917.81,28.74 911.08,35.04" fill="none" stroke="#cccccc" stroke-width="0.82" opacity="0.85"/>
<path d="M990.81,95.91 Q985,93.66 967.5,80.1" fill="none" stroke="#b4b4b4" stroke-width="1.93" opacity="0.79"/>
<path d="M899.38,92.89 Q896.98,86.39 899.79,80.59" fill="none" stroke="#a8a8a8" stroke-width="0.81" opacity="0.57"/>
<path d="M928.05,192.58 Q925.25,194.48 913.03,204.77" fill="none" stroke="#a8a8a8" stroke-width="1.44" opacity="0.59"/>
<path d="M962.34,118.66 Q977.04,115.9 982.42,119" fill="none" stroke="#9a9a9a" stroke-width="1.82" opacity="0.87"/>
<path d="M970.4,85.95 Q960.46,82.45 957.92,87.53" fill="none" stroke="#cccccc" stroke-width="1.52" opacity="0.79"/>
<path d="M893.28,126.56 Q890.46,137.44 886.82,134.74" fill="none" stroke="#c0c0c0" stroke-width="1.39" opacity="0.64"/>
<path d="M958.13,164.67 Q973.48,173.18 984.78,173.56" fill="none" stroke="#9a9a9a" stroke-width="1.94" opacity="0.8"/>
<path d="M890.95,49.61 Q883.11,45.88 870.97,50.05" fill="none" stroke="#cccccc" stroke-width="1.45" opacity="0.51"/>
<path d="M828,27.2 Q829.06,24.84 838.68,33.39" fill="none" stroke="#cccccc" stroke-width="1.34" opacity="0.8"/>
<path d="M928.08,27.95 Q926.18,37.55 918.16,37.07" fill="none" stroke="#9a9a9a" stroke-width="0.77" opacity="0.63"/>
<path d="M794.2,134.82 Q798.21,118.7 794.46,118.8" fill="none" stroke="#a8a8a8" stroke-width="1.1" opacity="0.64"/>
<path d="M980.3,115.5 Q983.22,110.8 981.47,90.29" fill="none" stroke="#a8a8a8" stroke-width="0.9" opacity="0.8"/>
<path d="M914.84,150.1 Q902.03,144.33 897.91,152.31" fill="none" stroke="#cccccc" stroke-width="1.06" opacity="0.9"/>
<path d="M1022.4,17.75 Q1030.4,11.63 1028.84,3.25" fill="none" stroke="#c0c0c0" stroke-width="1.4" opacity="0.47"/>
<path d="M940.86,126.5 Q956.08,122.06 975.44,107.6" fill="none" stroke="#9a9a9a" stroke-width="1.17" opacity="0.54"/>
<path d="M839.84,160.61 Q853.16,158.89 853.95,172.91" fill="none" stroke="#c0c0c0" stroke-width="1.38" opacity="0.53"/>
<path d="M822.48,35.93 Q806.5,32.25 804.03,29.49" fill="none" stroke="#b4b4b4" stroke-width="1.33" opacity="0.56"/>
<path d="M971.52,15.82 Q983.63,25.27 989.33,51.43" fill="none" stroke="#c0c0c0" stroke-width="1.83" opacity="0.65"/>
<path d="M873.31,126.08 Q858.88,126.27 853.56,139.09" fill="none" stroke="#9a9a9a" stroke-width="1.85" opacity="0.57"/>
<path d="M1004.87,117.31 Q983.74,117.71 972.35,102.82" fill="none" stroke="#c0c0c0" stroke-width="1.15" opacity="0.62"/>
<path d="M836.99,138.13 Q835.38,163.82 850.92,174.14" fill="none" stroke="#c0c0c0" stroke-width="1.09" opacity="0.68"/>
<path d="M940.95,44.86 Q928.23,55.4 928.35,72.18" fill="none" stroke="#cccccc" stroke-width="0.85" opacity="0.58"/>
<path d="M840.98,102.29 Q834.39,118.7 838.27,139.11" fill="none" stroke="#c0c0c0" stroke-width="1.03" opacity="0.85"/>
<path d="M994.48,141.11 Q999.66,154.57 996.76,162.8" fill="none" stroke="#cccccc" stroke-width="1.92" opacity="0.87"/>
<path d="M843.89,109.69 Q856.33,100.05 855.52,97.48" fill="none" stroke="#cccccc" stroke-width="1.19" opacity="0.87"/>
<path d="M1000.5,77.11 Q1015.94,74.56 1028.98,79.36" fill="none" stroke="#a8a8a8" stroke-width="1.24" opacity="0.69"/>
<path d="M844,143.91 Q844.9,138.32 829.98,140.74" fill="none" stroke="#a8a8a8" stroke-width="1.27" opacity="0.58"/>
<path d="M916.36,137.92 Q920.56,152.75 909.48,158.18" fill="none" stroke="#9a9a9a" stroke-width="1.02" opacity="0.77"/>
<path d="M834.39,182.96 Q818.78,193.46 820.04,192.93" fill="none" stroke="#b4b4b4" stroke-width="1.98" opacity="0.59"/>
<path d="M928.09,120.33 Q909.62,114.53 905.03,96.61" fill="none" stroke="#9a9a9a" stroke-width="1.68" opacity="0.56"/>
<path d="M804.03,18.83 Q809.93,16.37 811.94,10.82" fill="none" stroke="#cccccc" stroke-width="1.28" opacity="0.65"/>
<path d="M901.33,148.83 Q908.5,152.66 915.89,159.52" fill="none" stroke="#cccccc" stroke-width="1.09" opacity="0.5"/>
<path d="M988.67,156.29 Q976.62,158.66 981.52,166.69" fill="none" stroke="#9a9a9a" stroke-width="1.25" opacity="0.86"/>
<path d="M821.77,101.76 Q828.89,98.83 828.01,77.93" fill="none" stroke="#b4b4b4" stroke-width="1.81" opacity="0.56"/>
<path d="M915.76,70.47 Q904.12,80.56 879.06,82.72" fill="none" stroke="#c0c0c0" stroke-width="0.92" opacity="0.55"/>
<path d="M887.61,188.25 Q877.17,207.81 874.12,219.89" fill="none" stroke="#9a9a9a" stroke-width="1.99" opacity="0.71"/>
<path d="M933.04,36.98 Q931.14,36.89 942.7,23.81" fill="none" stroke="#cccccc" stroke-width="1.97" opacity="0.76"/>
<path d="M846.24,151.6 Q852.22,167.89 858.32,170.94" fill="none" stroke="#9a9a9a" stroke-width="1.64" opacity="0.77"/>
<path d="M797.55,73.34 Q807.46,67.54 809.36,47.84" fill="none" stroke="#b4b4b4" stroke-width="1.46" opacity="0.75"/>
<path d="M851.74,93.39 Q864.2,94.72 879.09,106.19" fill="none" stroke="#a8a8a8" stroke-width="1.52" opacity="0.58"/>
<path d="M987.21,111.19 Q985.45,100.47 969.25,97.73" fill="none" stroke="#b4b4b4" stroke-width="1.22" opacity="0.47"/>
<path d="M1017.39,192.71 Q1019.05,172.55 1010.84,165.67" fill="none" stroke="#c0c0c0" stroke-width="1.89" opacity="0.73"/>
<path d="M1016.56,23.53 Q1005.74,20.82 992.26,8.57" fill="none" stroke="#c0c0c0" stroke-width="1.73" opacity="0.71"/>
<path d="M855.19,187.74 Q854.42,186.16 847.83,196.63" fill="none" stroke="#c0c0c0" stroke-width="1.02" opacity="0.61"/>
<path d="M997.87,122.15 Q992.42,143.93 994.29,148.91" fill="none" stroke="#c0c0c0" stroke-width="1.28" opacity="0.57"/>
<path d="M842,176.87 Q848.18,167.11 857.05,160.61" fill="none" stroke="#b4b4b4" stroke-width="0.74" opacity="0.58"/>
<path d="M818.83,16.98 Q812.93,9.59 807.21,14.57" fill="none" stroke="#a8a8a8" stroke-width="1.83" opacity="0.68"/>
<path d="M1011.81,26.02 Q1019.93,26.82 1045.06,11.2" fill="none" stroke="#cccccc" stroke-width="1.19" opacity="0.56"/>
<path d="M843.55,33.57 Q851.22,20.34 841.41,13.53" fill="none" stroke="#b4b4b4" stroke-width="1.76" opacity="0.51"/>
<path d="M894.95,62.86 Q916.85,57.01 925.95,54.58" fill="none" stroke="#a8a8a8" stroke-width="1.38" opacity="0.71"/>
<path d="M841.58,90.84 Q827.1,111.85 819.79,117.11" fill="none" stroke="#9a9a9a" stroke-width="1.88" opacity="0.81"/>
<path d="M969.27,6.12 Q974.11,9.79 965.19,21.74" fill="none" stroke="#c0c0c0" stroke-width="0.83" opacity="0.55"/>
<path d="M976.16,83.3 Q983.52,77.46 986.26,64.3" fill="none" stroke="#a8a8a8" stroke-width="1.89" opacity="0.62"/>
<path d="M1008.13,174.57 Q999.95,164.86 987.46,152.32" fill="none" stroke="#a8a8a8" stroke-width="1.47" opacity="0.69"/>
<path d="M931.24,73.74 Q923.73,66.5 903.71,66.61" fill="none" stroke="#a8a8a8" stroke-width="1.88" opacity="0.68"/>
<path d="M943.06,178.21 Q926.6,173.64 913.89,162.53" fill="none" stroke="#c0c0c0" stroke-width="1.98" opacity="0.85"/>
<path d="M868.93,39.1 Q862.08,29.64 858.57,8.64" fill="none" stroke="#cccccc" stroke-width="0.7" opacity="0.83"/>
<path d="M1000.95,49.43 Q1012.03,47.87 1010.54,34.31" fill="none" stroke="#9a9a9a" stroke-width="1.68" opacity="0.47"/>
<path d="M906.78,7.64 Q909.37,16.11 913.6,31.67" fill="none" stroke="#c0c0c0" stroke-width="1.71" opacity="0.71"/>
<path d="M792.13,187.45 Q801.62,199.05 797.26,198.91" fill="none" stroke="#9a9a9a" stroke-width="1.33" opacity="0.88"/>
<path d="M869.49,165.4 Q879.62,173.13 886.25,182.37" fill="none" stroke="#b4b4b4" stroke-width="1.77" opacity="0.72"/>
<path d="M991.45,148.92 Q1014.6,134.55 1024.32,131.5" fill="none" stroke="#b4b4b4" stroke-width="0.94" opacity="0.78"/>
<path d="M901.9,82.73 Q901.54,57.67 903.96,46.96" fill="none" stroke="#9a9a9a" stroke-width="1.4" opacity="0.87"/>
<path d="M864.05,129.69 Q867.63,122.73 873.66,108.08" fill="none" stroke="#a8a8a8" stroke-width="1.06" opacity="0.7"/>
<path d="M920.64,158.68 Q915.35,148.66 915.9,121.38" fill="none" stroke="#b4b4b4" stroke-width="1.37" opacity="0.58"/>
<path d="M941.14,167.73 Q940.67,181.75 928.42,182.92" fill="none" stroke="#c0c0c0" stroke-width="1.14" opacity="0.87"/>
<path d="M805.29,192.78 Q798.32,192.27 803.24,181.11" fill="none" stroke="#9a9a9a" stroke-width="0.83" opacity="0.73"/>
<path d="M995.83,131.68 Q1006.36,116.28 1028.52,115.81" fill="none" stroke="#9a9a9a" stroke-width="1.02" opacity="0.84"/>
<path d="M1019.54,78.47 Q1020.59,63.58 1021.23,62.25" fill="none" stroke="#b4b4b4" stroke-width="0.88" opacity="0.64"/>
<path d="M795.82,190.8 Q783.33,189.23 780.74,177.45" fill="none" stroke="#c0c0c0" stroke-width="0.79" opacity="0.88"/>
<path d="M888.91,12.97 Q878.76,0.56 881.35,-6.36" fill="none" stroke="#a8a8a8" stroke-width="1.58" opacity="0.55"/>
<path d="M825.25,134.48 Q836.23,153.98 838.08,171.02" fill="none" stroke="#c0c0c0" stroke-width="1.15" opacity="0.63"/>
<path d="M876.25,98.62 Q883.45,91.03 890.99,95.41" fill="none" stroke="#b4b4b4" stroke-width="1.1" opacity="0.48"/>
<path d="M1012.06,61.91 Q1026.68,65.09 1031.81,72.89" fill="none" stroke="#b4b4b4" stroke-width="1.92" opacity="0.75"/>
<path d="M1001.65,116.94 Q1010.3,130.2 1027.76,132.35" fill="none" stroke="#c0c0c0" stroke-width="1.81" opacity="0.79"/>
<path d="M814.93,168.74 Q835.55,159.83 844.02,150.81" fill="none" stroke="#a8a8a8" stroke-width="1.5" opacity="0.65"/>
<path d="M1023.11,18.46 Q1023.06,16.44 1032.29,8.74" fill="none" stroke="#9a9a9a" stroke-width="0.74" opacity="0.85"/>
<path d="M863.42,148.98 Q862.02,138.97 873.5,117.18" fill="none" stroke="#9a9a9a" stroke-width="0.82" opacity="0.65"/>
<path d="M806.15,90.27 Q810.16,107.36 800.93,115.62" fill="none" stroke="#cccccc" stroke-width="0.77" opacity="0.67"/>
<path d="M889.87,142.85 Q900.26,136.47 897.61,136.17" fill="none" stroke="#9a9a9a" stroke-width="0.83" opacity="0.56"/>
<path d="M897.67,110.58 Q916.9,118.56 922.8,115.93" fill="none" stroke="#9a9a9a" stroke-width="1.11" opacity="0.74"/>
<path d="M994.19,140.28 Q992.83,137.02 983.23,130.18" fill="none" stroke="#c0c0c0" stroke-width="1.3" opacity="0.47"/>
<path d="M851.08,117.48 Q854.97,119.24 862.12,133.88" fill="none" stroke="#b4b4b4" stroke-width="0.75" opacity="0.59"/>
<path d="M803.1,8.3 Q799.58,-9.47 781.11,-14.62" fill="none" stroke="#b4b4b4" stroke-width="1.7" opacity="0.81"/>
<path d="M888.84,186.88 Q876.84,184.74 875.05,174.89" fill="none" stroke="#cccccc" stroke-width="1.65" opacity="0.58"/>
<path d="M896.49,91.84 Q908.65,100.68 921.42,107.44" fill="none" stroke="#9a9a9a" stroke-width="1.25" opacity="0.54"/>
<path d="M854.19,13.82 Q840.69,33.87 828.74,36.45" fill="none" stroke="#9a9a9a" stroke-width="0.82" opacity="0.64"/>
<path d="M876.94,86.81 Q877.05,80.72 874.6,64.72" fill="none" stroke="#a8a8a8" stroke-width="0.79" opacity="0.59"/>
<path d="M809.3,168.55 Q807.13,177.58 805.36,178.05" fill="none" stroke="#a8a8a8" stroke-width="1.65" opacity="0.83"/>
<path d="M998.47,103.01 Q992.42,88.15 985.08,87.24" fill="none" stroke="#9a9a9a" stroke-width="1.25" opacity="0.67"/>
<path d="M814.69,102.58 Q813.6,118.59 827.84,139.84" fill="none" stroke="#9a9a9a" stroke-width="0.91" opacity="0.88"/>
<path d="M959.16,6.39 Q979.2,-0.95 990.25,2.98" fill="none" stroke="#b4b4b4" stroke-width="0.91" opacity="0.75"/>
<path d="M995.68,110.42 Q992.53,115.6 971.45,117.33" fill="none" stroke="#a8a8a8" stroke-width="1.36" opacity="0.73"/>
<path d="M972.63,68.38 Q973.47,48.84 983.5,38.95" fill="none" stroke="#c0c0c0" stroke-width="1.58" opacity="0.57"/>
<path d="M972,180 Q957.87,182.34 958.96,188.47" fill="none" stroke="#a8a8a8" stroke-width="1.37" opacity="0.7"/>
<path d="M995.16,25.51 Q971.36,26.18 956.73,22.66" fill="none" stroke="#b4b4b4" stroke-width="0.81" opacity="0.82"/>
<path d="M863.07,67.03 Q853.52,69.3 826.68,56.67" fill="none" stroke="#cccccc" stroke-width="1.29" opacity="0.84"/>
<path d="M802.12,49.68 Q798.04,48.61 782.58,61.16" fill="none" stroke="#9a9a9a" stroke-width="0.76" opacity="0.53"/>
<path d="M915.95,85.11 Q923.2,85.97 925.03,71.47" fill="none" stroke="#9a9a9a" stroke-width="1.04" opacity="0.79"/>
<path d="M929.4,144.23 Q933.52,129.11 928.99,129.68" fill="none" stroke="#b4b4b4" stroke-width="1.98" opacity="0.79"/>
<path d="M934.5,60.34 Q928.63,71.23 920,70.18" fill="none" stroke="#cccccc" stroke-width="1.43" opacity="0.89"/>
<path d="M878.52,26.55 Q898.05,37.32 901.42,32.21" fill="none" stroke="#c0c0c0" stroke-width="1" opacity="0.62"/>
<path d="M841.06,88.39 Q842.16,77.84 842.5,77.56" fill="none" stroke="#cccccc" stroke-width="0.83" opacity="0.67"/>
<path d="M897.02,97.23 Q893.55,116.64 903.65,125.46" fill="none" stroke="#c0c0c0" stroke-width="1.35" opacity="0.69"/>
<path d="M907.77,45.73 Q894.52,42.82 891.92,50.1" fill="none" stroke="#c0c0c0" stroke-width="0.87" opacity="0.5"/>
<path d="M849.03,146.82 Q831.55,135.3 823.83,116.38" fill="none" stroke="#b4b4b4" stroke-width="1.35" opacity="0.66"/>
<path d="M829.62,82.85 Q822.49,86.48 820.31,95.37" fill="none" stroke="#9a9a9a" stroke-width="1" opacity="0.49"/>
<path d="M893.62,113.61 Q896.9,123.54 883.42,129.95" fill="none" stroke="#cccccc" stroke-width="0.79" opacity="0.6"/>
<path d="M1022.36,59.05 Q1012.06,41.68 1019.61,25.1" fill="none" stroke="#b4b4b4" stroke-width="0.83" opacity="0.57"/>
<path d="M965.64,158.86 Q973.26,161.16 991.78,152.11" fill="none" stroke="#a8a8a8" stroke-width="1.77" opacity="0.76"/>
<path d="M880.51,117.39 Q874.74,127.64 851.83,132.17" fill="none" stroke="#a8a8a8" stroke-width="1.19" opacity="0.67"/>
<path d="M900.4,70.37 Q898.33,70.49 888.37,76.65" fill="none" stroke="#cccccc" stroke-width="1.48" opacity="0.55"/>
<path d="M811.56,87.86 Q794.05,81.93 780.24,81.92" fill="none" stroke="#9a9a9a" stroke-width="1.88" opacity="0.54"/>
<path d="M995.21,69.86 Q1011.76,83.02 1027.34,80.65" fill="none" stroke="#c0c0c0" stroke-width="1.41" opacity="0.73"/>
<path d="M1026.18,124.98 Q1041.88,115.82 1059.16,117.35" fill="none" stroke="#c0c0c0" stroke-width="1.62" opacity="0.54"/>
<path d="M882.92,189.04 Q896.22,198.41 892.62,196.53" fill="none" stroke="#cccccc" stroke-width="0.93" opacity="0.62"/>
<path d="M921.74,95.31 Q910.73,96.75 900.36,99.51" fill="none" stroke="#9a9a9a" stroke-width="1.39" opacity="0.75"/>
<path d="M978.46,97.06 Q969.7,78.77 955.25,77.61" fill="none" stroke="#9a9a9a" stroke-width="1.5" opacity="0.48"/>
<path d="M930.63,141.23 Q917.29,159.82 918.92,165.64" fill="none" stroke="#c0c0c0" stroke-width="0.87" opacity="0.56"/>
<path d="M884.44,107.57 Q886.34,105.53 899.24,102.37" fill="none" stroke="#a8a8a8" stroke-width="1.35" opacity="0.76"/>
<path d="M983.04,36.43 Q992.41,26.71 1004.49,11.95" fill="none" stroke="#9a9a9a" stroke-width="0.84" opacity="0.7"/>
<path d="M831.09,13.53 Q838.55,-3.34 860.04,-9.9" fill="none" stroke="#c0c0c0" stroke-width="1.06" opacity="0.67"/>
<path d="M914.66,98.76 Q926.49,113.69 921.77,136.59" fill="none" stroke="#a8a8a8" stroke-width="0.87" opacity="0.83"/>
<path d="M900.34,142.46 Q893.28,169.76 895.55,179.37" fill="none" stroke="#9a9a9a" stroke-width="1.3" opacity="0.83"/>
<path d="M969.04,164.47 Q977.14,166.67 981.96,183.14" fill="none" stroke="#b4b4b4" stroke-width="1.19" opacity="0.75"/>
<path d="M804.4,59.75 Q802.45,58.43 809.38,74.19" fill="none" stroke="#cccccc" stroke-width="1.76" opacity="0.84"/>
<path d="M927.62,45.36 Q952.19,39.93 962.95,45.29" fill="none" stroke="#b4b4b4" stroke-width="1.82" opacity="0.64"/>
<path d="M900.48,53.33 Q896.83,43.56 899.82,35.79" fill="none" stroke="#9a9a9a" stroke-width="1.07" opacity="0.68"/>
<path d="M810.93,179.84 Q822.25,167.16 838.5,158.04" fill="none" stroke="#9a9a9a" stroke-width="1.49" opacity="0.8"/>
<path d="M865.28,64.96 Q866.78,61.41 885.78,70.87" fill="none" stroke="#9a9a9a" stroke-width="0.78" opacity="0.89"/>
<path d="M996.36,63.64 Q985.57,56.19 986.25,64.69" fill="none" stroke="#b4b4b4" stroke-width="1.14" opacity="0.85"/>
<path d="M839.02,165.65 Q838.8,172.55 844.87,181.79" fill="none" stroke="#9a9a9a" stroke-width="1.01" opacity="0.55"/>
<path d="M852.02,101.1 Q857.07,115.38 866.4,119.37" fill="none" stroke="#9a9a9a" stroke-width="1.87" opacity="0.81"/>
<path d="M917.7,137.42 Q921.74,146.44 925.16,172.53" fill="none" stroke="#b4b4b4" stroke-width="1.78" opacity="0.65"/>
<path d="M1000.64,13.49 Q1011.05,10.46 1013.77,13.43" fill="none" stroke="#b4b4b4" stroke-width="1.12" opacity="0.87"/>
<path d="M907.32,140.27 Q908.08,142.07 894.23,128.85" fill="none" stroke="#a8a8a8" stroke-width="1.23" opacity="0.85"/>
<path d="M951.66,63.97 Q957.68,72.17 952.03,81.48" fill="none" stroke="#a8a8a8" stroke-width="1.11" opacity="0.46"/>
<path d="M918.4,170.83 Q918.65,152.33 906.35,150.1" fill="none" stroke="#a8a8a8" stroke-width="1.59" opacity="0.62"/>
<path d="M928,62.19 Q916.28,66.96 893.53,71.51" fill="none" stroke="#a8a8a8" stroke-width="1.9" opacity="0.6"/>
<path d="M837.63,70.63 Q838.63,85.92 832.99,91.62" fill="none" stroke="#cccccc" stroke-width="1.86" opacity="0.7"/>
<path d="M899.86,63.68 Q892.37,66.46 901.15,52.58" fill="none" stroke="#cccccc" stroke-width="1.67" opacity="0.65"/>
<path d="M920.97,126.88 Q913.92,116.8 911.79,105.95" fill="none" stroke="#cccccc" stroke-width="1.19" opacity="0.59"/>
<path d="M978.66,27.46 Q983.14,20.43 969.86,8.19" fill="none" stroke="#cccccc" stroke-width="1.35" opacity="0.53"/>
<path d="M871.77,63.89 Q857.12,73.75 859.71,65.7" fill="none" stroke="#9a9a9a" stroke-width="0.83" opacity="0.49"/>
<path d="M850,49.65 Q854.1,54.49 866.4,66.47" fill="none" stroke="#a8a8a8" stroke-width="1.6" opacity="0.48"/>
<path d="M1006.55,177.49 Q1027.72,194.16 1034,198.55" fill="none" stroke="#c0c0c0" stroke-width="1.1" opacity="0.74"/>
<path d="M976.83,163.13 Q965.17,149.97 947.74,141.03" fill="none" stroke="#cccccc" stroke-width="1.23" opacity="0.5"/>
<path d="M1009.12,75.55 Q1019.22,61.36 1019.18,40.36" fill="none" stroke="#b4b4b4" stroke-width="1.45" opacity="0.62"/>
<path d="M962.71,173.12 Q957.37,169.48 949.46,182.81" fill="none" stroke="#c0c0c0" stroke-width="1.42" opacity="0.76"/>
<path d="M953.33,51.28 Q961.71,35 975.25,32.89" fill="none" stroke="#a8a8a8" stroke-width="0.72" opacity="0.62"/>
<path d="M896.14,72.69 Q875.16,70.1 865.07,75.59" fill="none" stroke="#c0c0c0" stroke-width="1.1" opacity="0.5"/>
<path d="M827.86,115.39 Q812.19,128.87 806.21,136.89" fill="none" stroke="#b4b4b4" stroke-width="1.09" opacity="0.85"/>
<path d="M961.41,20.37 Q969.03,5.11 970.75,0.06" fill="none" stroke="#cccccc" stroke-width="0.83" opacity="0.55"/>
<path d="M838.58,75.92 Q838.67,82.07 828.76,92.49" fill="none" stroke="#cccccc" stroke-width="1.61" opacity="0.85"/>
<path d="M893.7,69.04 Q868.63,62.65 858.71,49.73" fill="none" stroke="#9a9a9a" stroke-width="1.42" opacity="0.51"/>
<path d="M1029.55,67.17 Q1033.36,62.05 1050.92,55.73" fill="none" stroke="#b4b4b4" stroke-width="0.81" opacity="0.88"/>
<path d="M870.45,193.13 Q887.88,194.76 891.5,195.99" fill="none" stroke="#cccccc" stroke-width="1.75" opacity="0.49"/>
<path d="M839.44,113.52 Q842.88,124.22 836.02,140.99" fill="none" stroke="#b4b4b4" stroke-width="1.83" opacity="0.66"/>
<path d="M923.67,162.07 Q917.52,137.01 928.06,126.3" fill="none" stroke="#c0c0c0" stroke-width="1.1" opacity="0.53"/>
<path d="M844.94,133.17 Q837.39,115.05 840.75,109.79" fill="none" stroke="#a8a8a8" stroke-width="0.82" opacity="0.87"/>
<path d="M840.43,104.18 Q831.35,104.64 808.66,113.5" fill="none" stroke="#cccccc" stroke-width="1.95" opacity="0.45"/>
<path d="M822.15,100.55 Q806.8,95.28 801.66,98.44" fill="none" stroke="#c0c0c0" stroke-width="1.34" opacity="0.64"/>
<path d="M967.63,144.11 Q969.33,123.57 977.94,112.22" fill="none" stroke="#cccccc" stroke-width="1.88" opacity="0.69"/>
<path d="M950.37,21.65 Q966.87,5.52 974.43,-4.6" fill="none" stroke="#b4b4b4" stroke-width="1.11" opacity="0.45"/>
<path d="M934.33,109.23 Q942.76,122.71 954.36,134.48" fill="none" stroke="#cccccc" stroke-width="1.41" opacity="0.85"/>
<path d="M845.66,68.42 Q843.23,53.44 839.37,55.17" fill="none" stroke="#a8a8a8" stroke-width="1.72" opacity="0.46"/>
<path d="M843.54,64.84 Q860.53,80.42 863.31,80.79" fill="none" stroke="#cccccc" stroke-width="0.83" opacity="0.54"/>
<path d="M968.24,118.54 Q975.7,110.45 988.24,95.59" fill="none" stroke="#cccccc" stroke-width="0.81" opacity="0.79"/>
<path d="M874.93,64.46 Q862.28,51.7 845.86,56.5" fill="none" stroke="#a8a8a8" stroke-width="1.56" opacity="0.84"/>
<path d="M950.47,129.94 Q956.95,136.71 947.82,150.16" fill="none" stroke="#a8a8a8" stroke-width="1.04" opacity="0.66"/>
<path d="M1021.46,126.61 Q1014.46,119.31 1011.26,125.3" fill="none" stroke="#cccccc" stroke-width="0.7" opacity="0.51"/>
<path d="M937.76,181.49 Q946.63,172.5 940.16,164.98" fill="none" stroke="#c0c0c0" stroke-width="0.89" opacity="0.73"/>
<path d="M999.01,62.35 Q994.15,51.55 1002.71,33.36" fill="none" stroke="#b4b4b4" stroke-width="1.65" opacity="0.88"/>
<path d="M831.7,86.6 Q834.84,77.19 841.5,70.17" fill="none" stroke="#a8a8a8" stroke-width="1.47" opacity="0.89"/>
<path d="M800.67,75.45 Q796.7,82.36 785.99,77.82" fill="none" stroke="#c0c0c0" stroke-width="0.92" opacity="0.53"/>
<path d="M948.5,22.56 Q939.96,32.49 933.25,25.21" fill="none" stroke="#a8a8a8" stroke-width="0.75" opacity="0.68"/>
<path d="M877.17,193.19 Q858.61,182.23 843.02,176.79" fill="none" stroke="#cccccc" stroke-width="1.98" opacity="0.52"/>
<path d="M929.25,109.47 Q929.25,102.16 934.89,85.05" fill="none" stroke="#c0c0c0" stroke-width="0.99" opacity="0.58"/>
<path d="M834.39,124.49 Q837.77,124.35 829.58,137.53" fill="none" stroke="#cccccc" stroke-width="1.13" opacity="0.75"/>
<path d="M1026.37,51.27 Q1034.23,43.54 1040.82,37.5" fill="none" stroke="#cccccc" stroke-width="1.63" opacity="0.67"/>
<path d="M989.14,35.44 Q1005.09,21.09 1005.53,9.75" fill="none" stroke="#c0c0c0" stroke-width="0.94" opacity="0.72"/>
<path d="M853.11,75.82 Q858.54,74.68 869.98,67.85" fill="none" stroke="#cccccc" stroke-width="1.75" opacity="0.52"/>
<path d="M1025.06,180.96 Q1031.15,180.15 1038.96,194.26" fill="none" stroke="#cccccc" stroke-width="0.96" opacity="0.77"/>
<path d="M835.2,91.09 Q846.84,101.15 847.16,103.36" fill="none" stroke="#c0c0c0" stroke-width="1.77" opacity="0.9"/>
<path d="M942.5,41.62 Q953.49,45.29 968.41,49.94" fill="none" stroke="#c0c0c0" stroke-width="1.06" opacity="0.57"/>
<path d="M920.37,69.38 Q915.33,72.03 902.33,61.08" fill="none" stroke="#cccccc" stroke-width="1.25" opacity="0.61"/>
<path d="M795.12,102.83 Q804.66,102.17 798.2,84.83" fill="none" stroke="#cccccc" stroke-width="1.69" opacity="0.87"/>
<path d="M915.77,114.99 Q916.71,118.57 926.45,130.93" fill="none" stroke="#c0c0c0" stroke-width="1.13" opacity="0.52"/>
<path d="M1017.35,170.41 Q1004.32,176.7 1004.97,166.04" fill="none" stroke="#cccccc" stroke-width="1.18" opacity="0.7"/>
<path d="M850.15,39.26 Q841.62,34.78 816.19,33.41" fill="none" stroke="#a8a8a8" stroke-width="0.74" opacity="0.63"/>
<path d="M801.88,188.92 Q803.65,171.06 796.87,170.25" fill="none" stroke="#c0c0c0" stroke-width="1.52" opacity="0.79"/>
<path d="M841.02,72.49 Q831.28,63.08 813.52,63.56" fill="none" stroke="#a8a8a8" stroke-width="1.98" opacity="0.67"/>
<path d="M807.85,169.77 Q823.84,167.08 826.91,166.86" fill="none" stroke="#b4b4b4" stroke-width="0.77" opacity="0.81"/>
<path d="M991.59,37.47 Q999.94,41.23 1020.04,61.25" fill="none" stroke="#b4b4b4" stroke-width="1.69" opacity="0.86"/>
<path d="M1020.47,172.49 Q1026.45,182.56 1029.97,177.95" fill="none" stroke="#9a9a9a" stroke-width="1.21" opacity="0.68"/>
<path d="M842.86,87.6 Q843.99,85.75 852.98,72.61" fill="none" stroke="#b4b4b4" stroke-width="1.14" opacity="0.62"/>
<path d="M815.95,178.66 Q788.44,182.31 777.29,187.11" fill="none" stroke="#9a9a9a" stroke-width="1.55" opacity="0.57"/>
<path d="M929.04,90.01 Q943.48,82.12 956.8,66.82" fill="none" stroke="#a8a8a8" stroke-width="1.31" opacity="0.83"/>
<path d="M811.78,114.17 Q813,109.83 821.04,108.46" fill="none" stroke="#cccccc" stroke-width="1.1" opacity="0.81"/>
<path d="M800,142.58 Q807.85,144.11 809.68,148.47" fill="none" stroke="#a8a8a8" stroke-width="1.56" opacity="0.63"/>
<path d="M993.19,16.42 Q997.15,14.29 1003,24.12" fill="none" stroke="#a8a8a8" stroke-width="1.71" opacity="0.57"/>
<path d="M862.32,9.75 Q841.42,-3.76 834.28,-1.75" fill="none" stroke="#b4b4b4" stroke-width="1.62" opacity="0.5"/>
<path d="M843.56,108.96 Q868.15,108.43 880.46,110.21" fill="none" stroke="#9a9a9a" stroke-width="1.88" opacity="0.54"/>
<path d="M941.15,185.6 Q949.56,167.03 943.78,148.27" fill="none" stroke="#a8a8a8" stroke-width="1.12" opacity="0.78"/>
<path d="M997.28,182.27 Q1005.56,190.37 1016.1,208.71" fill="none" stroke="#a8a8a8" stroke-width="1.97" opacity="0.84"/>
<path d="M931.45,14.17 Q937.31,10.73 953.55,12.15" fill="none" stroke="#c0c0c0" stroke-width="0.72" opacity="0.48"/>
<path d="M806.95,19.77 Q816.79,10.19 810.32,6.89" fill="none" stroke="#b4b4b4" stroke-width="1.02" opacity="0.72"/>
<path d="M904.46,47.14 Q917.75,64.2 917.75,84.43" fill="none" stroke="#a8a8a8" stroke-width="1.61" opacity="0.62"/>
<path d="M985.83,164.98 Q973.23,175.71 965.77,196.64" fill="none" stroke="#a8a8a8" stroke-width="1.99" opacity="0.6"/>
<path d="M816.55,30.92 Q815.74,15.51 827.23,13.2" fill="none" stroke="#9a9a9a" stroke-width="1.29" opacity="0.72"/>
<path d="M1007.69,9.22 Q1018.07,13.91 1027.05,10.08" fill="none" stroke="#a8a8a8" stroke-width="1.61" opacity="0.71"/>
<path d="M905.58,47.7 Q888.95,61.61 889.36,61.47" fill="none" stroke="#c0c0c0" stroke-width="1.27" opacity="0.56"/>
<path d="M840.95,91.29 Q822.45,92.66 806.74,110.47" fill="none" stroke="#9a9a9a" stroke-width="1.58" opacity="0.86"/>
<path d="M936.98,10.1 Q944,25.35 960.37,30.2" fill="none" stroke="#a8a8a8" stroke-width="1.86" opacity="0.7"/>
<path d="M968.48,63.2 Q962.39,70.46 952.72,67.5" fill="none" stroke="#cccccc" stroke-width="1.31" opacity="0.64"/>
<path d="M1014.44,57.27 Q1018.62,32.63 1019.08,18.84" fill="none" stroke="#b4b4b4" stroke-width="0.7" opacity="0.79"/>
<path d="M795.71,98.44 Q803.94,81.84 813.77,71.31" fill="none" stroke="#c0c0c0" stroke-width="1.92" opacity="0.62"/>
<path d="M877.02,24.67 Q869.44,9.11 866.48,4.29" fill="none" stroke="#9a9a9a" stroke-width="0.81" opacity="0.67"/>
<path d="M986.02,24.44 Q992.91,29.06 994.34,35.71" fill="none" stroke="#a8a8a8" stroke-width="1.81" opacity="0.74"/>
<path d="M873.41,20.21 Q865.37,25.55 870.66,33.99" fill="none" stroke="#cccccc" stroke-width="1.2" opacity="0.55"/>
<path d="M880.48,98.42 Q895,92.86 912.92,95.09" fill="none" stroke="#9a9a9a" stroke-width="1.96" opacity="0.86"/>
<path d="M807.55,174.78 Q812.31,175.19 824.09,185.14" fill="none" stroke="#c0c0c0" stroke-width="0.89" opacity="0.78"/>
<path d="M889.03,167.31 Q885.3,186.8 890.77,205.07" fill="none" stroke="#a8a8a8" stroke-width="0.98" opacity="0.88"/>
<path d="M985.69,95.09 Q983.1,89.24 997.04,94.96" fill="none" stroke="#b4b4b4" stroke-width="1.76" opacity="0.6"/>
<path d="M1005.05,80.92 Q995.96,72.63 977.56,62.07" fill="none" stroke="#b4b4b4" stroke-width="1.97" opacity="0.85"/>
<path d="M1011.81,17.62 Q1023.23,16.42 1032.79,-0.51" fill="none" stroke="#a8a8a8" stroke-width="1.98" opacity="0.68"/>
<path d="M945.02,120.44 Q931.23,113.32 917.65,109.18" fill="none" stroke="#b4b4b4" stroke-width="1.2" opacity="0.73"/>
<path d="M1018.72,60.69 Q1015.19,59.63 1025.73,68.28" fill="none" stroke="#c0c0c0" stroke-width="1.96" opacity="0.55"/>
<path d="M838.28,106.69 Q850.56,104.52 845.74,117.14" fill="none" stroke="#c0c0c0" stroke-width="1.88" opacity="0.81"/>
<path d="M857.74,175.93 Q865.23,168.53 871.09,177.58" fill="none" stroke="#9a9a9a" stroke-width="0.99" opacity="0.68"/>
<path d="M842.71,134.77 Q848.37,129.93 859.11,134.01" fill="none" stroke="#c0c0c0" stroke-width="1" opacity="0.88"/>
<path d="M807.81,16.36 Q815.57,26.77 831.71,46.52" fill="none" stroke="#b4b4b4" stroke-width="1.91" opacity="0.67"/>
<path d="M802.07,13.22 Q825.08,24.71 831.48,37.33" fill="none" stroke="#a8a8a8" stroke-width="1.17" opacity="0.87"/>
<path d="M918.68,19.25 Q935.17,25.2 933.93,48.38" fill="none" stroke="#a8a8a8" stroke-width="1.98" opacity="0.89"/>
<path d="M819.82,29.32 Q818.65,48.02 828.33,61.32" fill="none" stroke="#c0c0c0" stroke-width="1.92" opacity="0.85"/>
<path d="M859.87,191.52 Q856.66,207.38 855.67,210.81" fill="none" stroke="#9a9a9a" stroke-width="1.73" opacity="0.65"/>
<path d="M817.74,52.89 Q839.26,53.44 850.45,45.38" fill="none" stroke="#c0c0c0" stroke-width="1.13" opacity="0.75"/>
<path d="M920.63,11.88 Q915.62,4.54 926.39,3.21" fill="none" stroke="#a8a8a8" stroke-width="1.65" opacity="0.64"/>
<path d="M913.11,166.72 Q925.3,166.16 948.45,177.93" fill="none" stroke="#cccccc" stroke-width="1.24" opacity="0.72"/>
<path d="M898.04,16.78 Q903.89,16.8 905.7,24.55" fill="none" stroke="#cccccc" stroke-width="1.19" opacity="0.89"/>
<path d="M935.3,21.87 Q925.69,7.91 918.94,6.64" fill="none" stroke="#a8a8a8" stroke-width="0.8" opacity="0.6"/>
<path d="M873.49,60.94 Q887.98,72.3 893.66,66.31" fill="none" stroke="#cccccc" stroke-width="1.83" opacity="0.54"/>
<path d="M803.87,117.15 Q808.49,113.83 814.76,115.26" fill="none" stroke="#c0c0c0" stroke-width="1.74" opacity="0.79"/>
<path d="M980.28,8.33 Q972.3,-17.17 970.88,-25.96" fill="none" stroke="#a8a8a8" stroke-width="1.87" opacity="0.46"/>
<path d="M924.35,62.11 Q927.72,55.96 918.38,38.14" fill="none" stroke="#a8a8a8" stroke-width="0.79" opacity="0.72"/>
<path d="M823.62,142.54 Q803.07,151.1 787.2,151.17" fill="none" stroke="#c0c0c0" stroke-width="1.81" opacity="0.8"/>
<path d="M957.22,121.3 Q958.14,130.89 968.74,125.5" fill="none" stroke="#b4b4b4" stroke-width="1.97" opacity="0.59"/>
<path d="M852.53,181.2 Q848.31,191.6 828.71,184.77" fill="none" stroke="#9a9a9a" stroke-width="1.1" opacity="0.47"/>
<path d="M877.37,129.44 Q864.35,130.96 863.56,126" fill="none" stroke="#9a9a9a" stroke-width="1.28" opacity="0.59"/>
<path d="M805.74,84.07 Q801.42,87.49 804.96,73.15" fill="none" stroke="#b4b4b4" stroke-width="1.43" opacity="0.72"/>
<path d="M894.32,61.54 Q888.66,85.47 885.36,98.36" fill="none" stroke="#c0c0c0" stroke-width="1.61" opacity="0.75"/>
<path d="M988.56,82.65 Q1003.09,85.06 1014.94,70.68" fill="none" stroke="#cccccc" stroke-width="1.25" opacity="0.87"/>
<path d="M968.42,135.23 Q980.26,133.97 993.55,145.93" fill="none" stroke="#c0c0c0" stroke-width="1.21" opacity="0.66"/>
<path d="M946.66,31.46 Q941.07,43.38 950.96,52.28" fill="none" stroke="#b4b4b4" stroke-width="1.87" opacity="0.73"/>
<path d="M844.03,178.12 Q823.51,161.17 814.64,160.08" fill="none" stroke="#a8a8a8" stroke-width="1.14" opacity="0.73"/>
<path d="M939.98,72.94 Q924.71,74.67 926.94,69.99" fill="none" stroke="#a8a8a8" stroke-width="1.3" opacity="0.47"/>
<path d="M935.03,177.04 Q950.32,173.53 963.13,188.01" fill="none" stroke="#b4b4b4" stroke-width="1.97" opacity="0.89"/>
<path d="M965.2,43.9 Q950.39,59.8 953.35,63.33" fill="none" stroke="#a8a8a8" stroke-width="1.01" opacity="0.69"/>
<path d="M878.92,141.2 Q877.9,141.69 867.21,150.27" fill="none" stroke="#c0c0c0" stroke-width="1.47" opacity="0.71"/>
<path d="M917.13,56.1 Q895.05,62.26 888.16,83.02" fill="none" stroke="#cccccc" stroke-width="1.46" opacity="0.65"/>
<path d="M1004.42,27.71 Q1008.34,34.6 1003.14,45.62" fill="none" stroke="#9a9a9a" stroke-width="1.3" opacity="0.88"/>
<path d="M978.44,11.29 Q957.9,-1.69 948.18,-5.62" fill="none" stroke="#a8a8a8" stroke-width="1.35" opacity="0.82"/>
<path d="M833.67,31.39 Q831.41,36.62 836.84,51.79" fill="none" stroke="#a8a8a8" stroke-width="1.53" opacity="0.56"/>
<path d="M926.9,112.73 Q933.61,133.38 923.13,137.57" fill="none" stroke="#cccccc" stroke-width="1.09" opacity="0.51"/>
<path d="M925.5,56.92 Q922.73,47.49 916.35,37.14" fill="none" stroke="#c0c0c0" stroke-width="1.02" opacity="0.83"/>
<path d="M835.11,110.21 Q829.48,103.71 830.78,100.51" fill="none" stroke="#a8a8a8" stroke-width="1.54" opacity="0.74"/>
<path d="M956.73,121.66 Q972.55,103.74 972.73,102.48" fill="none" stroke="#cccccc" stroke-width="1.49" opacity="0.86"/>
<path d="M889.78,185.05 Q893.89,188.54 884.16,206.75" fill="none" stroke="#c0c0c0" stroke-width="1.2" opacity="0.51"/>
<path d="M908.36,37.05 Q897.2,24.62 882.87,19.68" fill="none" stroke="#a8a8a8" stroke-width="1.67" opacity="0.47"/>
<path d="M972.17,58.79 Q960.24,65.56 937.45,62.65" fill="none" stroke="#a8a8a8" stroke-width="1.48" opacity="0.57"/>
<path d="M986.58,115.56 Q1000.53,127.54 1005.79,136.49" fill="none" stroke="#9a9a9a" stroke-width="1.27" opacity="0.79"/>
<path d="M982.73,57.34 Q979.29,73.35 991.8,81.19" fill="none" stroke="#b4b4b4" stroke-width="1.25" opacity="0.45"/>
<path d="M797.23,158.81 Q816.29,152.58 819.8,161.46" fill="none" stroke="#cccccc" stroke-width="0.77" opacity="0.8"/>
<path d="M854.04,72.05 Q856.48,76.31 864.59,65.16" fill="none" stroke="#c0c0c0" stroke-width="1.18" opacity="0.61"/>
<path d="M842.81,151.18 Q841.04,153.62 854.04,165.48" fill="none" stroke="#9a9a9a" stroke-width="1.34" opacity="0.74"/>
<path d="M872.24,104.58 Q882.65,111.49 899.33,115.77" fill="none" stroke="#cccccc" stroke-width="0.85" opacity="0.89"/>
<path d="M840.06,168.2 Q825.62,173.64 815.63,165.83" fill="none" stroke="#c0c0c0" stroke-width="1.11" opacity="0.75"/>
<path d="M999.72,126.53 Q1004.7,138.47 1022.58,155.36" fill="none" stroke="#cccccc" stroke-width="0.73" opacity="0.59"/>
<path d="M980.89,122.53 Q998.22,113.93 1002.12,117.36" fill="none" stroke="#cccccc" stroke-width="0.73" opacity="0.67"/>
<path d="M920.61,71.64 Q923.24,59.99 933.3,53.96" fill="none" stroke="#a8a8a8" stroke-width="1.97" opacity="0.59"/>
<path d="M1026.56,17.82 Q1029.55,23.13 1019.05,45.73" fill="none" stroke="#a8a8a8" stroke-width="1.49" opacity="0.5"/>
<path d="M889.57,51.08 Q880.48,35.34 872,31.53" fill="none" stroke="#a8a8a8" stroke-width="1.82" opacity="0.85"/>
<path d="M1011.05,178.71 Q1008.64,165 1023.92,166.02" fill="none" stroke="#9a9a9a" stroke-width="1.73" opacity="0.7"/>
<path d="M936.82,145.37 Q940.45,134.82 933.91,114.27" fill="none" stroke="#9a9a9a" stroke-width="1.67" opacity="0.59"/>
<path d="M843.51,101.76 Q837.55,99.38 835.64,92.08" fill="none" stroke="#a8a8a8" stroke-width="0.86" opacity="0.65"/>
<path d="M802.73,38.19 Q801.67,41.4 784.35,52.28" fill="none" stroke="#c0c0c0" stroke-width="1.04" opacity="0.5"/>
<path d="M958.23,119.31 Q962.61,118.53 976.38,101.41" fill="none" stroke="#a8a8a8" stroke-width="1.09" opacity="0.77"/>
<path d="M910.17,119.85 Q912.82,100.84 923.37,99.2" fill="none" stroke="#cccccc" stroke-width="0.83" opacity="0.51"/>
<path d="M879.7,194.36 Q883.78,191.43 897.18,192.32" fill="none" stroke="#a8a8a8" stroke-width="1.62" opacity="0.78"/>
<path d="M850.94,170.82 Q856.84,176.34 867.8,191.94" fill="none" stroke="#b4b4b4" stroke-width="1.33" opacity="0.47"/>
<path d="M891,49.08 Q882.6,23.55 876.64,13.74" fill="none" stroke="#cccccc" stroke-width="0.8" opacity="0.69"/>
<path d="M869.1,156.36 Q868.05,170.72 856.26,171.9" fill="none" stroke="#9a9a9a" stroke-width="1.59" opacity="0.53"/>
<path d="M858.01,158.15 Q863.88,141.2 861.08,135.92" fill="none" stroke="#cccccc" stroke-width="0.92" opacity="0.56"/>
<path d="M801.61,124.51 Q787.16,109.83 776.9,108.05" fill="none" stroke="#9a9a9a" stroke-width="1.05" opacity="0.7"/>
<path d="M802.04,182.46 Q794.76,168.78 789.18,149.11" fill="none" stroke="#9a9a9a" stroke-width="0.91" opacity="0.65"/>
<path d="M1029.91,68.44 Q1029.6,65.33 1015.52,57.42" fill="none" stroke="#c0c0c0" stroke-width="1.95" opacity="0.53"/>
<path d="M1016.84,132.59 Q1023.78,137.23 1038.17,158.65" fill="none" stroke="#c0c0c0" stroke-width="1.09" opacity="0.82"/>
<path d="M896.81,6.4 Q907.3,-7.48 906.6,-7.91" fill="none" stroke="#cccccc" stroke-width="0.91" opacity="0.57"/>
<path d="M837.67,84.58 Q829.29,96.17 818.97,93.08" fill="none" stroke="#cccccc" stroke-width="1.13" opacity="0.59"/>
<path d="M835.64,60.45 Q835.2,71.8 818.96,85.12" fill="none" stroke="#c0c0c0" stroke-width="1.03" opacity="0.59"/>
<path d="M987.16,44.93 Q995.26,59.84 994.61,57.2" fill="none" stroke="#a8a8a8" stroke-width="1.98" opacity="0.61"/>
<path d="M993.42,103.36 Q993.94,113.58 994.94,117.44" fill="none" stroke="#c0c0c0" stroke-width="1.28" opacity="0.57"/>
<path d="M982.26,128.1 Q974.69,138.94 983.27,164.45" fill="none" stroke="#b4b4b4" stroke-width="0.91" opacity="0.81"/>
<path d="M896.34,121.38 Q902.74,133.19 900.59,145.2" fill="none" stroke="#9a9a9a" stroke-width="0.83" opacity="0.9"/>
<path d="M988.75,129.83 Q1001.4,146.73 1013.42,159.27" fill="none" stroke="#a8a8a8" stroke-width="0.72" opacity="0.62"/>
<path d="M1000.66,148.97 Q986.89,144.21 971.96,156.49" fill="none" stroke="#9a9a9a" stroke-width="1.57" opacity="0.46"/>
<path d="M998.77,177.59 Q987.67,181.54 975.86,182.93" fill="none" stroke="#c0c0c0" stroke-width="1.71" opacity="0.61"/>
<path d="M841.38,182.72 Q850.56,192.1 858.68,210.29" fill="none" stroke="#a8a8a8" stroke-width="1.36" opacity="0.47"/>
<path d="M920.33,146.71 Q930.6,131.04 943.16,130.64" fill="none" stroke="#9a9a9a" stroke-width="1.01" opacity="0.74"/>
<path d="M892.55,30.86 Q882.59,25.15 865.23,3.47" fill="none" stroke="#cccccc" stroke-width="0.91" opacity="0.77"/>
<path d="M859.69,49.54 Q856.46,29.45 843.88,14.63" fill="none" stroke="#a8a8a8" stroke-width="1.82" opacity="0.76"/>
<path d="M887.19,184.09 Q889.78,178.74 889.11,172.65" fill="none" stroke="#cccccc" stroke-width="1.18" opacity="0.47"/>
<path d="M993.22,46.98 Q983.9,32.46 964.57,32.4" fill="none" stroke="#cccccc" stroke-width="1.18" opacity="0.65"/>
<path d="M1029.09,184.7 Q1025.5,170.2 1024.9,165.86" fill="none" stroke="#c0c0c0" stroke-width="1.21" opacity="0.74"/>
<path d="M868.34,140.15 Q854.47,157.01 840.14,159.93" fill="none" stroke="#b4b4b4" stroke-width="1.6" opacity="0.67"/>
<path d="M873.28,35.34 Q873.93,46.88 892.32,51.01" fill="none" stroke="#b4b4b4" stroke-width="1.75" opacity="0.5"/>
<path d="M920.43,99.9 Q923.95,92.32 921.79,83.15" fill="none" stroke="#b4b4b4" stroke-width="1.76" opacity="0.69"/>
<path d="M857.52,161.17 Q846.3,173.35 840.93,171.45" fill="none" stroke="#a8a8a8" stroke-width="1.89" opacity="0.87"/>
<path d="M957.34,118.68 Q974.89,128.09 984.83,145.54" fill="none" stroke="#a8a8a8" stroke-width="1.08" opacity="0.86"/>
<path d="M818.65,86.16 Q831.78,92.67 834.17,111.27" fill="none" stroke="#c0c0c0" stroke-width="1.62" opacity="0.58"/>
<path d="M957.27,135.31 Q962.95,144.18 976.17,156.71" fill="none" stroke="#c0c0c0" stroke-width="1.92" opacity="0.83"/>
<path d="M927.35,9.49 Q947.72,1.68 962.22,-0.26" fill="none" stroke="#9a9a9a" stroke-width="1.19" opacity="0.71"/>
<path d="M1021.23,14.84 Q1030.18,2.38 1034.78,-3.5" fill="none" stroke="#b4b4b4" stroke-width="1.57" opacity="0.71"/>
<path d="M925.66,105.65 Q901.21,114.55 890.03,111.84" fill="none" stroke="#c0c0c0" stroke-width="0.72" opacity="0.7"/>
<path d="M811.85,101.09 Q818.61,103.84 826.76,95.64" fill="none" stroke="#b4b4b4" stroke-width="1.22" opacity="0.75"/>
<path d="M996.91,148.26 Q985.13,164.63 968.33,170" fill="none" stroke="#cccccc" stroke-width="1.09" opacity="0.6"/>
<path d="M886.95,144.27 Q892.39,147.48 901.73,141.43" fill="none" stroke="#b4b4b4" stroke-width="1.43" opacity="0.62"/>
<path d="M816.93,163.95 Q810.71,174.58 821.15,176.33" fill="none" stroke="#c0c0c0" stroke-width="1.46" opacity="0.83"/>
<path d="M795.99,169.33 Q785.7,164.96 778.22,155.51" fill="none" stroke="#9a9a9a" stroke-width="1.65" opacity="0.87"/>
<path d="M806.64,116.36 Q821.04,108.81 832.8,116.59" fill="none" stroke="#c0c0c0" stroke-width="1.81" opacity="0.56"/>
<path d="M1019.48,109.14 Q1018.43,129.83 1020.28,144.93" fill="none" stroke="#c0c0c0" stroke-width="1.26" opacity="0.49"/>
<path d="M818.54,124.58 Q804.33,131.44 798.87,144.07" fill="none" stroke="#a8a8a8" stroke-width="1.73" opacity="0.56"/>
<path d="M905.68,44.85 Q906.48,48.86 911.28,35.21" fill="none" stroke="#b4b4b4" stroke-width="1.54" opacity="0.88"/>
<path d="M953.86,16.23 Q955.12,22.9 944.25,20.43" fill="none" stroke="#9a9a9a" stroke-width="0.73" opacity="0.78"/>
<path d="M849.58,74.38 Q824.54,64.99 813.39,57.46" fill="none" stroke="#cccccc" stroke-width="1.85" opacity="0.65"/>
<path d="M1026.24,44.49 Q1039.9,52.03 1055.79,43.53" fill="none" stroke="#b4b4b4" stroke-width="1.67" opacity="0.57"/>
<path d="M809.2,168.97 Q793.21,169.19 782.01,164.45" fill="none" stroke="#b4b4b4" stroke-width="1.93" opacity="0.61"/>
<path d="M858.85,149.35 Q863.75,143.71 866.99,138.5" fill="none" stroke="#c0c0c0" stroke-width="1.57" opacity="0.5"/>
<path d="M968.54,38.29 Q983.72,36.9 1007.75,32.11" fill="none" stroke="#c0c0c0" stroke-width="0.96" opacity="0.59"/>
<path d="M903.66,22.78 Q915.46,21.49 917.66,13.63" fill="none" stroke="#a8a8a8" stroke-width="1.48" opacity="0.65"/>
<path d="M917.8,41.48 Q923.1,36.04 926.71,32.53" fill="none" stroke="#c0c0c0" stroke-width="1.28" opacity="0.7"/>
<path d="M956.26,55.85 Q967.9,58.46 990.74,54.96" fill="none" stroke="#a8a8a8" stroke-width="0.73" opacity="0.73"/>
<path d="M872.66,149.23 Q874.19,132.06 872.67,122.52" fill="none" stroke="#a8a8a8" stroke-width="1.49" opacity="0.54"/>
<path d="M925.66,188.22 Q924.49,200.29 918.57,205.57" fill="none" stroke="#cccccc" stroke-width="1.5" opacity="0.67"/>
<path d="M993.78,167.05 Q992.89,180.63 1003.02,177.93" fill="none" stroke="#b4b4b4" stroke-width="0.78" opacity="0.53"/>
<path d="M900.66,104.69 Q923.42,112.34 930.9,103.94" fill="none" stroke="#a8a8a8" stroke-width="1.23" opacity="0.73"/>
<path d="M1008.99,126.87 Q1004.62,130.93 996.35,122.54" fill="none" stroke="#b4b4b4" stroke-width="1.24" opacity="0.89"/>
<path d="M947.93,77.58 Q952.33,79.98 940.22,92.09" fill="none" stroke="#cccccc" stroke-width="1.7" opacity="0.62"/>
<path d="M1005.51,125.91 Q992.96,133.6 991.42,137.24" fill="none" stroke="#cccccc" stroke-width="1.69" opacity="0.72"/>
<path d="M1001.99,132.22 Q1002.35,142.97 1002.62,170.57" fill="none" stroke="#b4b4b4" stroke-width="1.94" opacity="0.48"/>
<path d="M924.46,176.39 Q929.31,182.73 935.2,191.2" fill="none" stroke="#cccccc" stroke-width="1.12" opacity="0.87"/>
<path d="M835.09,68.81 Q824.93,75.12 811.4,92.87" fill="none" stroke="#c0c0c0" stroke-width="0.73" opacity="0.83"/>
<path d="M918.51,149.72 Q908.54,142.7 881.29,149.51" fill="none" stroke="#cccccc" stroke-width="1.6" opacity="0.73"/>
<path d="M996.19,10.63 Q990.42,23.15 994.71,40.56" fill="none" stroke="#c0c0c0" stroke-width="1.37" opacity="0.69"/>
<path d="M955.68,43.33 Q955.27,24.4 972.16,17.76" fill="none" stroke="#b4b4b4" stroke-width="1.39" opacity="0.71"/>
<path d="M914.46,40.81 Q927.88,24.89 936.92,21.75" fill="none" stroke="#a8a8a8" stroke-width="1.65" opacity="0.85"/>
<path d="M866.24,26.49 Q866.99,15.38 877.59,-1.45" fill="none" stroke="#b4b4b4" stroke-width="1.96" opacity="0.67"/>
<path d="M955.86,160.3 Q944.58,161.4 923.66,160.17" fill="none" stroke="#b4b4b4" stroke-width="1.91" opacity="0.59"/>
<path d="M1016.47,40.07 Q1006.01,42.95 988.75,57.34" fill="none" stroke="#cccccc" stroke-width="1.12" opacity="0.68"/>
<path d="M1003.22,134.56 Q991.68,129.72 990.4,130.92" fill="none" stroke="#c0c0c0" stroke-width="1" opacity="0.8"/>
<path d="M879.85,140.01 Q862.14,135.3 851.84,142.93" fill="none" stroke="#a8a8a8" stroke-width="0.81" opacity="0.64"/>
<path d="M801.04,23.25 Q813.61,38.75 820.55,40.95" fill="none" stroke="#9a9a9a" stroke-width="1.76" opacity="0.77"/>
<path d="M1011.38,119.97 Q1007.95,128.69 994.32,141.47" fill="none" stroke="#c0c0c0" stroke-width="1.91" opacity="0.89"/>
<path d="M1014.87,22.19 Q1040.13,10.35 1049.58,16.23" fill="none" stroke="#b4b4b4" stroke-width="1.47" opacity="0.62"/>
<path d="M965.69,31.51 Q974.78,44.41 1000.55,50.76" fill="none" stroke="#9a9a9a" stroke-width="1.63" opacity="0.47"/>
<path d="M990.36,36.97 Q1000.02,19.62 1013.3,7.71" fill="none" stroke="#a8a8a8" stroke-width="1.15" opacity="0.7"/>
<path d="M838.63,70.56 Q833.83,53.77 830.78,52.98" fill="none" stroke="#c0c0c0" stroke-width="1.16" opacity="0.8"/>
<path d="M914.86,107.5 Q917.16,92.18 911.74,92.6" fill="none" stroke="#9a9a9a" stroke-width="1.01" opacity="0.55"/>
<path d="M811.13,151.04 Q806.45,138.33 799.07,115.61" fill="none" stroke="#a8a8a8" stroke-width="1.12" opacity="0.59"/>
<path d="M1026.69,23.5 Q1032.59,28.01 1046.84,22.73" fill="none" stroke="#c0c0c0" stroke-width="1.49" opacity="0.89"/>
<path d="M872.89,132.72 Q881.58,131.7 880.4,143.3" fill="none" stroke="#9a9a9a" stroke-width="1.92" opacity="0.63"/>
<path d="M865.13,64.18 Q880.36,76.79 883.82,73.33" fill="none" stroke="#a8a8a8" stroke-width="1.96" opacity="0.52"/>
<path d="M826.06,185.63 Q826.29,178.39 834.62,166.67" fill="none" stroke="#b4b4b4" stroke-width="1.92" opacity="0.79"/>
<path d="M965.57,45.24 Q980.11,34.55 991.35,33.95" fill="none" stroke="#cccccc" stroke-width="1.06" opacity="0.86"/>
<path d="M1005.66,129.84 Q1005.68,105.72 1000.14,93.37" fill="none" stroke="#b4b4b4" stroke-width="0.98" opacity="0.82"/>
<path d="M858.99,187.86 Q874.95,169 875.98,159.91" fill="none" stroke="#b4b4b4" stroke-width="1.73" opacity="0.81"/>
<path d="M982.03,94.69 Q997.12,96.95 1002.73,89.34" fill="none" stroke="#a8a8a8" stroke-width="0.8" opacity="0.77"/>
<path d="M950.21,143.79 Q942.14,130.25 928.62,134.1" fill="none" stroke="#a8a8a8" stroke-width="1.79" opacity="0.5"/>
<path d="M976.95,108.72 Q992.22,111.1 995.91,115.58" fill="none" stroke="#a8a8a8" stroke-width="1.96" opacity="0.89"/>
<path d="M839.44,163.96 Q844.54,153.01 836.26,147.48" fill="none" stroke="#9a9a9a" stroke-width="1.63" opacity="0.83"/>
<path d="M1029.62,67.34 Q1011.01,64.09 1002.85,54.54" fill="none" stroke="#c0c0c0" stroke-width="1.57" opacity="0.8"/>
<path d="M888.27,142.93 Q868.88,164.83 865.78,171.23" fill="none" stroke="#b4b4b4" stroke-width="1.92" opacity="0.45"/>
<path d="M882.39,178.59 Q867.41,179.12 851.6,176.19" fill="none" stroke="#a8a8a8" stroke-width="1.85" opacity="0.63"/>
<path d="M948.03,156.01 Q936.24,151.92 931.81,154.41" fill="none" stroke="#9a9a9a" stroke-width="1.51" opacity="0.81"/>
<path d="M945.44,42.18 Q949.1,43.2 954.4,27.76" fill="none" stroke="#c0c0c0" stroke-width="0.9" opacity="0.77"/>
<path d="M877.73,163.67 Q862.19,170.65 838.91,170.88" fill="none" stroke="#a8a8a8" stroke-width="1.47" opacity="0.68"/>
<path d="M839.82,142.78 Q851.15,134.11 871.3,118.23" fill="none" stroke="#b4b4b4" stroke-width="1.39" opacity="0.55"/>
<path d="M876.07,20.27 Q879.39,17.71 877.35,-0.76" fill="none" stroke="#9a9a9a" stroke-width="1.98" opacity="0.86"/>
<path d="M843.09,117.41 Q847.64,129.24 838.47,139.23" fill="none" stroke="#cccccc" stroke-width="1.39" opacity="0.72"/>
<path d="M800.68,141.71 Q814.78,151.35 830.32,165.57" fill="none" stroke="#c0c0c0" stroke-width="1.48" opacity="0.6"/>
<path d="M894.54,28.53 Q886.97,33.37 880.86,29.47" fill="none" stroke="#c0c0c0" stroke-width="1.7" opacity="0.63"/>
<path d="M930.62,151 Q928.4,163.46 912.79,178.85" fill="none" stroke="#9a9a9a" stroke-width="0.79" opacity="0.76"/>
<path d="M1011.03,78.22 Q1001.55,64.24 982.47,67.64" fill="none" stroke="#a8a8a8" stroke-width="1.94" opacity="0.84"/>
<path d="M936.1,119.21 Q929.04,138.69 915.02,141.2" fill="none" stroke="#c0c0c0" stroke-width="1.33" opacity="0.71"/>
<path d="M971.16,155.28 Q959.45,159.6 951.46,181.17" fill="none" stroke="#b4b4b4" stroke-width="0.8" opacity="0.87"/>
<path d="M1004.27,176.51 Q1005.86,183.64 998.75,206.2" fill="none" stroke="#9a9a9a" stroke-width="1.07" opacity="0.63"/>
<path d="M791.9,77.26 Q796.42,92.85 813.79,104.02" fill="none" stroke="#a8a8a8" stroke-width="1.11" opacity="0.79"/>
<path d="M874.15,137.43 Q861.17,141.35 849.68,157.89" fill="none" stroke="#a8a8a8" stroke-width="1.43" opacity="0.47"/>
<path d="M990.34,94.44 Q976.72,108.76 975.5,109.48" fill="none" stroke="#a8a8a8" stroke-width="0.84" opacity="0.83"/>
<path d="M814.28,71.29 Q808.78,49.34 816.08,41.91" fill="none" stroke="#cccccc" stroke-width="1" opacity="0.49"/>
<path d="M958.56,147.64 Q953.1,135.26 953.84,131.88" fill="none" stroke="#cccccc" stroke-width="1.42" opacity="0.53"/>
<path d="M975.43,138.41 Q966.64,150.69 953.95,167.51" fill="none" stroke="#a8a8a8" stroke-width="1.34" opacity="0.9"/>
<path d="M830.84,80.65 Q826.46,65.24 839.69,48.21" fill="none" stroke="#a8a8a8" stroke-width="0.73" opacity="0.82"/>
<path d="M852.16,169.6 Q866.91,168.24 877.03,162.75" fill="none" stroke="#a8a8a8" stroke-width="1.88" opacity="0.88"/>
<path d="M832.1,132.69 Q814.08,147.87 803.84,155.61" fill="none" stroke="#9a9a9a" stroke-width="0.74" opacity="0.52"/>
<path d="M809.32,118.19 Q818.39,114.82 809.59,108.18" fill="none" stroke="#9a9a9a" stroke-width="1.27" opacity="0.66"/>
<path d="M969.56,187.16 Q970.1,184.02 962.15,174.89" fill="none" stroke="#a8a8a8" stroke-width="1.13" opacity="0.77"/>
<path d="M959,50.4 Q950.64,39.44 930.24,41.63" fill="none" stroke="#b4b4b4" stroke-width="1.88" opacity="0.54"/>
<path d="M1029.96,170.38 Q1021.5,155.81 1011.98,136.86" fill="none" stroke="#a8a8a8" stroke-width="0.82" opacity="0.5"/>
<path d="M950.08,72.13 Q930.38,75.54 920.61,85.6" fill="none" stroke="#b4b4b4" stroke-width="1.84" opacity="0.89"/>
<path d="M854.8,191.39 Q850.48,175.71 835.8,160.02" fill="none" stroke="#9a9a9a" stroke-width="1.33" opacity="0.48"/>
<path d="M861.7,52.85 Q858.85,31.73 840.62,27.18" fill="none" stroke="#c0c0c0" stroke-width="1.5" opacity="0.8"/>
<path d="M928.54,37.82 Q937.95,46.81 940.19,47.08" fill="none" stroke="#cccccc" stroke-width="0.74" opacity="0.83"/>
<path d="M873.12,137.99 Q883.33,139.81 901.08,152.72" fill="none" stroke="#c0c0c0" stroke-width="1.39" opacity="0.79"/>
<path d="M1014.92,172.35 Q1014.66,159.36 1010.33,158.17" fill="none" stroke="#c0c0c0" stroke-width="1.94" opacity="0.89"/>
<path d="M800.65,72.12 Q808.59,68.43 826.02,51.28" fill="none" stroke="#b4b4b4" stroke-width="1.94" opacity="0.8"/>
<path d="M801.72,17.02 Q807.92,14.61 819.55,3.73" fill="none" stroke="#cccccc" stroke-width="1.61" opacity="0.58"/>
<path d="M948.2,92.66 Q953.49,78.07 942.84,66.34" fill="none" stroke="#9a9a9a" stroke-width="1.57" opacity="0.81"/>
<path d="M897.02,61.02 Q890.35,86.23 896.57,100.03" fill="none" stroke="#9a9a9a" stroke-width="0.87" opacity="0.7"/>
<path d="M797.83,24.13 Q786.55,29.24 765.74,36.69" fill="none" stroke="#cccccc" stroke-width="1.45" opacity="0.69"/>
<path d="M856.16,80.02 Q863.33,90.71 864.51,87.46" fill="none" stroke="#a8a8a8" stroke-width="1.17" opacity="0.61"/>
<path d="M854.94,66.89 Q840.15,60.05 837.7,60.31" fill="none" stroke="#a8a8a8" stroke-width="1.72" opacity="0.57"/>
<path d="M935.06,80.98 Q936.43,88.94 952.73,91.36" fill="none" stroke="#b4b4b4" stroke-width="0.8" opacity="0.63"/>
<path d="M1000.36,118.83 Q1006.51,123.67 1009.32,111.97" fill="none" stroke="#a8a8a8" stroke-width="1.92" opacity="0.76"/>
<path d="M840.25,163.04 Q822.9,155.83 822.14,133.81" fill="none" stroke="#c0c0c0" stroke-width="1.9" opacity="0.59"/>
<path d="M996.23,55.27 Q989.62,48.91 982.59,54.36" fill="none" stroke="#c0c0c0" stroke-width="0.77" opacity="0.83"/>
<path d="M943.33,108.09 Q945.02,105.96 938.13,119.9" fill="none" stroke="#9a9a9a" stroke-width="1.31" opacity="0.59"/>
<path d="M963.71,179.45 Q964.34,166.5 965.41,166.18" fill="none" stroke="#b4b4b4" stroke-width="1.57" opacity="0.66"/>
<path d="M999.18,35.45 Q992.69,32.98 980.12,44.27" fill="none" stroke="#a8a8a8" stroke-width="1.83" opacity="0.62"/>
<path d="M1019.59,75.91 Q1012.99,93.94 988.74,97.57" fill="none" stroke="#9a9a9a" stroke-width="1.63" opacity="0.84"/>
<path d="M831.98,143.29 Q858.97,147.43 868.84,145.07" fill="none" stroke="#b4b4b4" stroke-width="0.99" opacity="0.85"/>
<path d="M946,194.59 Q952.28,184.23 961.15,191.67" fill="none" stroke="#b4b4b4" stroke-width="0.77" opacity="0.66"/>
<path d="M810.41,119.67 Q809.45,119.82 813.33,133.15" fill="none" stroke="#a8a8a8" stroke-width="0.99" opacity="0.82"/>
<path d="M805.46,33.71 Q796.69,35.44 771.58,51.5" fill="none" stroke="#cccccc" stroke-width="1.3" opacity="0.66"/>
<path d="M1008.63,73.23 Q1005.2,73.34 1012.68,61.15" fill="none" stroke="#c0c0c0" stroke-width="1.8" opacity="0.65"/>
<path d="M860.28,100.29 Q846.69,105.18 838.24,98.72" fill="none" stroke="#a8a8a8" stroke-width="1.57" opacity="0.73"/>
<path d="M897.75,50.16 Q896.86,62 898.24,81.82" fill="none" stroke="#9a9a9a" stroke-width="1.03" opacity="0.9"/>
<path d="M933.04,173.05 Q931.76,184.78 932.72,192.49" fill="none" stroke="#b4b4b4" stroke-width="1.19" opacity="0.55"/>
<path d="M1000.16,60.72 Q1007.1,68.72 1022.23,66.96" fill="none" stroke="#9a9a9a" stroke-width="1.53" opacity="0.56"/>
<path d="M792.36,174.93 Q776.6,189.73 769.01,187.28" fill="none" stroke="#b4b4b4" stroke-width="0.86" opacity="0.69"/>
<path d="M817.32,75.86 Q810.61,81.22 786.67,95.44" fill="none" stroke="#a8a8a8" stroke-width="1.59" opacity="0.47"/>
<path d="M888.37,158.3 Q903.93,158.57 903.97,151.99" fill="none" stroke="#b4b4b4" stroke-width="1.2" opacity="0.47"/>
<path d="M927.47,37.51 Q932.4,49.07 932.11,61.41" fill="none" stroke="#cccccc" stroke-width="1.12" opacity="0.49"/>
<path d="M992.13,74 Q987.84,84.28 978.94,100.76" fill="none" stroke="#c0c0c0" stroke-width="1.2" opacity="0.89"/>
<path d="M1024.35,93.13 Q1033.79,95.41 1042.94,85.16" fill="none" stroke="#c0c0c0" stroke-width="0.8" opacity="0.83"/>
<path d="M993.43,51.48 Q1001.63,65.03 1002.78,86.3" fill="none" stroke="#cccccc" stroke-width="1.51" opacity="0.83"/>
<path d="M878.74,140.4 Q888.92,134.19 911.6,132.34" fill="none" stroke="#a8a8a8" stroke-width="0.97" opacity="0.53"/>
<path d="M1003.3,11.34 Q1000.6,22.55 1010.74,21.55" fill="none" stroke="#c0c0c0" stroke-width="1.83" opacity="0.7"/>
<path d="M951.5,122.02 Q960.79,127.49 959.39,138.66" fill="none" stroke="#b4b4b4" stroke-width="1.67" opacity="0.59"/>
<path d="M889.78,169.45 Q887.76,183.38 881.03,188.73" fill="none" stroke="#9a9a9a" stroke-width="2" opacity="0.84"/>
<path d="M958.28,156.19 Q960.48,158.37 977.6,162.54" fill="none" stroke="#9a9a9a" stroke-width="0.96" opacity="0.75"/>
<path d="M1026.52,15.24 Q1027.21,17.78 1039.81,6.02" fill="none" stroke="#b4b4b4" stroke-width="1.17" opacity="0.73"/>
<path d="M815.38,30.67 Q801.06,36.62 793.79,36.41" fill="none" stroke="#a8a8a8" stroke-width="1.71" opacity="0.49"/>
<path d="M999.46,95 Q994.2,106.17 999.07,105.55" fill="none" stroke="#9a9a9a" stroke-width="1.16" opacity="0.45"/>
<path d="M932.25,16.07 Q932.52,5.65 939.18,-13.04" fill="none" stroke="#b4b4b4" stroke-width="1.63" opacity="0.67"/>
<path d="M939.18,129.09 Q918.48,132.28 910.4,136.53" fill="none" stroke="#b4b4b4" stroke-width="1.62" opacity="0.49"/>
<path d="M900.1,89.73 Q888.71,93.72 884.57,110" fill="none" stroke="#cccccc" stroke-width="0.84" opacity="0.62"/>
<path d="M912,144.6 Q910.29,150.23 896.8,152.57" fill="none" stroke="#b4b4b4" stroke-width="1" opacity="0.56"/>
<path d="M805.47,193.58 Q809.18,184.16 801.68,176.5" fill="none" stroke="#cccccc" stroke-width="1.24" opacity="0.55"/>
<path d="M957.46,133.59 Q979.17,135 985.42,127.35" fill="none" stroke="#b4b4b4" stroke-width="1.99" opacity="0.57"/>
<path d="M798.87,192.4 Q796.78,191.8 807.89,183.53" fill="none" stroke="#cccccc" stroke-width="1.97" opacity="0.67"/>
<path d="M811.75,144.02 Q802.41,151.83 803.5,161.85" fill="none" stroke="#cccccc" stroke-width="1.07" opacity="0.86"/>
<path d="M930.44,75.34 Q938.32,68.09 948.14,64.72" fill="none" stroke="#a8a8a8" stroke-width="1.05" opacity="0.49"/>
<path d="M916.82,26.35 Q900.27,12.5 898.01,16.4" fill="none" stroke="#a8a8a8" stroke-width="1.38" opacity="0.59"/>
<path d="M872.67,72.77 Q861.81,76.64 862.33,82.06" fill="none" stroke="#c0c0c0" stroke-width="1.98" opacity="0.49"/>
<path d="M942.92,158.72 Q965.28,168.79 981.12,162.79" fill="none" stroke="#a8a8a8" stroke-width="1.76" opacity="0.82"/>
<path d="M879.89,49.97 Q876.43,61 885.14,68.64" fill="none" stroke="#a8a8a8" stroke-width="0.9" opacity="0.49"/>
<path d="M885.73,46.7 Q877.67,47.22 854.04,41.52" fill="none" stroke="#b4b4b4" stroke-width="1.84" opacity="0.86"/>
<path d="M930.4,165.36 Q915.34,164.04 905.02,168.46" fill="none" stroke="#b4b4b4" stroke-width="1.94" opacity="0.85"/>
<path d="M855.84,168.7 Q876.94,151.2 883.19,149.91" fill="none" stroke="#a8a8a8" stroke-width="1.49" opacity="0.75"/>
<path d="M920.64,8.96 Q926.99,4.7 933.34,2.77" fill="none" stroke="#c0c0c0" stroke-width="1.77" opacity="0.7"/>
<path d="M955.58,51.99 Q955.79,63.19 960.59,64.33" fill="none" stroke="#cccccc" stroke-width="1.07" opacity="0.59"/>
<path d="M1000.5,27.96 Q1011.11,23.23 1028.04,6.91" fill="none" stroke="#cccccc" stroke-width="0.87" opacity="0.65"/>
<path d="M807.97,15.32 Q817.13,28.83 826.49,31.99" fill="none" stroke="#cccccc" stroke-width="1" opacity="0.88"/>
<path d="M820.49,21.64 Q811.27,15.02 796.14,10.21" fill="none" stroke="#c0c0c0" stroke-width="1.19" opacity="0.73"/>
<path d="M931.2,30.33 Q949.9,23.68 963.24,14.35" fill="none" stroke="#cccccc" stroke-width="1.18" opacity="0.88"/>
<path d="M895.83,179.53 Q906.3,178.13 919.82,169.59" fill="none" stroke="#b4b4b4" stroke-width="1.12" opacity="0.6"/>
<path d="M802.3,99.92 Q817.46,99.82 833.3,84.21" fill="none" stroke="#cccccc" stroke-width="1.83" opacity="0.86"/>
<path d="M1028.05,104.03 Q1033.94,93.46 1032.22,80.03" fill="none" stroke="#c0c0c0" stroke-width="1" opacity="0.55"/>
<path d="M819.93,169.47 Q827.96,145.06 827.95,136.16" fill="none" stroke="#9a9a9a" stroke-width="1.97" opacity="0.72"/>
<path d="M957.69,182.07 Q958.46,181.28 960.61,164.83" fill="none" stroke="#cccccc" stroke-width="1.4" opacity="0.67"/>
<path d="M991.18,164.32 Q992.68,175.4 1008.2,177.52" fill="none" stroke="#b4b4b4" stroke-width="1.82" opacity="0.83"/>
<path d="M923.85,169.94 Q917.88,178.11 912.27,187.67" fill="none" stroke="#a8a8a8" stroke-width="1.22" opacity="0.69"/>
<path d="M990.61,36.35 Q995.89,51.22 999.55,50.27" fill="none" stroke="#9a9a9a" stroke-width="1.17" opacity="0.73"/>
<path d="M879.1,122.77 Q888.59,134.31 913.13,132.57" fill="none" stroke="#cccccc" stroke-width="1.92" opacity="0.67"/>
<path d="M878.37,113.62 Q893.69,114.77 911.82,103.81" fill="none" stroke="#b4b4b4" stroke-width="1.14" opacity="0.6"/>
<path d="M1006.13,82.39 Q1018.78,81.53 1023.49,91.13" fill="none" stroke="#cccccc" stroke-width="1.49" opacity="0.53"/>
<path d="M833.72,133.54 Q841.63,140.18 838.57,156.79" fill="none" stroke="#9a9a9a" stroke-width="1.96" opacity="0.82"/>
<path d="M804.5,26.98 Q791.27,37.73 784.74,58.59" fill="none" stroke="#9a9a9a" stroke-width="0.89" opacity="0.58"/>
<path d="M811.71,18.3 Q800.82,28.98 782.51,29.91" fill="none" stroke="#a8a8a8" stroke-width="1.07" opacity="0.64"/>
<path d="M869.83,54.81 Q861.81,39.69 861.2,26.27" fill="none" stroke="#cccccc" stroke-width="1.33" opacity="0.56"/>
<path d="M979.61,41.73 Q965.22,38.61 964.88,26.74" fill="none" stroke="#9a9a9a" stroke-width="0.92" opacity="0.59"/>
<path d="M915.91,75.25 Q911.43,67.59 895.61,69.54" fill="none" stroke="#9a9a9a" stroke-width="1.13" opacity="0.53"/>
<path d="M835.07,142.58 Q847.98,144.32 847.22,163.97" fill="none" stroke="#9a9a9a" stroke-width="0.87" opacity="0.62"/>
<path d="M881.15,71.08 Q878.05,86.11 881.81,94.9" fill="none" stroke="#c0c0c0" stroke-width="1.51" opacity="0.58"/>
<path d="M936.87,109.66 Q954.76,108.37 971.53,105.54" fill="none" stroke="#c0c0c0" stroke-width="1.3" opacity="0.71"/>
<path d="M1009,5.57 Q1009.58,17.95 1008.23,18.66" fill="none" stroke="#cccccc" stroke-width="0.86" opacity="0.49"/>
<path d="M1013.96,76.87 Q1022.09,91.86 1013.63,89.07" fill="none" stroke="#9a9a9a" stroke-width="0.98" opacity="0.77"/>
<path d="M922.17,190.14 Q906.67,199.33 896.83,194.61" fill="none" stroke="#a8a8a8" stroke-width="1.27" opacity="0.61"/>
<path d="M818.76,43.02 Q809.34,47.21 813.42,64.82" fill="none" stroke="#c0c0c0" stroke-width="1.19" opacity="0.75"/>
<path d="M820.65,176.87 Q831.07,174.44 831.2,182.76" fill="none" stroke="#a8a8a8" stroke-width="2" opacity="0.61"/>
<path d="M922.81,38.02 Q925.2,16.89 927.91,5.13" fill="none" stroke="#a8a8a8" stroke-width="1.05" opacity="0.63"/>
</g></g>
<text x="810.5" y="30.5" font-size="14" fill="#e0e0e0" text-anchor="start" font-weight="normal" >g</text>
<text x="830.4" y="162.4" font-size="20" fill="#fff" text-anchor="start" font-weight="bold" >10 μm</text>
<rect x="816.4" y="169" width="100.4" height="5.3" fill="#fff"/>
<text x="548.6" y="234.7" font-size="16" fill="#222" text-anchor="start" font-weight="normal" >h</text>
<filter id="blh" x="-50%" y="-50%" width="200%" height="200%"><feGaussianBlur stdDeviation="2"/></filter>
<rect x="571.7" y="359.6" width="126.7" height="43.1" fill="#060606"/>
<circle cx="639.5" cy="324.5" r="43.9" fill="#080808"/>
<path d="M612,359.7 Q616,354 622,352 L657,352 Q663,354 667,359.7 Z" fill="#080808"/>
<linearGradient id="glw" x1="0" x2="0" y1="0" y2="1"><stop offset="0" stop-color="#fff" stop-opacity="0"/><stop offset="1" stop-color="#fff" stop-opacity="0.75"/></linearGradient>
<path d="M624,320.6 Q638.5,304 653,320.6 Z" fill="url(#glw)" filter="url(#bl2)"/>
<path d="M623.3,320.5 Q638.5,318.5 653.7,320.5 A15.2,16.2 0 0 1 623.3,320.5 Z" fill="#fff"/>
<ellipse cx="652.4" cy="349.3" rx="1" ry="2" transform="rotate(-40 652.4 349.3)" fill="#666"/>
<text x="582.4" y="432.2" font-size="22" fill="#2473b8" text-anchor="start" font-weight="bold" >~150.18°</text>
<rect x="892.1" y="353.5" width="130.5" height="50" fill="#060606"/>
<circle cx="960.1" cy="321.1" r="42.9" fill="#080808"/>
<path d="M933,353.6 Q937,348 943,346 L977,346 Q983,348 987,353.6 Z" fill="#080808"/>
<path d="M946.5,318.1 Q959.2,302 971.9,318.1 Z" fill="url(#glw)" filter="url(#bl2)"/>
<path d="M946,318 Q959.2,316 972.4,318 A13.2,13.7 0 0 1 946,318 Z" fill="#fff"/>
<ellipse cx="972.4" cy="344.2" rx="1" ry="2" transform="rotate(-40 972.4 344.2)" fill="#666"/>
<text x="916" y="433.4" font-size="22" fill="#2473b8" text-anchor="start" font-weight="bold" >~147.05°</text>
<rect x="716" y="242.8" width="80" height="210.1" fill="url(#sea)"/>
<rect x="796" y="242.8" width="83" height="210.1" fill="url(#koh)"/>
<path d="M784.2,253.3 Q788,267.8 784.2,282.3 L807.8,282.3 Q801.5,267.8 807.8,253.3 Z M784.2,292.8 Q788,307.35 784.2,321.9 L807.8,321.9 Q801.5,307.35 807.8,292.8 Z M784.2,332.4 Q788,347.15 784.2,361.9 L807.8,361.9 Q801.5,347.15 807.8,332.4 Z M784.2,372.4 Q788,387.65 784.2,402.9 L807.8,402.9 Q801.5,387.65 807.8,372.4 Z M784.2,413.4 Q788,427.8 784.2,442.2 L807.8,442.2 Q801.5,427.8 807.8,413.4 Z" fill="#e2e1e4"/>
<rect x="784.2" y="242.8" width="23.6" height="10.5" fill="#7b7b7b"/>
<rect x="784.2" y="282.3" width="23.6" height="10.5" fill="#7b7b7b"/>
<rect x="784.2" y="321.9" width="23.6" height="10.5" fill="#7b7b7b"/>
<rect x="784.2" y="361.9" width="23.6" height="10.5" fill="#7b7b7b"/>
<rect x="784.2" y="402.9" width="23.6" height="10.5" fill="#7b7b7b"/>
<rect x="784.2" y="442.2" width="23.6" height="10.5" fill="#7b7b7b"/>
<circle cx="801.4" cy="257.7" r="3.9" fill="url(#ball)"/>
<circle cx="794.5" cy="274.9" r="3.9" fill="url(#ball)"/>
<circle cx="799.7" cy="300.7" r="3.9" fill="url(#ball)"/>
<circle cx="792.1" cy="315.1" r="3.9" fill="url(#ball)"/>
<circle cx="797.6" cy="338" r="3.9" fill="url(#ball)"/>
<circle cx="795.1" cy="392.8" r="3.9" fill="url(#ball)"/>
<circle cx="791.2" cy="423.1" r="3.9" fill="url(#ball)"/>
<circle cx="798.6" cy="435.6" r="3.9" fill="url(#ball)"/>
<circle cx="773.9" cy="257.7" r="2.5" fill="#f5e6ea"/>
<circle cx="761.9" cy="285.9" r="2.5" fill="#f5e6ea"/>
<circle cx="773.9" cy="311" r="2.5" fill="#f5e6ea"/>
<circle cx="771.4" cy="353.9" r="2.5" fill="#f5e6ea"/>
<circle cx="761.7" cy="379.2" r="2.5" fill="#f5e6ea"/>
<circle cx="770.4" cy="398.5" r="2.5" fill="#f5e6ea"/>
<circle cx="758.8" cy="423.5" r="2.5" fill="#f5e6ea"/>
<circle cx="773.3" cy="433.8" r="2.5" fill="#f5e6ea"/>
<path d="M770.5,281.3 L778.25,279.3 L776.3,285.7 Z" fill="#111"/>
<circle cx="781.4" cy="285.5" r="1.35" fill="#111"/>
<circle cx="782" cy="290.2" r="1.35" fill="#111"/>
<circle cx="778.8" cy="294.2" r="1.35" fill="#111"/>
<circle cx="774.3" cy="296" r="1.35" fill="#111"/>
<path d="M770.5,321.7 L778.25,319.7 L776.3,326.1 Z" fill="#111"/>
<circle cx="781.4" cy="325.9" r="1.35" fill="#111"/>
<circle cx="782" cy="330.6" r="1.35" fill="#111"/>
<circle cx="778.8" cy="334.6" r="1.35" fill="#111"/>
<circle cx="774.3" cy="336.4" r="1.35" fill="#111"/>
<path d="M768,366.5 L775.75,364.5 L773.8,370.9 Z" fill="#111"/>
<circle cx="778.9" cy="370.7" r="1.35" fill="#111"/>
<circle cx="779.5" cy="375.4" r="1.35" fill="#111"/>
<circle cx="776.3" cy="379.4" r="1.35" fill="#111"/>
<circle cx="771.8" cy="381.2" r="1.35" fill="#111"/>
<path d="M767.1,413.4 L774.85,411.4 L772.9,417.8 Z" fill="#111"/>
<circle cx="778" cy="417.6" r="1.35" fill="#111"/>
<circle cx="778.6" cy="422.3" r="1.35" fill="#111"/>
<circle cx="775.4" cy="426.3" r="1.35" fill="#111"/>
<circle cx="770.9" cy="428.1" r="1.35" fill="#111"/>
<text x="720.6" y="225.8" font-size="11.15" fill="#222" text-anchor="start" font-weight="normal" >Waterproof breathable membrane</text>
<line x1="796.8" y1="227" x2="796.8" y2="249.8" stroke="#333" stroke-width="1.3" />
<text x="747.8" y="337.6" font-size="11.2" fill="#fff" text-anchor="middle" font-weight="bold" >Impurity</text>
<text x="747.8" y="350.2" font-size="11.2" fill="#fff" text-anchor="middle" font-weight="bold" >ions</text>
<text x="722" y="448.5" font-size="11" fill="#fff" text-anchor="start" font-weight="bold" >Seawater</text>
<text x="818.3" y="448.5" font-size="11" fill="#fff" text-anchor="start" font-weight="bold" >KOH SDE</text>
<line x1="698.4" y1="362.8" x2="782" y2="362.8" stroke="#6aad48" stroke-width="2" />
<line x1="809.7" y1="326.2" x2="892.1" y2="326.2" stroke="#6aad48" stroke-width="2" />
<circle cx="782.1" cy="362.8" r="6.8" fill="#6aad48"/>
<circle cx="809.7" cy="326.2" r="6.8" fill="#6aad48"/>
</svg></body></html>
